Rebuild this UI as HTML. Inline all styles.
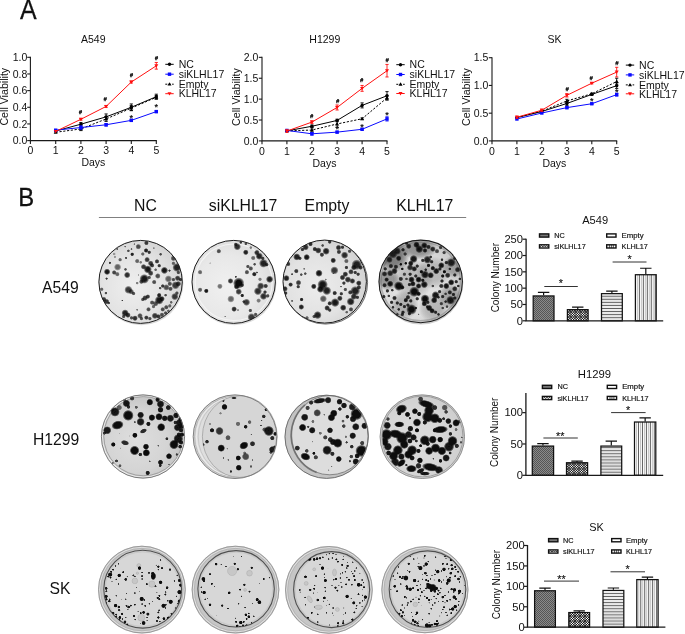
<!DOCTYPE html>
<html><head><meta charset="utf-8"><title>Figure</title>
<style>html,body{margin:0;padding:0;background:#fff;}body{width:685px;height:634px;overflow:hidden;}svg{display:block;will-change:transform;}text{font-family:"Liberation Sans", sans-serif;fill:#111;}</style>
</head><body>
<svg width="685" height="634" viewBox="0 0 685 634">
<defs>
<pattern id="pNC" width="2" height="2" patternUnits="userSpaceOnUse"><rect width="2" height="2" fill="#8a8a8a"/><rect width="1" height="1" fill="#555"/><rect x="1" y="1" width="1" height="1" fill="#555"/></pattern>
<pattern id="pSI" width="2.4" height="2.4" patternUnits="userSpaceOnUse"><rect width="2.4" height="2.4" fill="#111"/><path d="M1.2,0.05 L2.35,1.2 L1.2,2.35 L0.05,1.2 Z" fill="#fff"/></pattern>
<pattern id="pEM" width="4" height="3.05" patternUnits="userSpaceOnUse"><rect width="4" height="3.05" fill="#fff"/><rect y="1.0" width="4" height="0.85" fill="#3a3a3a"/><rect y="2.55" width="4" height="0.4" fill="#d0d0d0"/></pattern>
<pattern id="pKL" width="3.2" height="4" patternUnits="userSpaceOnUse"><rect width="3.2" height="4" fill="#fff"/><rect x="1.1" width="0.85" height="4" fill="#3a3a3a"/></pattern>
<filter id="bl" x="-5%" y="-5%" width="110%" height="110%"><feGaussianBlur stdDeviation="0.45"/></filter>
<filter id="bl2" x="-5%" y="-5%" width="110%" height="110%"><feGaussianBlur stdDeviation="0.7"/></filter>
<radialGradient id="sb"><stop offset="0" stop-color="#0a0a0a" stop-opacity="1"/><stop offset="0.5" stop-color="#0a0a0a" stop-opacity="0.97"/><stop offset="0.75" stop-color="#0a0a0a" stop-opacity="0.6"/><stop offset="1" stop-color="#0a0a0a" stop-opacity="0"/></radialGradient>
<radialGradient id="sb2"><stop offset="0" stop-color="#0a0a0a" stop-opacity="1"/><stop offset="0.65" stop-color="#0a0a0a" stop-opacity="0.97"/><stop offset="0.85" stop-color="#0a0a0a" stop-opacity="0.55"/><stop offset="1" stop-color="#0a0a0a" stop-opacity="0"/></radialGradient>
<filter id="bl3" x="-5%" y="-5%" width="110%" height="110%"><feGaussianBlur stdDeviation="0.68"/></filter>
</defs>
<rect width="685" height="634" fill="#fff"/>
<g opacity="0.999">
<text transform="translate(20.0,18.5) scale(0.89,1)" font-size="28" stroke="#111" stroke-width="0.3">A</text>
<text transform="translate(18.3,205.7) scale(0.92,1)" font-size="26" stroke="#111" stroke-width="0.3">B</text>
<path d="M30.4,56.8 V140.6 H156.8" fill="none" stroke="#1a1a1a" stroke-width="1.1"/>
<line x1="27.2" x2="30.4" y1="140.60" y2="140.60" stroke="#1a1a1a" stroke-width="1.1"/>
<text x="27.3" y="144.30" text-anchor="end" font-size="10.5">0.0</text>
<line x1="27.2" x2="30.4" y1="123.94" y2="123.94" stroke="#1a1a1a" stroke-width="1.1"/>
<text x="27.3" y="127.64" text-anchor="end" font-size="10.5">0.2</text>
<line x1="27.2" x2="30.4" y1="107.28" y2="107.28" stroke="#1a1a1a" stroke-width="1.1"/>
<text x="27.3" y="110.98" text-anchor="end" font-size="10.5">0.4</text>
<line x1="27.2" x2="30.4" y1="90.62" y2="90.62" stroke="#1a1a1a" stroke-width="1.1"/>
<text x="27.3" y="94.32" text-anchor="end" font-size="10.5">0.6</text>
<line x1="27.2" x2="30.4" y1="73.96" y2="73.96" stroke="#1a1a1a" stroke-width="1.1"/>
<text x="27.3" y="77.66" text-anchor="end" font-size="10.5">0.8</text>
<line x1="27.2" x2="30.4" y1="57.30" y2="57.30" stroke="#1a1a1a" stroke-width="1.1"/>
<text x="27.3" y="61.00" text-anchor="end" font-size="10.5">1.0</text>
<line x1="30.4" x2="30.4" y1="140.6" y2="144.0" stroke="#1a1a1a" stroke-width="1.1"/>
<text x="30.4" y="154.30" text-anchor="middle" font-size="10.5">0</text>
<line x1="55.7" x2="55.7" y1="140.6" y2="144.0" stroke="#1a1a1a" stroke-width="1.1"/>
<text x="55.7" y="154.30" text-anchor="middle" font-size="10.5">1</text>
<line x1="80.9" x2="80.9" y1="140.6" y2="144.0" stroke="#1a1a1a" stroke-width="1.1"/>
<text x="80.9" y="154.30" text-anchor="middle" font-size="10.5">2</text>
<line x1="106.1" x2="106.1" y1="140.6" y2="144.0" stroke="#1a1a1a" stroke-width="1.1"/>
<text x="106.1" y="154.30" text-anchor="middle" font-size="10.5">3</text>
<line x1="131.3" x2="131.3" y1="140.6" y2="144.0" stroke="#1a1a1a" stroke-width="1.1"/>
<text x="131.3" y="154.30" text-anchor="middle" font-size="10.5">4</text>
<line x1="156.3" x2="156.3" y1="140.6" y2="144.0" stroke="#1a1a1a" stroke-width="1.1"/>
<text x="156.3" y="154.30" text-anchor="middle" font-size="10.5">5</text>
<text x="93.35000000000001" y="166.40" text-anchor="middle" font-size="10.5">Days</text>
<text x="93.3" y="42.8" text-anchor="middle" font-size="10.5">A549</text>
<text transform="translate(7.8999999999999995,96.7) rotate(-90)" text-anchor="middle" font-size="10.65">Cell Viability</text>
<path d="M55.70,132.27 L80.90,128.94 L106.10,118.94 L131.30,108.11 L156.30,97.28" fill="none" stroke="#000" stroke-width="1" stroke-dasharray="2.2,1.6"/>
<path d="M55.70,130.27 l2,3.4 h-4 z" fill="#000"/>
<path d="M80.90,127.27 V130.60 M79.30,127.27 h3.2 M79.30,130.60 h3.2" stroke="#000" stroke-width="0.9" fill="none"/>
<path d="M80.90,126.94 l2,3.4 h-4 z" fill="#000"/>
<path d="M106.10,116.44 V121.44 M104.50,116.44 h3.2 M104.50,121.44 h3.2" stroke="#000" stroke-width="0.9" fill="none"/>
<path d="M106.10,116.94 l2,3.4 h-4 z" fill="#000"/>
<path d="M131.30,105.61 V110.61 M129.70,105.61 h3.2 M129.70,110.61 h3.2" stroke="#000" stroke-width="0.9" fill="none"/>
<path d="M131.30,106.11 l2,3.4 h-4 z" fill="#000"/>
<path d="M156.30,95.62 V98.95 M154.70,95.62 h3.2 M154.70,98.95 h3.2" stroke="#000" stroke-width="0.9" fill="none"/>
<path d="M156.30,95.28 l2,3.4 h-4 z" fill="#000"/>
<path d="M55.70,131.02 L80.90,124.19 L106.10,116.86 L131.30,107.28 L156.30,96.70" fill="none" stroke="#000" stroke-width="1"/>
<circle cx="55.70" cy="131.02" r="1.7" fill="#000"/>
<path d="M80.90,122.52 V125.86 M79.30,122.52 h3.2 M79.30,125.86 h3.2" stroke="#000" stroke-width="0.9" fill="none"/>
<circle cx="80.90" cy="124.19" r="1.7" fill="#000"/>
<path d="M106.10,113.94 V119.77 M104.50,113.94 h3.2 M104.50,119.77 h3.2" stroke="#000" stroke-width="0.9" fill="none"/>
<circle cx="106.10" cy="116.86" r="1.7" fill="#000"/>
<path d="M131.30,103.95 V110.61 M129.70,103.95 h3.2 M129.70,110.61 h3.2" stroke="#000" stroke-width="0.9" fill="none"/>
<circle cx="131.30" cy="107.28" r="1.7" fill="#000"/>
<path d="M156.30,94.20 V99.20 M154.70,94.20 h3.2 M154.70,99.20 h3.2" stroke="#000" stroke-width="0.9" fill="none"/>
<circle cx="156.30" cy="96.70" r="1.7" fill="#000"/>
<path d="M55.70,130.19 L80.90,127.52 L106.10,124.77 L131.30,120.36 L156.30,111.61" fill="none" stroke="#0a0aff" stroke-width="1"/>
<rect x="54.00" y="128.49" width="3.4" height="3.4" fill="#0a0aff"/>
<path d="M80.90,125.86 V129.19 M79.30,125.86 h3.2 M79.30,129.19 h3.2" stroke="#0a0aff" stroke-width="0.9" fill="none"/>
<rect x="79.20" y="125.82" width="3.4" height="3.4" fill="#0a0aff"/>
<path d="M106.10,123.52 V126.02 M104.50,123.52 h3.2 M104.50,126.02 h3.2" stroke="#0a0aff" stroke-width="0.9" fill="none"/>
<rect x="104.40" y="123.07" width="3.4" height="3.4" fill="#0a0aff"/>
<path d="M131.30,119.36 V121.36 M129.70,119.36 h3.2 M129.70,121.36 h3.2" stroke="#0a0aff" stroke-width="0.9" fill="none"/>
<rect x="129.60" y="118.66" width="3.4" height="3.4" fill="#0a0aff"/>
<path d="M156.30,110.61 V112.61 M154.70,110.61 h3.2 M154.70,112.61 h3.2" stroke="#0a0aff" stroke-width="0.9" fill="none"/>
<rect x="154.60" y="109.91" width="3.4" height="3.4" fill="#0a0aff"/>
<path d="M55.70,131.44 L80.90,119.28 L106.10,106.45 L131.30,82.04 L156.30,65.80" fill="none" stroke="#ff1010" stroke-width="1"/>
<path d="M55.70,133.34 l2,-3.4 h-4 z" fill="#ff1010"/>
<path d="M80.90,118.44 V120.11 M79.30,118.44 h3.2 M79.30,120.11 h3.2" stroke="#ff1010" stroke-width="0.9" fill="none"/>
<path d="M80.90,121.18 l2,-3.4 h-4 z" fill="#ff1010"/>
<path d="M106.10,105.45 V107.45 M104.50,105.45 h3.2 M104.50,107.45 h3.2" stroke="#ff1010" stroke-width="0.9" fill="none"/>
<path d="M106.10,108.35 l2,-3.4 h-4 z" fill="#ff1010"/>
<path d="M131.30,81.04 V83.04 M129.70,81.04 h3.2 M129.70,83.04 h3.2" stroke="#ff1010" stroke-width="0.9" fill="none"/>
<path d="M131.30,83.94 l2,-3.4 h-4 z" fill="#ff1010"/>
<path d="M156.30,62.46 V69.13 M154.70,62.46 h3.2 M154.70,69.13 h3.2" stroke="#ff1010" stroke-width="0.9" fill="none"/>
<path d="M156.30,67.70 l2,-3.4 h-4 z" fill="#ff1010"/>
<text x="80.4" y="114.0" text-anchor="middle" font-size="5.8" font-weight="bold" font-style="italic" fill="#000" stroke="#000" stroke-width="0.25">#</text>
<text x="105.2" y="101.3" text-anchor="middle" font-size="5.8" font-weight="bold" font-style="italic" fill="#000" stroke="#000" stroke-width="0.25">#</text>
<text x="131.3" y="77.0" text-anchor="middle" font-size="5.8" font-weight="bold" font-style="italic" fill="#000" stroke="#000" stroke-width="0.25">#</text>
<text x="156.3" y="60.0" text-anchor="middle" font-size="5.8" font-weight="bold" font-style="italic" fill="#000" stroke="#000" stroke-width="0.25">#</text>
<text x="131.3" y="120.9" text-anchor="middle" font-size="9" font-weight="bold" fill="#000">*</text>
<text x="156.3" y="110.4" text-anchor="middle" font-size="9" font-weight="bold" fill="#000">*</text>
<line x1="165.3" x2="173.70000000000002" y1="64.3" y2="64.3" stroke="#000" stroke-width="1"/>
<circle cx="169.50" cy="64.30" r="1.7" fill="#000"/>
<text x="178.70000000000002" y="68.0" font-size="10.5">NC</text>
<line x1="165.3" x2="173.70000000000002" y1="74.2" y2="74.2" stroke="#0a0aff" stroke-width="1"/>
<rect x="167.80" y="72.50" width="3.4" height="3.4" fill="#0a0aff"/>
<text x="178.70000000000002" y="77.9" font-size="10.5">siKLHL17</text>
<line x1="165.3" x2="173.70000000000002" y1="84.2" y2="84.2" stroke="#000" stroke-width="1" stroke-dasharray="2,1.4"/>
<path d="M169.50,82.20 l2,3.4 h-4 z" fill="#000"/>
<text x="178.70000000000002" y="87.9" font-size="10.5">Empty</text>
<line x1="165.3" x2="173.70000000000002" y1="93.7" y2="93.7" stroke="#ff1010" stroke-width="1"/>
<path d="M169.50,95.60 l2,-3.4 h-4 z" fill="#ff1010"/>
<text x="178.70000000000002" y="97.4" font-size="10.5">KLHL17</text>
<path d="M262,56.85 V140.9 H387.5" fill="none" stroke="#1a1a1a" stroke-width="1.1"/>
<line x1="258.8" x2="262" y1="140.90" y2="140.90" stroke="#1a1a1a" stroke-width="1.1"/>
<text x="258.4" y="144.60" text-anchor="end" font-size="10.5">0.0</text>
<line x1="258.8" x2="262" y1="120.01" y2="120.01" stroke="#1a1a1a" stroke-width="1.1"/>
<text x="258.4" y="123.71" text-anchor="end" font-size="10.5">0.5</text>
<line x1="258.8" x2="262" y1="99.12" y2="99.12" stroke="#1a1a1a" stroke-width="1.1"/>
<text x="258.4" y="102.83" text-anchor="end" font-size="10.5">1.0</text>
<line x1="258.8" x2="262" y1="78.24" y2="78.24" stroke="#1a1a1a" stroke-width="1.1"/>
<text x="258.4" y="81.94" text-anchor="end" font-size="10.5">1.5</text>
<line x1="258.8" x2="262" y1="57.35" y2="57.35" stroke="#1a1a1a" stroke-width="1.1"/>
<text x="258.4" y="61.05" text-anchor="end" font-size="10.5">2.0</text>
<line x1="262" x2="262" y1="140.9" y2="144.3" stroke="#1a1a1a" stroke-width="1.1"/>
<text x="262" y="154.60" text-anchor="middle" font-size="10.5">0</text>
<line x1="286.9" x2="286.9" y1="140.9" y2="144.3" stroke="#1a1a1a" stroke-width="1.1"/>
<text x="286.9" y="154.60" text-anchor="middle" font-size="10.5">1</text>
<line x1="311.9" x2="311.9" y1="140.9" y2="144.3" stroke="#1a1a1a" stroke-width="1.1"/>
<text x="311.9" y="154.60" text-anchor="middle" font-size="10.5">2</text>
<line x1="337.1" x2="337.1" y1="140.9" y2="144.3" stroke="#1a1a1a" stroke-width="1.1"/>
<text x="337.1" y="154.60" text-anchor="middle" font-size="10.5">3</text>
<line x1="362.1" x2="362.1" y1="140.9" y2="144.3" stroke="#1a1a1a" stroke-width="1.1"/>
<text x="362.1" y="154.60" text-anchor="middle" font-size="10.5">4</text>
<line x1="387" x2="387" y1="140.9" y2="144.3" stroke="#1a1a1a" stroke-width="1.1"/>
<text x="387" y="154.60" text-anchor="middle" font-size="10.5">5</text>
<text x="324.5" y="166.70" text-anchor="middle" font-size="10.5">Days</text>
<text x="324.8" y="42.8" text-anchor="middle" font-size="10.5">H1299</text>
<text transform="translate(240.1,97) rotate(-90)" text-anchor="middle" font-size="10.65">Cell Viability</text>
<path d="M286.90,130.87 L311.90,130.04 L337.10,123.98 L362.10,118.76 L387.00,97.87" fill="none" stroke="#000" stroke-width="1" stroke-dasharray="2.2,1.6"/>
<path d="M286.90,128.87 l2,3.4 h-4 z" fill="#000"/>
<path d="M311.90,127.95 V132.13 M310.30,127.95 h3.2 M310.30,132.13 h3.2" stroke="#000" stroke-width="0.9" fill="none"/>
<path d="M311.90,128.04 l2,3.4 h-4 z" fill="#000"/>
<path d="M337.10,120.64 V127.32 M335.50,120.64 h3.2 M335.50,127.32 h3.2" stroke="#000" stroke-width="0.9" fill="none"/>
<path d="M337.10,121.98 l2,3.4 h-4 z" fill="#000"/>
<path d="M362.10,117.92 V119.59 M360.50,117.92 h3.2 M360.50,119.59 h3.2" stroke="#000" stroke-width="0.9" fill="none"/>
<path d="M362.10,116.76 l2,3.4 h-4 z" fill="#000"/>
<path d="M387.00,95.78 V99.96 M385.40,95.78 h3.2 M385.40,99.96 h3.2" stroke="#000" stroke-width="0.9" fill="none"/>
<path d="M387.00,95.87 l2,3.4 h-4 z" fill="#000"/>
<path d="M286.90,130.87 L311.90,126.28 L337.10,120.43 L362.10,105.39 L387.00,95.78" fill="none" stroke="#000" stroke-width="1"/>
<circle cx="286.90" cy="130.87" r="1.7" fill="#000"/>
<path d="M311.90,125.03 V127.53 M310.30,125.03 h3.2 M310.30,127.53 h3.2" stroke="#000" stroke-width="0.9" fill="none"/>
<circle cx="311.90" cy="126.28" r="1.7" fill="#000"/>
<path d="M337.10,119.18 V121.68 M335.50,119.18 h3.2 M335.50,121.68 h3.2" stroke="#000" stroke-width="0.9" fill="none"/>
<circle cx="337.10" cy="120.43" r="1.7" fill="#000"/>
<path d="M362.10,102.88 V107.90 M360.50,102.88 h3.2 M360.50,107.90 h3.2" stroke="#000" stroke-width="0.9" fill="none"/>
<circle cx="362.10" cy="105.39" r="1.7" fill="#000"/>
<path d="M387.00,91.61 V99.96 M385.40,91.61 h3.2 M385.40,99.96 h3.2" stroke="#000" stroke-width="0.9" fill="none"/>
<circle cx="387.00" cy="95.78" r="1.7" fill="#000"/>
<path d="M286.90,130.46 L311.90,133.80 L337.10,132.13 L362.10,129.29 L387.00,118.88" fill="none" stroke="#0a0aff" stroke-width="1"/>
<rect x="285.20" y="128.76" width="3.4" height="3.4" fill="#0a0aff"/>
<path d="M311.90,132.54 V135.05 M310.30,132.54 h3.2 M310.30,135.05 h3.2" stroke="#0a0aff" stroke-width="0.9" fill="none"/>
<rect x="310.20" y="132.10" width="3.4" height="3.4" fill="#0a0aff"/>
<path d="M337.10,131.29 V132.96 M335.50,131.29 h3.2 M335.50,132.96 h3.2" stroke="#0a0aff" stroke-width="0.9" fill="none"/>
<rect x="335.40" y="130.43" width="3.4" height="3.4" fill="#0a0aff"/>
<path d="M362.10,128.45 V130.12 M360.50,128.45 h3.2 M360.50,130.12 h3.2" stroke="#0a0aff" stroke-width="0.9" fill="none"/>
<rect x="360.40" y="127.59" width="3.4" height="3.4" fill="#0a0aff"/>
<path d="M387.00,116.80 V120.97 M385.40,116.80 h3.2 M385.40,120.97 h3.2" stroke="#0a0aff" stroke-width="0.9" fill="none"/>
<rect x="385.30" y="117.18" width="3.4" height="3.4" fill="#0a0aff"/>
<path d="M286.90,131.08 L311.90,122.10 L337.10,107.48 L362.10,88.39 L387.00,70.72" fill="none" stroke="#ff1010" stroke-width="1"/>
<path d="M286.90,129.83 V132.34 M285.30,129.83 h3.2 M285.30,132.34 h3.2" stroke="#ff1010" stroke-width="0.9" fill="none"/>
<path d="M286.90,132.98 l2,-3.4 h-4 z" fill="#ff1010"/>
<path d="M311.90,120.85 V123.35 M310.30,120.85 h3.2 M310.30,123.35 h3.2" stroke="#ff1010" stroke-width="0.9" fill="none"/>
<path d="M311.90,124.00 l2,-3.4 h-4 z" fill="#ff1010"/>
<path d="M337.10,104.97 V109.99 M335.50,104.97 h3.2 M335.50,109.99 h3.2" stroke="#ff1010" stroke-width="0.9" fill="none"/>
<path d="M337.10,109.38 l2,-3.4 h-4 z" fill="#ff1010"/>
<path d="M362.10,85.46 V91.31 M360.50,85.46 h3.2 M360.50,91.31 h3.2" stroke="#ff1010" stroke-width="0.9" fill="none"/>
<path d="M362.10,90.29 l2,-3.4 h-4 z" fill="#ff1010"/>
<path d="M387.00,64.45 V76.98 M385.40,64.45 h3.2 M385.40,76.98 h3.2" stroke="#ff1010" stroke-width="0.9" fill="none"/>
<path d="M387.00,72.62 l2,-3.4 h-4 z" fill="#ff1010"/>
<text x="311.6" y="118.39999999999999" text-anchor="middle" font-size="5.8" font-weight="bold" font-style="italic" fill="#000" stroke="#000" stroke-width="0.25">#</text>
<text x="337.5" y="102.8" text-anchor="middle" font-size="5.8" font-weight="bold" font-style="italic" fill="#000" stroke="#000" stroke-width="0.25">#</text>
<text x="361.6" y="82.2" text-anchor="middle" font-size="5.8" font-weight="bold" font-style="italic" fill="#000" stroke="#000" stroke-width="0.25">#</text>
<text x="387" y="62.0" text-anchor="middle" font-size="5.8" font-weight="bold" font-style="italic" fill="#000" stroke="#000" stroke-width="0.25">#</text>
<text x="337.2" y="132.4" text-anchor="middle" font-size="9" font-weight="bold" fill="#000">*</text>
<text x="362" y="129.9" text-anchor="middle" font-size="9" font-weight="bold" fill="#000">*</text>
<text x="387" y="118.0" text-anchor="middle" font-size="9" font-weight="bold" fill="#000">*</text>
<line x1="396.3" x2="404.7" y1="64.7" y2="64.7" stroke="#000" stroke-width="1"/>
<circle cx="400.50" cy="64.70" r="1.7" fill="#000"/>
<text x="409.59999999999997" y="68.4" font-size="10.5">NC</text>
<line x1="396.3" x2="404.7" y1="74.5" y2="74.5" stroke="#0a0aff" stroke-width="1"/>
<rect x="398.80" y="72.80" width="3.4" height="3.4" fill="#0a0aff"/>
<text x="409.59999999999997" y="78.2" font-size="10.5">siKLHL17</text>
<line x1="396.3" x2="404.7" y1="84.3" y2="84.3" stroke="#000" stroke-width="1" stroke-dasharray="2,1.4"/>
<path d="M400.50,82.30 l2,3.4 h-4 z" fill="#000"/>
<text x="409.59999999999997" y="88.0" font-size="10.5">Empty</text>
<line x1="396.3" x2="404.7" y1="93.5" y2="93.5" stroke="#ff1010" stroke-width="1"/>
<path d="M400.50,95.40 l2,-3.4 h-4 z" fill="#ff1010"/>
<text x="409.59999999999997" y="97.2" font-size="10.5">KLHL17</text>
<path d="M492,57.2 V140.9 H617.2" fill="none" stroke="#1a1a1a" stroke-width="1.1"/>
<line x1="488.8" x2="492" y1="140.90" y2="140.90" stroke="#1a1a1a" stroke-width="1.1"/>
<text x="488.4" y="144.60" text-anchor="end" font-size="10.5">0.0</text>
<line x1="488.8" x2="492" y1="113.17" y2="113.17" stroke="#1a1a1a" stroke-width="1.1"/>
<text x="488.4" y="116.87" text-anchor="end" font-size="10.5">0.5</text>
<line x1="488.8" x2="492" y1="85.43" y2="85.43" stroke="#1a1a1a" stroke-width="1.1"/>
<text x="488.4" y="89.13" text-anchor="end" font-size="10.5">1.0</text>
<line x1="488.8" x2="492" y1="57.70" y2="57.70" stroke="#1a1a1a" stroke-width="1.1"/>
<text x="488.4" y="61.40" text-anchor="end" font-size="10.5">1.5</text>
<line x1="492" x2="492" y1="140.9" y2="144.3" stroke="#1a1a1a" stroke-width="1.1"/>
<text x="492" y="154.60" text-anchor="middle" font-size="10.5">0</text>
<line x1="516.9" x2="516.9" y1="140.9" y2="144.3" stroke="#1a1a1a" stroke-width="1.1"/>
<text x="516.9" y="154.60" text-anchor="middle" font-size="10.5">1</text>
<line x1="541.8" x2="541.8" y1="140.9" y2="144.3" stroke="#1a1a1a" stroke-width="1.1"/>
<text x="541.8" y="154.60" text-anchor="middle" font-size="10.5">2</text>
<line x1="566.9" x2="566.9" y1="140.9" y2="144.3" stroke="#1a1a1a" stroke-width="1.1"/>
<text x="566.9" y="154.60" text-anchor="middle" font-size="10.5">3</text>
<line x1="591.8" x2="591.8" y1="140.9" y2="144.3" stroke="#1a1a1a" stroke-width="1.1"/>
<text x="591.8" y="154.60" text-anchor="middle" font-size="10.5">4</text>
<line x1="616.7" x2="616.7" y1="140.9" y2="144.3" stroke="#1a1a1a" stroke-width="1.1"/>
<text x="616.7" y="154.60" text-anchor="middle" font-size="10.5">5</text>
<text x="554.35" y="166.70" text-anchor="middle" font-size="10.5">Days</text>
<text x="554.4" y="42.8" text-anchor="middle" font-size="10.5">SK</text>
<text transform="translate(470.09999999999997,97) rotate(-90)" text-anchor="middle" font-size="10.65">Cell Viability</text>
<path d="M516.90,117.60 L541.80,111.23 L566.90,100.96 L591.80,93.75 L616.70,81.55" fill="none" stroke="#000" stroke-width="1" stroke-dasharray="2.2,1.6"/>
<path d="M516.90,115.60 l2,3.4 h-4 z" fill="#000"/>
<path d="M541.80,109.23 l2,3.4 h-4 z" fill="#000"/>
<path d="M566.90,99.30 V102.63 M565.30,99.30 h3.2 M565.30,102.63 h3.2" stroke="#000" stroke-width="0.9" fill="none"/>
<path d="M566.90,98.96 l2,3.4 h-4 z" fill="#000"/>
<path d="M591.80,93.09 V94.42 M590.20,93.09 h3.2 M590.20,94.42 h3.2" stroke="#000" stroke-width="0.9" fill="none"/>
<path d="M591.80,91.75 l2,3.4 h-4 z" fill="#000"/>
<path d="M616.70,78.22 V84.88 M615.10,78.22 h3.2 M615.10,84.88 h3.2" stroke="#000" stroke-width="0.9" fill="none"/>
<path d="M616.70,79.55 l2,3.4 h-4 z" fill="#000"/>
<path d="M516.90,117.60 L541.80,111.50 L566.90,103.46 L591.80,94.42 L616.70,85.66" fill="none" stroke="#000" stroke-width="1"/>
<circle cx="516.90" cy="117.60" r="1.7" fill="#000"/>
<circle cx="541.80" cy="111.50" r="1.7" fill="#000"/>
<path d="M566.90,101.52 V105.40 M565.30,101.52 h3.2 M565.30,105.40 h3.2" stroke="#000" stroke-width="0.9" fill="none"/>
<circle cx="566.90" cy="103.46" r="1.7" fill="#000"/>
<path d="M591.80,93.75 V95.08 M590.20,93.75 h3.2 M590.20,95.08 h3.2" stroke="#000" stroke-width="0.9" fill="none"/>
<circle cx="591.80" cy="94.42" r="1.7" fill="#000"/>
<path d="M616.70,82.88 V88.43 M615.10,82.88 h3.2 M615.10,88.43 h3.2" stroke="#000" stroke-width="0.9" fill="none"/>
<circle cx="616.70" cy="85.66" r="1.7" fill="#000"/>
<path d="M516.90,118.99 L541.80,113.00 L566.90,107.62 L591.80,103.74 L616.70,94.64" fill="none" stroke="#0a0aff" stroke-width="1"/>
<rect x="515.20" y="117.29" width="3.4" height="3.4" fill="#0a0aff"/>
<rect x="540.10" y="111.30" width="3.4" height="3.4" fill="#0a0aff"/>
<path d="M566.90,106.51 V108.73 M565.30,106.51 h3.2 M565.30,108.73 h3.2" stroke="#0a0aff" stroke-width="0.9" fill="none"/>
<rect x="565.20" y="105.92" width="3.4" height="3.4" fill="#0a0aff"/>
<path d="M591.80,103.07 V104.40 M590.20,103.07 h3.2 M590.20,104.40 h3.2" stroke="#0a0aff" stroke-width="0.9" fill="none"/>
<rect x="590.10" y="102.04" width="3.4" height="3.4" fill="#0a0aff"/>
<path d="M616.70,93.25 V96.03 M615.10,93.25 h3.2 M615.10,96.03 h3.2" stroke="#0a0aff" stroke-width="0.9" fill="none"/>
<rect x="615.00" y="92.94" width="3.4" height="3.4" fill="#0a0aff"/>
<path d="M516.90,117.22 L541.80,110.23 L566.90,95.31 L591.80,83.21 L616.70,72.12" fill="none" stroke="#ff1010" stroke-width="1"/>
<path d="M516.90,116.11 V118.33 M515.30,116.11 h3.2 M515.30,118.33 h3.2" stroke="#ff1010" stroke-width="0.9" fill="none"/>
<path d="M516.90,119.12 l2,-3.4 h-4 z" fill="#ff1010"/>
<path d="M541.80,109.12 V111.34 M540.20,109.12 h3.2 M540.20,111.34 h3.2" stroke="#ff1010" stroke-width="0.9" fill="none"/>
<path d="M541.80,112.13 l2,-3.4 h-4 z" fill="#ff1010"/>
<path d="M566.90,93.64 V96.97 M565.30,93.64 h3.2 M565.30,96.97 h3.2" stroke="#ff1010" stroke-width="0.9" fill="none"/>
<path d="M566.90,97.21 l2,-3.4 h-4 z" fill="#ff1010"/>
<path d="M591.80,82.55 V83.88 M590.20,82.55 h3.2 M590.20,83.88 h3.2" stroke="#ff1010" stroke-width="0.9" fill="none"/>
<path d="M591.80,85.11 l2,-3.4 h-4 z" fill="#ff1010"/>
<path d="M616.70,67.30 V76.95 M615.10,67.30 h3.2 M615.10,76.95 h3.2" stroke="#ff1010" stroke-width="0.9" fill="none"/>
<path d="M616.70,74.02 l2,-3.4 h-4 z" fill="#ff1010"/>
<text x="567" y="90.89999999999999" text-anchor="middle" font-size="5.8" font-weight="bold" font-style="italic" fill="#000" stroke="#000" stroke-width="0.25">#</text>
<text x="591.2" y="80.3" text-anchor="middle" font-size="5.8" font-weight="bold" font-style="italic" fill="#000" stroke="#000" stroke-width="0.25">#</text>
<text x="616.9" y="64.8" text-anchor="middle" font-size="5.8" font-weight="bold" font-style="italic" fill="#000" stroke="#000" stroke-width="0.25">#</text>
<text x="591.8" y="104.3" text-anchor="middle" font-size="9" font-weight="bold" fill="#000">*</text>
<text x="616.7" y="95.2" text-anchor="middle" font-size="9" font-weight="bold" fill="#000">*</text>
<line x1="625.8" x2="634.1999999999999" y1="65.1" y2="65.1" stroke="#000" stroke-width="1"/>
<circle cx="630.00" cy="65.10" r="1.7" fill="#000"/>
<text x="639.1" y="68.8" font-size="10.5">NC</text>
<line x1="625.8" x2="634.1999999999999" y1="74.9" y2="74.9" stroke="#0a0aff" stroke-width="1"/>
<rect x="628.30" y="73.20" width="3.4" height="3.4" fill="#0a0aff"/>
<text x="639.1" y="78.60000000000001" font-size="10.5">siKLHL17</text>
<line x1="625.8" x2="634.1999999999999" y1="84.9" y2="84.9" stroke="#000" stroke-width="1" stroke-dasharray="2,1.4"/>
<path d="M630.00,82.90 l2,3.4 h-4 z" fill="#000"/>
<text x="639.1" y="88.60000000000001" font-size="10.5">Empty</text>
<line x1="625.8" x2="634.1999999999999" y1="93.8" y2="93.8" stroke="#ff1010" stroke-width="1"/>
<path d="M630.00,95.70 l2,-3.4 h-4 z" fill="#ff1010"/>
<text x="639.1" y="97.5" font-size="10.5">KLHL17</text>
<line x1="98.9" x2="466.2" y1="217.5" y2="217.5" stroke="#808080" stroke-width="1"/>
<text x="145.5" y="210.5" text-anchor="middle" font-size="15.8">NC</text>
<text x="243" y="210.5" text-anchor="middle" font-size="15.8">siKLHL17</text>
<text x="327" y="210.5" text-anchor="middle" font-size="15.8">Empty</text>
<text x="424.7" y="210.5" text-anchor="middle" font-size="15.8">KLHL17</text>
<text x="60.4" y="292.9" text-anchor="middle" font-size="15.7">A549</text>
<text x="56.0" y="444.6" text-anchor="middle" font-size="15.7">H1299</text>
<text x="59.9" y="593.9" text-anchor="middle" font-size="15.7">SK</text>
<defs><clipPath id="clipa1"><ellipse cx="140.6" cy="281.9" rx="42.0" ry="41.8"/></clipPath>
<radialGradient id="grada1" cx="0.42" cy="0.55" r="0.62"><stop offset="0" stop-color="#efefef"/><stop offset="0.6" stop-color="#e3e3e3"/><stop offset="1" stop-color="#d2d2d2"/></radialGradient></defs>
<g filter="url(#bl)">
<ellipse cx="141.2" cy="283.2" rx="42.2" ry="42" fill="#d9d9d9"/>
<ellipse cx="140.6" cy="281.9" rx="42.0" ry="41.8" fill="url(#grada1)"/>
<g clip-path="url(#clipa1)"><g>
<circle cx="138.3" cy="246.7" r="2.88" fill="url(#sb)" fill-opacity="0.70"/>
<circle cx="146.4" cy="243.0" r="2.47" fill="url(#sb)" fill-opacity="0.80"/>
<circle cx="146.1" cy="250.5" r="2.47" fill="url(#sb)" fill-opacity="0.90"/>
<circle cx="149.2" cy="252.3" r="2.06" fill="url(#sb)" fill-opacity="0.80"/>
<circle cx="132.2" cy="254.3" r="2.06" fill="url(#sb)" fill-opacity="0.90"/>
<circle cx="128.4" cy="250.8" r="1.65" fill="url(#sb)" fill-opacity="0.70"/>
<circle cx="131.5" cy="249.1" r="1.24" fill="url(#sb)" fill-opacity="0.60"/>
<circle cx="142.8" cy="254.0" r="2.06" fill="url(#sb)" fill-opacity="0.60"/>
<circle cx="114.2" cy="254.0" r="1.65" fill="url(#sb)" fill-opacity="0.35"/>
<circle cx="114.9" cy="256.9" r="1.44" fill="url(#sb)" fill-opacity="0.35"/>
<circle cx="160.6" cy="254.3" r="1.65" fill="url(#sb)" fill-opacity="0.70"/>
<circle cx="120.1" cy="259.7" r="2.06" fill="url(#sb)" fill-opacity="0.60"/>
<circle cx="126.1" cy="257.9" r="1.44" fill="url(#sb)" fill-opacity="0.70"/>
<circle cx="137.2" cy="261.1" r="2.47" fill="url(#sb)" fill-opacity="0.60"/>
<circle cx="140.7" cy="262.3" r="1.65" fill="url(#sb)" fill-opacity="0.50"/>
<circle cx="109.9" cy="262.8" r="1.44" fill="url(#sb)" fill-opacity="0.80"/>
<circle cx="117.6" cy="267.1" r="3.71" fill="url(#sb)" fill-opacity="0.60"/>
<circle cx="114.2" cy="272.5" r="2.47" fill="url(#sb)" fill-opacity="0.75"/>
<circle cx="117.3" cy="274.2" r="2.47" fill="url(#sb)" fill-opacity="0.60"/>
<circle cx="107.1" cy="271.8" r="3.29" fill="url(#sb)" fill-opacity="0.95"/>
<circle cx="125.5" cy="269.4" r="1.65" fill="url(#sb)" fill-opacity="0.70"/>
<circle cx="127.2" cy="275.0" r="3.29" fill="url(#sb)" fill-opacity="0.85"/>
<circle cx="106.6" cy="278.6" r="1.44" fill="url(#sb)" fill-opacity="0.80"/>
<circle cx="147.1" cy="259.7" r="2.88" fill="url(#sb)" fill-opacity="0.80"/>
<circle cx="150.7" cy="263.3" r="2.88" fill="url(#sb)" fill-opacity="0.80"/>
<circle cx="143.6" cy="266.8" r="2.88" fill="url(#sb)" fill-opacity="0.80"/>
<circle cx="147.8" cy="269.4" r="4.12" fill="url(#sb)" fill-opacity="0.95"/>
<circle cx="152.1" cy="265.4" r="2.47" fill="url(#sb)" fill-opacity="0.80"/>
<circle cx="157.0" cy="261.4" r="2.47" fill="url(#sb)" fill-opacity="0.80"/>
<circle cx="159.2" cy="265.7" r="2.06" fill="url(#sb)" fill-opacity="0.80"/>
<circle cx="155.6" cy="269.7" r="1.65" fill="url(#sb)" fill-opacity="0.60"/>
<circle cx="150.7" cy="273.2" r="2.88" fill="url(#sb)" fill-opacity="0.80"/>
<circle cx="144.3" cy="278.9" r="4.94" fill="url(#sb)" fill-opacity="0.95"/>
<circle cx="141.4" cy="281.7" r="2.47" fill="url(#sb)" fill-opacity="0.70"/>
<circle cx="137.2" cy="283.1" r="1.65" fill="url(#sb)" fill-opacity="0.50"/>
<circle cx="149.2" cy="277.5" r="2.06" fill="url(#sb)" fill-opacity="0.70"/>
<circle cx="154.2" cy="282.1" r="2.47" fill="url(#sb)" fill-opacity="0.70"/>
<circle cx="157.8" cy="276.0" r="2.88" fill="url(#sb)" fill-opacity="0.70"/>
<circle cx="164.4" cy="270.4" r="3.71" fill="url(#sb)" fill-opacity="0.95"/>
<circle cx="169.5" cy="270.6" r="1.44" fill="url(#sb)" fill-opacity="0.80"/>
<circle cx="176.9" cy="267.5" r="4.53" fill="url(#sb)" fill-opacity="0.90"/>
<circle cx="173.4" cy="258.3" r="2.88" fill="url(#sb)" fill-opacity="0.70"/>
<circle cx="168.4" cy="278.9" r="3.71" fill="url(#sb)" fill-opacity="0.60"/>
<circle cx="173.4" cy="279.6" r="2.06" fill="url(#sb)" fill-opacity="0.70"/>
<circle cx="177.6" cy="278.2" r="2.88" fill="url(#sb)" fill-opacity="0.80"/>
<circle cx="180.5" cy="279.6" r="2.06" fill="url(#sb)" fill-opacity="0.80"/>
<circle cx="175.5" cy="285.3" r="4.12" fill="url(#sb)" fill-opacity="0.80"/>
<circle cx="178.3" cy="283.8" r="2.88" fill="url(#sb)" fill-opacity="0.80"/>
<circle cx="169.8" cy="283.8" r="2.47" fill="url(#sb)" fill-opacity="0.70"/>
<circle cx="166.3" cy="287.4" r="3.29" fill="url(#sb)" fill-opacity="0.70"/>
<circle cx="162.7" cy="286.0" r="2.06" fill="url(#sb)" fill-opacity="0.80"/>
<circle cx="160.2" cy="288.1" r="1.65" fill="url(#sb)" fill-opacity="0.70"/>
<circle cx="170.5" cy="288.8" r="2.47" fill="url(#sb)" fill-opacity="0.70"/>
<circle cx="174.8" cy="296.6" r="3.71" fill="url(#sb)" fill-opacity="0.80"/>
<circle cx="176.9" cy="293.1" r="2.06" fill="url(#sb)" fill-opacity="0.70"/>
<circle cx="128.4" cy="289.8" r="4.12" fill="url(#sb)" fill-opacity="0.80"/>
<circle cx="131.2" cy="291.7" r="2.88" fill="url(#sb)" fill-opacity="0.70"/>
<circle cx="133.6" cy="293.5" r="2.06" fill="url(#sb)" fill-opacity="0.70"/>
<circle cx="101.7" cy="289.2" r="2.06" fill="url(#sb)" fill-opacity="0.60"/>
<circle cx="105.9" cy="293.1" r="1.65" fill="url(#sb)" fill-opacity="0.70"/>
<circle cx="145.0" cy="298.0" r="2.88" fill="url(#sb)" fill-opacity="0.80"/>
<circle cx="147.8" cy="296.6" r="2.47" fill="url(#sb)" fill-opacity="0.80"/>
<circle cx="142.8" cy="299.5" r="2.06" fill="url(#sb)" fill-opacity="0.70"/>
<circle cx="159.2" cy="295.2" r="2.47" fill="url(#sb)" fill-opacity="0.90"/>
<circle cx="165.6" cy="295.2" r="1.65" fill="url(#sb)" fill-opacity="0.70"/>
<circle cx="159.2" cy="300.2" r="4.53" fill="url(#sb)" fill-opacity="0.95"/>
<circle cx="162.0" cy="298.8" r="2.88" fill="url(#sb)" fill-opacity="0.85"/>
<circle cx="155.6" cy="303.7" r="2.88" fill="url(#sb)" fill-opacity="0.70"/>
<circle cx="152.1" cy="302.6" r="2.47" fill="url(#sb)" fill-opacity="0.70"/>
<circle cx="153.5" cy="306.6" r="2.06" fill="url(#sb)" fill-opacity="0.60"/>
<circle cx="148.5" cy="309.4" r="2.47" fill="url(#sb)" fill-opacity="0.70"/>
<circle cx="122.3" cy="300.5" r="1.03" fill="url(#sb)" fill-opacity="0.80"/>
<circle cx="103.8" cy="299.5" r="2.88" fill="url(#sb)" fill-opacity="0.80"/>
<circle cx="106.6" cy="301.6" r="2.88" fill="url(#sb)" fill-opacity="0.80"/>
<circle cx="108.8" cy="303.0" r="1.65" fill="url(#sb)" fill-opacity="0.70"/>
<circle cx="137.2" cy="309.7" r="1.24" fill="url(#sb)" fill-opacity="0.50"/>
<circle cx="162.7" cy="309.4" r="2.47" fill="url(#sb)" fill-opacity="0.70"/>
<circle cx="166.3" cy="307.3" r="2.47" fill="url(#sb)" fill-opacity="0.70"/>
<circle cx="169.8" cy="305.9" r="2.06" fill="url(#sb)" fill-opacity="0.60"/>
<circle cx="125.1" cy="313.0" r="3.71" fill="url(#sb)" fill-opacity="0.90"/>
<circle cx="127.9" cy="315.1" r="2.88" fill="url(#sb)" fill-opacity="0.85"/>
<circle cx="123.7" cy="316.5" r="2.06" fill="url(#sb)" fill-opacity="0.70"/>
<circle cx="131.5" cy="317.9" r="2.06" fill="url(#sb)" fill-opacity="0.70"/>
<circle cx="135.0" cy="318.2" r="2.88" fill="url(#sb)" fill-opacity="0.85"/>
<circle cx="140.0" cy="315.8" r="2.88" fill="url(#sb)" fill-opacity="0.70"/>
<circle cx="141.4" cy="318.6" r="2.06" fill="url(#sb)" fill-opacity="0.70"/>
<circle cx="146.4" cy="317.6" r="2.47" fill="url(#sb)" fill-opacity="0.80"/>
<circle cx="149.9" cy="318.6" r="2.06" fill="url(#sb)" fill-opacity="0.70"/>
<circle cx="154.9" cy="315.8" r="3.29" fill="url(#sb)" fill-opacity="0.80"/>
<circle cx="158.5" cy="316.5" r="2.47" fill="url(#sb)" fill-opacity="0.80"/>
<circle cx="162.0" cy="314.8" r="2.47" fill="url(#sb)" fill-opacity="0.70"/>
<circle cx="165.6" cy="313.0" r="2.06" fill="url(#sb)" fill-opacity="0.70"/>
<circle cx="168.4" cy="310.8" r="1.65" fill="url(#sb)" fill-opacity="0.60"/>
<circle cx="171.2" cy="302.3" r="1.65" fill="url(#sb)" fill-opacity="0.60"/>
<circle cx="117.3" cy="249.1" r="1.24" fill="url(#sb)" fill-opacity="0.60"/>
<circle cx="125.1" cy="246.7" r="1.03" fill="url(#sb)" fill-opacity="0.60"/>
<circle cx="134.3" cy="244.1" r="1.03" fill="url(#sb)" fill-opacity="0.50"/>
<circle cx="153.9" cy="248.1" r="1.03" fill="url(#sb)" fill-opacity="0.50"/>
<circle cx="138.6" cy="275.0" r="0.82" fill="url(#sb)" fill-opacity="0.60"/>
<circle cx="173.4" cy="263.3" r="2.06" fill="url(#sb)" fill-opacity="0.60"/>
<circle cx="178.3" cy="272.5" r="2.06" fill="url(#sb)" fill-opacity="0.70"/>
</g></g>
<ellipse cx="140.6" cy="281.9" rx="41.7" ry="41.5" fill="none" stroke="#1c1c1c" stroke-width="1.0" stroke-opacity="1"/>
</g>
<defs><clipPath id="clipa2"><ellipse cx="233.7" cy="281.9" rx="42.0" ry="41.8"/></clipPath>
<radialGradient id="grada2" cx="0.42" cy="0.55" r="0.62"><stop offset="0" stop-color="#f0f0f0"/><stop offset="0.6" stop-color="#e8e8e8"/><stop offset="1" stop-color="#dadada"/></radialGradient></defs>
<g filter="url(#bl)">
<ellipse cx="234.2" cy="283.2" rx="42.2" ry="42" fill="#dcdcdc"/>
<ellipse cx="233.7" cy="281.9" rx="42.0" ry="41.8" fill="url(#grada2)"/>
<ellipse cx="233.7" cy="282.3" rx="38.5" ry="38.3" fill="none" stroke="#f6f6f6" stroke-width="1.2" stroke-opacity="0.8"/>
<g clip-path="url(#clipa2)"><g>
<circle cx="237.3" cy="246.7" r="3.71" fill="url(#sb)" fill-opacity="0.85"/>
<circle cx="235.8" cy="244.4" r="2.06" fill="url(#sb)" fill-opacity="0.80"/>
<circle cx="240.8" cy="242.4" r="1.65" fill="url(#sb)" fill-opacity="0.80"/>
<circle cx="245.8" cy="243.8" r="1.65" fill="url(#sb)" fill-opacity="0.70"/>
<circle cx="218.8" cy="251.2" r="2.47" fill="url(#sb)" fill-opacity="0.70"/>
<circle cx="245.8" cy="252.3" r="2.88" fill="url(#sb)" fill-opacity="0.90"/>
<circle cx="250.8" cy="247.6" r="1.65" fill="url(#sb)" fill-opacity="0.50"/>
<circle cx="256.9" cy="252.6" r="2.88" fill="url(#sb)" fill-opacity="0.85"/>
<circle cx="259.3" cy="256.2" r="3.71" fill="url(#sb)" fill-opacity="0.90"/>
<circle cx="253.2" cy="258.0" r="2.47" fill="url(#sb)" fill-opacity="0.60"/>
<circle cx="262.8" cy="258.3" r="2.06" fill="url(#sb)" fill-opacity="0.80"/>
<circle cx="263.5" cy="263.3" r="4.53" fill="url(#sb)" fill-opacity="0.90"/>
<circle cx="266.8" cy="264.7" r="2.06" fill="url(#sb)" fill-opacity="0.80"/>
<circle cx="254.6" cy="264.3" r="1.65" fill="url(#sb)" fill-opacity="0.70"/>
<circle cx="247.9" cy="266.5" r="2.06" fill="url(#sb)" fill-opacity="0.70"/>
<circle cx="250.8" cy="268.5" r="2.47" fill="url(#sb)" fill-opacity="0.70"/>
<circle cx="246.9" cy="272.2" r="2.47" fill="url(#sb)" fill-opacity="0.70"/>
<circle cx="254.3" cy="274.2" r="2.47" fill="url(#sb)" fill-opacity="0.90"/>
<circle cx="256.9" cy="272.5" r="1.24" fill="url(#sb)" fill-opacity="0.70"/>
<circle cx="200.1" cy="272.2" r="2.47" fill="url(#sb)" fill-opacity="0.60"/>
<circle cx="235.8" cy="276.8" r="1.24" fill="url(#sb)" fill-opacity="0.80"/>
<circle cx="230.5" cy="281.0" r="2.88" fill="url(#sb)" fill-opacity="0.85"/>
<circle cx="238.7" cy="283.1" r="5.76" fill="url(#sb)" fill-opacity="1.00"/>
<circle cx="236.6" cy="286.7" r="2.88" fill="url(#sb)" fill-opacity="0.90"/>
<circle cx="242.2" cy="285.3" r="2.06" fill="url(#sb)" fill-opacity="0.70"/>
<circle cx="219.9" cy="286.3" r="2.88" fill="url(#sb)" fill-opacity="0.55"/>
<circle cx="260.0" cy="279.3" r="2.06" fill="url(#sb)" fill-opacity="0.50"/>
<circle cx="269.6" cy="279.3" r="3.71" fill="url(#sb)" fill-opacity="0.90"/>
<circle cx="260.7" cy="286.0" r="3.71" fill="url(#sb)" fill-opacity="0.80"/>
<circle cx="265.7" cy="286.0" r="2.47" fill="url(#sb)" fill-opacity="0.80"/>
<circle cx="257.9" cy="291.2" r="4.12" fill="url(#sb)" fill-opacity="0.85"/>
<circle cx="265.0" cy="292.1" r="2.06" fill="url(#sb)" fill-opacity="0.80"/>
<circle cx="238.7" cy="291.7" r="3.29" fill="url(#sb)" fill-opacity="0.80"/>
<circle cx="242.2" cy="295.5" r="2.06" fill="url(#sb)" fill-opacity="0.90"/>
<circle cx="200.1" cy="289.8" r="2.47" fill="url(#sb)" fill-opacity="0.65"/>
<circle cx="206.3" cy="290.9" r="2.47" fill="url(#sb)" fill-opacity="0.95"/>
<circle cx="263.5" cy="296.3" r="3.71" fill="url(#sb)" fill-opacity="0.85"/>
<circle cx="267.8" cy="295.9" r="2.06" fill="url(#sb)" fill-opacity="0.70"/>
<circle cx="230.9" cy="299.0" r="3.71" fill="url(#sb)" fill-opacity="0.60"/>
<circle cx="246.5" cy="302.3" r="3.71" fill="url(#sb)" fill-opacity="0.80"/>
<circle cx="243.7" cy="301.6" r="1.65" fill="url(#sb)" fill-opacity="0.70"/>
<circle cx="258.6" cy="300.6" r="2.47" fill="url(#sb)" fill-opacity="0.50"/>
<circle cx="234.1" cy="309.1" r="2.88" fill="url(#sb)" fill-opacity="0.85"/>
<circle cx="238.0" cy="310.1" r="1.24" fill="url(#sb)" fill-opacity="0.40"/>
<circle cx="250.3" cy="310.5" r="2.06" fill="url(#sb)" fill-opacity="0.70"/>
<circle cx="251.5" cy="317.2" r="4.12" fill="url(#sb)" fill-opacity="0.80"/>
<circle cx="255.7" cy="314.4" r="2.06" fill="url(#sb)" fill-opacity="0.70"/>
<circle cx="225.2" cy="316.5" r="1.03" fill="url(#sb)" fill-opacity="0.50"/>
<circle cx="210.3" cy="263.3" r="1.24" fill="url(#sb)" fill-opacity="0.20"/>
</g></g>
<ellipse cx="233.7" cy="281.9" rx="41.7" ry="41.5" fill="none" stroke="#1c1c1c" stroke-width="1.0" stroke-opacity="1"/>
</g>
<defs><clipPath id="clipa3"><ellipse cx="324.7" cy="281.6" rx="42.0" ry="41.8"/></clipPath>
<radialGradient id="grada3" cx="0.42" cy="0.55" r="0.62"><stop offset="0" stop-color="#ececec"/><stop offset="0.6" stop-color="#e2e2e2"/><stop offset="1" stop-color="#d0d0d0"/></radialGradient></defs>
<g filter="url(#bl)">
<ellipse cx="325.6" cy="282.6" rx="42.4" ry="42" fill="#d6d6d6"/>
<ellipse cx="325.6" cy="282.4" rx="42.0" ry="41.6" fill="none" stroke="#555" stroke-width="0.8" stroke-opacity="1"/>
<ellipse cx="324.7" cy="281.6" rx="42.0" ry="41.8" fill="url(#grada3)"/>
<g clip-path="url(#clipa3)"><g>
<circle cx="329.7" cy="242.0" r="2.06" fill="url(#sb)" fill-opacity="0.80"/>
<circle cx="310.5" cy="244.1" r="2.47" fill="url(#sb)" fill-opacity="0.85"/>
<circle cx="305.6" cy="247.2" r="3.29" fill="url(#sb)" fill-opacity="0.85"/>
<circle cx="302.4" cy="249.5" r="2.06" fill="url(#sb)" fill-opacity="0.80"/>
<circle cx="314.8" cy="249.1" r="2.47" fill="url(#sb)" fill-opacity="0.85"/>
<circle cx="318.3" cy="250.5" r="3.29" fill="url(#sb)" fill-opacity="0.85"/>
<circle cx="322.6" cy="245.5" r="1.65" fill="url(#sb)" fill-opacity="0.70"/>
<circle cx="326.1" cy="251.2" r="3.71" fill="url(#sb)" fill-opacity="0.90"/>
<circle cx="321.9" cy="254.7" r="2.47" fill="url(#sb)" fill-opacity="0.80"/>
<circle cx="338.5" cy="247.6" r="2.88" fill="url(#sb)" fill-opacity="0.85"/>
<circle cx="342.5" cy="247.2" r="2.06" fill="url(#sb)" fill-opacity="0.80"/>
<circle cx="338.9" cy="251.9" r="2.47" fill="url(#sb)" fill-opacity="0.80"/>
<circle cx="344.6" cy="255.2" r="3.71" fill="url(#sb)" fill-opacity="0.85"/>
<circle cx="349.6" cy="251.2" r="2.06" fill="url(#sb)" fill-opacity="0.70"/>
<circle cx="296.8" cy="256.9" r="3.71" fill="url(#sb)" fill-opacity="0.90"/>
<circle cx="299.9" cy="258.3" r="2.06" fill="url(#sb)" fill-opacity="0.80"/>
<circle cx="306.7" cy="257.2" r="3.29" fill="url(#sb)" fill-opacity="0.95"/>
<circle cx="333.2" cy="260.4" r="2.88" fill="url(#sb)" fill-opacity="0.90"/>
<circle cx="346.4" cy="261.1" r="2.47" fill="url(#sb)" fill-opacity="0.60"/>
<circle cx="356.7" cy="264.7" r="5.35" fill="url(#sb)" fill-opacity="0.90"/>
<circle cx="353.8" cy="267.5" r="2.88" fill="url(#sb)" fill-opacity="0.85"/>
<circle cx="360.6" cy="267.5" r="2.47" fill="url(#sb)" fill-opacity="0.80"/>
<circle cx="288.2" cy="264.0" r="2.47" fill="url(#sb)" fill-opacity="0.80"/>
<circle cx="346.4" cy="267.5" r="2.06" fill="url(#sb)" fill-opacity="0.80"/>
<circle cx="334.4" cy="270.4" r="4.12" fill="url(#sb)" fill-opacity="0.80"/>
<circle cx="319.0" cy="273.2" r="3.71" fill="url(#sb)" fill-opacity="0.95"/>
<circle cx="296.3" cy="271.1" r="2.47" fill="url(#sb)" fill-opacity="0.80"/>
<circle cx="301.3" cy="274.6" r="1.65" fill="url(#sb)" fill-opacity="0.70"/>
<circle cx="305.3" cy="273.6" r="1.65" fill="url(#sb)" fill-opacity="0.70"/>
<circle cx="292.1" cy="274.2" r="1.24" fill="url(#sb)" fill-opacity="0.70"/>
<circle cx="304.1" cy="268.9" r="1.03" fill="url(#sb)" fill-opacity="0.60"/>
<circle cx="286.4" cy="278.2" r="3.29" fill="url(#sb)" fill-opacity="0.90"/>
<circle cx="351.0" cy="271.8" r="2.88" fill="url(#sb)" fill-opacity="0.80"/>
<circle cx="355.2" cy="272.5" r="2.06" fill="url(#sb)" fill-opacity="0.80"/>
<circle cx="358.1" cy="274.2" r="2.06" fill="url(#sb)" fill-opacity="0.80"/>
<circle cx="345.3" cy="274.2" r="2.88" fill="url(#sb)" fill-opacity="0.85"/>
<circle cx="342.5" cy="277.5" r="2.88" fill="url(#sb)" fill-opacity="0.85"/>
<circle cx="347.9" cy="279.6" r="3.29" fill="url(#sb)" fill-opacity="0.85"/>
<circle cx="352.4" cy="281.0" r="2.88" fill="url(#sb)" fill-opacity="0.85"/>
<circle cx="358.8" cy="283.1" r="2.88" fill="url(#sb)" fill-opacity="0.85"/>
<circle cx="343.9" cy="283.1" r="2.06" fill="url(#sb)" fill-opacity="0.80"/>
<circle cx="298.5" cy="282.7" r="2.88" fill="url(#sb)" fill-opacity="0.80"/>
<circle cx="290.6" cy="284.6" r="2.47" fill="url(#sb)" fill-opacity="0.85"/>
<circle cx="298.2" cy="286.7" r="2.06" fill="url(#sb)" fill-opacity="0.80"/>
<circle cx="313.8" cy="286.4" r="2.88" fill="url(#sb)" fill-opacity="0.90"/>
<circle cx="322.6" cy="284.6" r="5.35" fill="url(#sb)" fill-opacity="0.95"/>
<circle cx="320.5" cy="289.2" r="3.71" fill="url(#sb)" fill-opacity="0.95"/>
<circle cx="326.8" cy="290.7" r="4.53" fill="url(#sb)" fill-opacity="0.90"/>
<circle cx="325.7" cy="279.6" r="1.24" fill="url(#sb)" fill-opacity="0.50"/>
<circle cx="285.0" cy="288.8" r="2.88" fill="url(#sb)" fill-opacity="0.85"/>
<circle cx="285.7" cy="293.1" r="2.06" fill="url(#sb)" fill-opacity="0.80"/>
<circle cx="355.2" cy="290.9" r="4.94" fill="url(#sb)" fill-opacity="0.90"/>
<circle cx="358.8" cy="287.4" r="2.47" fill="url(#sb)" fill-opacity="0.80"/>
<circle cx="350.3" cy="292.4" r="2.47" fill="url(#sb)" fill-opacity="0.80"/>
<circle cx="345.3" cy="289.5" r="2.06" fill="url(#sb)" fill-opacity="0.70"/>
<circle cx="334.7" cy="293.1" r="2.47" fill="url(#sb)" fill-opacity="0.85"/>
<circle cx="341.3" cy="293.8" r="2.06" fill="url(#sb)" fill-opacity="0.80"/>
<circle cx="339.9" cy="298.3" r="2.88" fill="url(#sb)" fill-opacity="0.85"/>
<circle cx="323.3" cy="298.8" r="3.71" fill="url(#sb)" fill-opacity="0.65"/>
<circle cx="353.8" cy="296.6" r="3.29" fill="url(#sb)" fill-opacity="0.85"/>
<circle cx="350.7" cy="301.6" r="4.12" fill="url(#sb)" fill-opacity="0.90"/>
<circle cx="357.4" cy="297.3" r="2.06" fill="url(#sb)" fill-opacity="0.80"/>
<circle cx="301.6" cy="299.5" r="2.06" fill="url(#sb)" fill-opacity="0.90"/>
<circle cx="335.1" cy="302.6" r="4.53" fill="url(#sb)" fill-opacity="0.95"/>
<circle cx="329.7" cy="303.4" r="2.47" fill="url(#sb)" fill-opacity="0.85"/>
<circle cx="343.2" cy="307.7" r="3.29" fill="url(#sb)" fill-opacity="0.90"/>
<circle cx="327.1" cy="308.0" r="2.88" fill="url(#sb)" fill-opacity="0.85"/>
<circle cx="329.7" cy="310.1" r="2.06" fill="url(#sb)" fill-opacity="0.80"/>
<circle cx="301.3" cy="307.0" r="2.88" fill="url(#sb)" fill-opacity="0.90"/>
<circle cx="351.0" cy="309.4" r="2.47" fill="url(#sb)" fill-opacity="0.70"/>
<circle cx="346.7" cy="312.2" r="1.65" fill="url(#sb)" fill-opacity="0.60"/>
<circle cx="317.6" cy="315.1" r="4.12" fill="url(#sb)" fill-opacity="0.90"/>
<circle cx="314.1" cy="316.5" r="2.06" fill="url(#sb)" fill-opacity="0.70"/>
<circle cx="307.0" cy="317.9" r="2.06" fill="url(#sb)" fill-opacity="0.60"/>
<circle cx="292.1" cy="300.9" r="1.24" fill="url(#sb)" fill-opacity="0.60"/>
<circle cx="341.0" cy="286.7" r="1.03" fill="url(#sb)" fill-opacity="0.70"/>
<circle cx="333.2" cy="273.6" r="0.82" fill="url(#sb)" fill-opacity="0.60"/>
</g></g>
<ellipse cx="324.7" cy="281.6" rx="41.7" ry="41.5" fill="none" stroke="#1c1c1c" stroke-width="1.0" stroke-opacity="1"/>
</g>
<defs><clipPath id="clipa4"><ellipse cx="420.7" cy="281.4" rx="42.0" ry="41.6"/></clipPath>
<radialGradient id="grada4" cx="0.42" cy="0.55" r="0.62"><stop offset="0" stop-color="#e6e6e6"/><stop offset="0.6" stop-color="#dcdcdc"/><stop offset="1" stop-color="#c4c4c4"/></radialGradient></defs>
<g filter="url(#bl)">
<ellipse cx="421.0" cy="282.6" rx="42.3" ry="42" fill="#cfcfcf"/>
<ellipse cx="420.7" cy="281.4" rx="42.0" ry="41.6" fill="url(#grada4)"/>
<ellipse cx="420.7" cy="281.4" rx="39.8" ry="39.4" fill="none" stroke="#8a8a8a" stroke-width="1.6" stroke-opacity="0.55"/>
<g clip-path="url(#clipa4)"><g>
<circle cx="393.0" cy="256.2" r="16.47" fill="url(#sb)" fill-opacity="0.46"/>
<circle cx="388.1" cy="279.6" r="11.32" fill="url(#sb)" fill-opacity="0.34"/>
<ellipse cx="418.6" cy="249.1" rx="18.5" ry="10.3" transform="rotate(0 418.6 249.1)" fill="url(#sb)" fill-opacity="0.34"/>
<circle cx="453.4" cy="266.8" r="11.32" fill="url(#sb)" fill-opacity="0.26"/>
<circle cx="449.8" cy="296.6" r="12.35" fill="url(#sb)" fill-opacity="0.26"/>
<circle cx="412.9" cy="279.6" r="20.58" fill="url(#sb)" fill-opacity="0.18"/>
<circle cx="404.4" cy="305.1" r="14.41" fill="url(#sb)" fill-opacity="0.22"/>
<circle cx="432.8" cy="308.0" r="14.41" fill="url(#sb)" fill-opacity="0.18"/>
<circle cx="432.8" cy="272.5" r="16.47" fill="url(#sb)" fill-opacity="0.18"/>
<circle cx="393.0" cy="254.0" r="4.53" fill="url(#sb)" fill-opacity="0.84"/>
<circle cx="397.3" cy="251.2" r="3.71" fill="url(#sb)" fill-opacity="0.84"/>
<circle cx="389.5" cy="259.7" r="3.29" fill="url(#sb)" fill-opacity="0.84"/>
<circle cx="398.7" cy="258.3" r="2.88" fill="url(#sb)" fill-opacity="0.90"/>
<circle cx="405.1" cy="254.0" r="2.06" fill="url(#sb)" fill-opacity="0.72"/>
<circle cx="403.0" cy="249.8" r="2.06" fill="url(#sb)" fill-opacity="0.84"/>
<circle cx="408.7" cy="246.2" r="2.88" fill="url(#sb)" fill-opacity="0.84"/>
<circle cx="406.5" cy="243.0" r="2.06" fill="url(#sb)" fill-opacity="0.84"/>
<circle cx="416.5" cy="244.8" r="3.29" fill="url(#sb)" fill-opacity="0.96"/>
<circle cx="419.3" cy="249.1" r="4.12" fill="url(#sb)" fill-opacity="0.96"/>
<circle cx="424.3" cy="245.5" r="3.29" fill="url(#sb)" fill-opacity="0.96"/>
<circle cx="428.5" cy="246.9" r="2.47" fill="url(#sb)" fill-opacity="0.84"/>
<circle cx="425.0" cy="250.5" r="2.47" fill="url(#sb)" fill-opacity="0.90"/>
<circle cx="432.8" cy="249.1" r="2.88" fill="url(#sb)" fill-opacity="0.84"/>
<circle cx="437.0" cy="251.2" r="2.47" fill="url(#sb)" fill-opacity="0.72"/>
<circle cx="440.6" cy="247.6" r="2.06" fill="url(#sb)" fill-opacity="0.72"/>
<circle cx="444.1" cy="252.6" r="2.06" fill="url(#sb)" fill-opacity="0.72"/>
<circle cx="413.6" cy="259.0" r="4.12" fill="url(#sb)" fill-opacity="0.96"/>
<circle cx="410.8" cy="263.3" r="2.88" fill="url(#sb)" fill-opacity="0.96"/>
<circle cx="422.8" cy="260.4" r="2.06" fill="url(#sb)" fill-opacity="0.84"/>
<circle cx="427.4" cy="259.7" r="4.12" fill="url(#sb)" fill-opacity="0.90"/>
<circle cx="430.7" cy="256.9" r="1.65" fill="url(#sb)" fill-opacity="0.84"/>
<circle cx="431.7" cy="261.8" r="2.06" fill="url(#sb)" fill-opacity="0.84"/>
<circle cx="428.5" cy="265.4" r="2.06" fill="url(#sb)" fill-opacity="0.96"/>
<circle cx="442.0" cy="259.7" r="1.65" fill="url(#sb)" fill-opacity="0.84"/>
<circle cx="451.2" cy="262.6" r="4.53" fill="url(#sb)" fill-opacity="0.90"/>
<circle cx="454.8" cy="258.3" r="2.06" fill="url(#sb)" fill-opacity="0.84"/>
<circle cx="446.3" cy="262.6" r="2.06" fill="url(#sb)" fill-opacity="0.84"/>
<circle cx="441.3" cy="265.4" r="3.29" fill="url(#sb)" fill-opacity="0.96"/>
<circle cx="439.9" cy="268.9" r="2.06" fill="url(#sb)" fill-opacity="0.84"/>
<circle cx="457.6" cy="269.7" r="2.88" fill="url(#sb)" fill-opacity="0.84"/>
<circle cx="449.8" cy="268.9" r="1.65" fill="url(#sb)" fill-opacity="0.84"/>
<circle cx="400.8" cy="264.3" r="1.65" fill="url(#sb)" fill-opacity="1.00"/>
<circle cx="405.8" cy="263.3" r="1.65" fill="url(#sb)" fill-opacity="1.00"/>
<circle cx="395.9" cy="266.8" r="2.47" fill="url(#sb)" fill-opacity="0.84"/>
<circle cx="390.9" cy="266.1" r="2.47" fill="url(#sb)" fill-opacity="0.84"/>
<circle cx="385.2" cy="268.9" r="2.06" fill="url(#sb)" fill-opacity="0.84"/>
<circle cx="384.5" cy="273.9" r="2.88" fill="url(#sb)" fill-opacity="0.84"/>
<circle cx="390.2" cy="273.2" r="3.29" fill="url(#sb)" fill-opacity="0.84"/>
<circle cx="394.5" cy="271.1" r="3.29" fill="url(#sb)" fill-opacity="0.90"/>
<circle cx="402.3" cy="268.9" r="1.65" fill="url(#sb)" fill-opacity="0.96"/>
<circle cx="410.1" cy="267.5" r="3.29" fill="url(#sb)" fill-opacity="0.84"/>
<circle cx="414.3" cy="268.9" r="2.88" fill="url(#sb)" fill-opacity="0.90"/>
<circle cx="417.2" cy="266.1" r="2.06" fill="url(#sb)" fill-opacity="0.84"/>
<circle cx="421.4" cy="271.8" r="2.06" fill="url(#sb)" fill-opacity="1.00"/>
<circle cx="425.7" cy="269.7" r="1.65" fill="url(#sb)" fill-opacity="0.84"/>
<circle cx="425.0" cy="274.6" r="4.12" fill="url(#sb)" fill-opacity="0.96"/>
<circle cx="430.7" cy="275.3" r="3.29" fill="url(#sb)" fill-opacity="0.96"/>
<circle cx="432.8" cy="268.2" r="2.47" fill="url(#sb)" fill-opacity="0.96"/>
<circle cx="436.3" cy="271.1" r="3.29" fill="url(#sb)" fill-opacity="0.96"/>
<circle cx="444.4" cy="271.8" r="2.06" fill="url(#sb)" fill-opacity="1.00"/>
<circle cx="442.7" cy="276.0" r="2.06" fill="url(#sb)" fill-opacity="0.96"/>
<circle cx="447.7" cy="275.3" r="2.88" fill="url(#sb)" fill-opacity="0.84"/>
<circle cx="454.8" cy="275.0" r="2.06" fill="url(#sb)" fill-opacity="0.84"/>
<circle cx="459.8" cy="278.9" r="1.65" fill="url(#sb)" fill-opacity="0.84"/>
<circle cx="404.4" cy="274.2" r="2.06" fill="url(#sb)" fill-opacity="0.72"/>
<circle cx="410.1" cy="274.2" r="2.06" fill="url(#sb)" fill-opacity="0.84"/>
<circle cx="400.8" cy="278.9" r="2.47" fill="url(#sb)" fill-opacity="0.84"/>
<circle cx="406.5" cy="278.9" r="1.65" fill="url(#sb)" fill-opacity="0.72"/>
<circle cx="411.5" cy="279.6" r="3.29" fill="url(#sb)" fill-opacity="0.96"/>
<circle cx="415.8" cy="276.0" r="2.06" fill="url(#sb)" fill-opacity="0.84"/>
<circle cx="418.6" cy="279.6" r="3.29" fill="url(#sb)" fill-opacity="1.00"/>
<circle cx="422.8" cy="280.3" r="2.06" fill="url(#sb)" fill-opacity="0.96"/>
<circle cx="424.3" cy="284.6" r="3.71" fill="url(#sb)" fill-opacity="0.96"/>
<circle cx="418.6" cy="286.0" r="2.88" fill="url(#sb)" fill-opacity="0.96"/>
<circle cx="412.9" cy="283.8" r="2.88" fill="url(#sb)" fill-opacity="0.96"/>
<circle cx="409.4" cy="284.6" r="2.06" fill="url(#sb)" fill-opacity="0.84"/>
<circle cx="398.7" cy="286.0" r="4.94" fill="url(#sb)" fill-opacity="1.00"/>
<circle cx="402.3" cy="287.4" r="2.47" fill="url(#sb)" fill-opacity="0.96"/>
<circle cx="390.2" cy="283.8" r="3.29" fill="url(#sb)" fill-opacity="0.96"/>
<circle cx="386.6" cy="279.6" r="2.47" fill="url(#sb)" fill-opacity="0.90"/>
<circle cx="384.5" cy="285.3" r="2.47" fill="url(#sb)" fill-opacity="0.84"/>
<circle cx="387.4" cy="290.9" r="2.06" fill="url(#sb)" fill-opacity="0.84"/>
<circle cx="392.3" cy="290.2" r="1.65" fill="url(#sb)" fill-opacity="0.84"/>
<circle cx="383.8" cy="296.6" r="2.06" fill="url(#sb)" fill-opacity="0.84"/>
<circle cx="388.8" cy="295.9" r="1.65" fill="url(#sb)" fill-opacity="0.78"/>
<circle cx="432.8" cy="286.0" r="1.65" fill="url(#sb)" fill-opacity="0.72"/>
<circle cx="442.0" cy="281.0" r="2.06" fill="url(#sb)" fill-opacity="0.84"/>
<circle cx="441.3" cy="286.0" r="2.47" fill="url(#sb)" fill-opacity="0.84"/>
<circle cx="446.3" cy="286.0" r="3.29" fill="url(#sb)" fill-opacity="0.96"/>
<circle cx="451.2" cy="282.4" r="3.29" fill="url(#sb)" fill-opacity="0.96"/>
<circle cx="456.2" cy="281.7" r="2.06" fill="url(#sb)" fill-opacity="0.84"/>
<circle cx="454.8" cy="288.8" r="2.88" fill="url(#sb)" fill-opacity="0.84"/>
<circle cx="458.3" cy="286.0" r="1.65" fill="url(#sb)" fill-opacity="0.84"/>
<circle cx="449.8" cy="292.4" r="2.47" fill="url(#sb)" fill-opacity="0.84"/>
<circle cx="453.4" cy="294.5" r="2.06" fill="url(#sb)" fill-opacity="0.84"/>
<circle cx="414.3" cy="291.7" r="5.35" fill="url(#sb)" fill-opacity="1.00"/>
<circle cx="418.6" cy="293.8" r="2.47" fill="url(#sb)" fill-opacity="0.96"/>
<circle cx="408.7" cy="293.1" r="1.65" fill="url(#sb)" fill-opacity="0.72"/>
<circle cx="407.9" cy="297.3" r="2.47" fill="url(#sb)" fill-opacity="0.84"/>
<circle cx="405.8" cy="300.2" r="2.47" fill="url(#sb)" fill-opacity="0.96"/>
<circle cx="410.8" cy="300.9" r="2.06" fill="url(#sb)" fill-opacity="0.84"/>
<circle cx="417.2" cy="298.8" r="2.06" fill="url(#sb)" fill-opacity="0.84"/>
<circle cx="425.0" cy="298.8" r="4.53" fill="url(#sb)" fill-opacity="1.00"/>
<circle cx="424.3" cy="303.7" r="2.88" fill="url(#sb)" fill-opacity="0.96"/>
<circle cx="427.8" cy="302.3" r="2.06" fill="url(#sb)" fill-opacity="0.84"/>
<circle cx="435.6" cy="295.2" r="4.12" fill="url(#sb)" fill-opacity="0.96"/>
<circle cx="434.2" cy="300.2" r="3.29" fill="url(#sb)" fill-opacity="0.96"/>
<circle cx="439.6" cy="291.7" r="2.06" fill="url(#sb)" fill-opacity="0.84"/>
<circle cx="438.5" cy="297.3" r="1.65" fill="url(#sb)" fill-opacity="0.84"/>
<circle cx="442.7" cy="296.6" r="2.06" fill="url(#sb)" fill-opacity="0.84"/>
<circle cx="445.6" cy="293.8" r="1.65" fill="url(#sb)" fill-opacity="0.72"/>
<circle cx="450.5" cy="300.2" r="4.53" fill="url(#sb)" fill-opacity="0.96"/>
<circle cx="454.8" cy="298.0" r="2.06" fill="url(#sb)" fill-opacity="0.84"/>
<circle cx="445.6" cy="301.6" r="1.65" fill="url(#sb)" fill-opacity="0.84"/>
<circle cx="441.3" cy="303.7" r="2.06" fill="url(#sb)" fill-opacity="0.72"/>
<circle cx="394.5" cy="298.0" r="2.47" fill="url(#sb)" fill-opacity="0.84"/>
<circle cx="391.6" cy="302.3" r="2.06" fill="url(#sb)" fill-opacity="0.84"/>
<circle cx="397.3" cy="303.0" r="2.06" fill="url(#sb)" fill-opacity="0.84"/>
<circle cx="400.8" cy="304.4" r="2.06" fill="url(#sb)" fill-opacity="0.84"/>
<circle cx="404.4" cy="306.6" r="2.06" fill="url(#sb)" fill-opacity="0.84"/>
<circle cx="407.9" cy="305.1" r="2.06" fill="url(#sb)" fill-opacity="0.84"/>
<circle cx="393.0" cy="307.3" r="1.65" fill="url(#sb)" fill-opacity="0.84"/>
<circle cx="398.7" cy="309.4" r="1.65" fill="url(#sb)" fill-opacity="0.84"/>
<circle cx="403.0" cy="312.2" r="2.06" fill="url(#sb)" fill-opacity="0.84"/>
<circle cx="411.5" cy="309.4" r="5.35" fill="url(#sb)" fill-opacity="1.00"/>
<circle cx="409.4" cy="313.7" r="2.06" fill="url(#sb)" fill-opacity="0.84"/>
<circle cx="415.8" cy="308.0" r="1.65" fill="url(#sb)" fill-opacity="0.84"/>
<circle cx="429.2" cy="308.0" r="3.29" fill="url(#sb)" fill-opacity="0.96"/>
<circle cx="432.1" cy="310.8" r="2.88" fill="url(#sb)" fill-opacity="0.96"/>
<circle cx="435.6" cy="312.2" r="2.06" fill="url(#sb)" fill-opacity="0.84"/>
<circle cx="438.5" cy="314.4" r="1.65" fill="url(#sb)" fill-opacity="0.84"/>
<circle cx="427.1" cy="306.6" r="1.65" fill="url(#sb)" fill-opacity="0.84"/>
<circle cx="442.7" cy="308.0" r="1.65" fill="url(#sb)" fill-opacity="0.72"/>
<circle cx="447.0" cy="306.6" r="1.65" fill="url(#sb)" fill-opacity="0.72"/>
<circle cx="402.3" cy="314.4" r="2.06" fill="url(#sb)" fill-opacity="0.84"/>
<circle cx="397.3" cy="314.4" r="1.65" fill="url(#sb)" fill-opacity="0.72"/>
<circle cx="418.6" cy="314.4" r="1.03" fill="url(#sb)" fill-opacity="0.60"/>
</g></g>
<ellipse cx="420.7" cy="281.4" rx="41.7" ry="41.3" fill="none" stroke="#1c1c1c" stroke-width="1.1" stroke-opacity="1"/>
</g>
<defs><clipPath id="cliph1"><ellipse cx="143.0" cy="436.5" rx="42.0" ry="42.0"/></clipPath>
<radialGradient id="gradh1" cx="0.42" cy="0.55" r="0.62"><stop offset="0" stop-color="#dedede"/><stop offset="0.6" stop-color="#d4d4d4"/><stop offset="1" stop-color="#bebebe"/></radialGradient></defs>
<g filter="url(#bl)">
<ellipse cx="143.0" cy="436.5" rx="42.0" ry="42.0" fill="url(#gradh1)"/>
<ellipse cx="143.0" cy="436.5" rx="40.7" ry="40.7" fill="none" stroke="#eeeeee" stroke-width="1.3" stroke-opacity="0.85"/>
<ellipse cx="143.4" cy="436.2" rx="39.6" ry="39.6" fill="none" stroke="#8a8a8a" stroke-width="1.0" stroke-opacity="0.7"/>
<g clip-path="url(#cliph1)"><g>
<circle cx="149.8" cy="402.2" r="3.46" fill="url(#sb2)" fill-opacity="1.00"/>
<circle cx="132.1" cy="398.4" r="2.42" fill="url(#sb2)" fill-opacity="0.76"/>
<circle cx="126.4" cy="403.4" r="3.81" fill="url(#sb2)" fill-opacity="0.97"/>
<circle cx="128.5" cy="406.9" r="2.08" fill="url(#sb2)" fill-opacity="0.86"/>
<circle cx="136.3" cy="407.3" r="1.73" fill="url(#sb2)" fill-opacity="0.65"/>
<circle cx="157.6" cy="399.8" r="2.42" fill="url(#sb2)" fill-opacity="0.97"/>
<circle cx="160.5" cy="404.1" r="3.81" fill="url(#sb2)" fill-opacity="0.97"/>
<circle cx="160.5" cy="409.7" r="3.12" fill="url(#sb2)" fill-opacity="0.97"/>
<circle cx="168.3" cy="407.6" r="2.77" fill="url(#sb2)" fill-opacity="0.92"/>
<circle cx="115.0" cy="411.9" r="4.85" fill="url(#sb2)" fill-opacity="0.97"/>
<circle cx="112.2" cy="409.7" r="2.08" fill="url(#sb2)" fill-opacity="0.86"/>
<circle cx="128.2" cy="415.4" r="5.54" fill="url(#sb2)" fill-opacity="1.00"/>
<circle cx="140.6" cy="415.0" r="3.46" fill="url(#sb2)" fill-opacity="0.97"/>
<circle cx="151.9" cy="417.6" r="3.46" fill="url(#sb2)" fill-opacity="1.00"/>
<circle cx="159.0" cy="416.8" r="3.81" fill="url(#sb2)" fill-opacity="1.00"/>
<circle cx="164.7" cy="418.3" r="3.12" fill="url(#sb2)" fill-opacity="0.97"/>
<circle cx="170.4" cy="418.3" r="3.81" fill="url(#sb2)" fill-opacity="0.97"/>
<circle cx="176.1" cy="415.4" r="3.12" fill="url(#sb2)" fill-opacity="0.97"/>
<circle cx="179.6" cy="422.5" r="3.81" fill="url(#sb2)" fill-opacity="0.97"/>
<circle cx="177.5" cy="427.5" r="3.81" fill="url(#sb2)" fill-opacity="0.97"/>
<circle cx="181.0" cy="430.3" r="2.42" fill="url(#sb2)" fill-opacity="0.92"/>
<circle cx="140.6" cy="421.8" r="4.16" fill="url(#sb2)" fill-opacity="0.92"/>
<circle cx="148.4" cy="423.9" r="2.42" fill="url(#sb2)" fill-opacity="0.97"/>
<circle cx="134.9" cy="422.1" r="1.04" fill="url(#sb2)" fill-opacity="0.76"/>
<ellipse cx="117.6" cy="425.1" rx="6.2" ry="4.5" transform="rotate(-15 117.6 425.1)" fill="url(#sb2)" fill-opacity="1.00"/>
<circle cx="161.2" cy="427.2" r="4.16" fill="url(#sb2)" fill-opacity="1.00"/>
<circle cx="107.2" cy="430.3" r="4.16" fill="url(#sb2)" fill-opacity="0.92"/>
<circle cx="104.4" cy="433.2" r="1.73" fill="url(#sb2)" fill-opacity="0.76"/>
<ellipse cx="143.4" cy="431.0" rx="3.8" ry="2.3" transform="rotate(-25 143.4 431.0)" fill="url(#sb2)" fill-opacity="0.86"/>
<circle cx="134.9" cy="435.3" r="2.77" fill="url(#sb2)" fill-opacity="1.00"/>
<circle cx="166.9" cy="438.8" r="1.73" fill="url(#sb2)" fill-opacity="0.86"/>
<circle cx="178.2" cy="438.8" r="4.85" fill="url(#sb2)" fill-opacity="0.97"/>
<circle cx="174.0" cy="444.5" r="4.85" fill="url(#sb2)" fill-opacity="1.00"/>
<circle cx="181.0" cy="442.4" r="2.42" fill="url(#sb2)" fill-opacity="0.92"/>
<ellipse cx="125.0" cy="442.8" rx="4.2" ry="2.6" transform="rotate(15 125.0 442.8)" fill="url(#sb2)" fill-opacity="0.86"/>
<circle cx="113.3" cy="444.5" r="2.42" fill="url(#sb2)" fill-opacity="1.00"/>
<circle cx="146.0" cy="446.7" r="3.12" fill="url(#sb2)" fill-opacity="1.00"/>
<circle cx="158.3" cy="445.7" r="1.04" fill="url(#sb2)" fill-opacity="0.65"/>
<circle cx="134.6" cy="450.5" r="4.85" fill="url(#sb2)" fill-opacity="1.00"/>
<circle cx="146.3" cy="452.8" r="3.81" fill="url(#sb2)" fill-opacity="1.00"/>
<circle cx="140.3" cy="454.5" r="2.08" fill="url(#sb2)" fill-opacity="0.86"/>
<circle cx="169.0" cy="456.2" r="3.12" fill="url(#sb2)" fill-opacity="1.00"/>
<circle cx="176.8" cy="454.5" r="1.39" fill="url(#sb2)" fill-opacity="0.76"/>
<circle cx="160.5" cy="462.3" r="2.77" fill="url(#sb2)" fill-opacity="0.97"/>
<circle cx="160.2" cy="465.5" r="1.73" fill="url(#sb2)" fill-opacity="0.86"/>
<circle cx="149.8" cy="461.3" r="1.04" fill="url(#sb2)" fill-opacity="0.65"/>
<circle cx="116.5" cy="460.9" r="1.73" fill="url(#sb2)" fill-opacity="0.76"/>
<circle cx="120.0" cy="465.8" r="1.73" fill="url(#sb2)" fill-opacity="0.65"/>
<circle cx="147.7" cy="472.9" r="2.42" fill="url(#sb2)" fill-opacity="0.92"/>
<circle cx="112.9" cy="463.0" r="1.04" fill="url(#sb2)" fill-opacity="0.65"/>
<circle cx="169.0" cy="464.4" r="1.04" fill="url(#sb2)" fill-opacity="0.54"/>
<circle cx="120.7" cy="448.1" r="0.69" fill="url(#sb2)" fill-opacity="0.54"/>
<circle cx="129.2" cy="436.0" r="0.69" fill="url(#sb2)" fill-opacity="0.43"/>
<circle cx="119.3" cy="433.2" r="0.52" fill="url(#sb2)" fill-opacity="0.43"/>
<circle cx="178.9" cy="434.6" r="2.42" fill="url(#sb2)" fill-opacity="0.92"/>
<circle cx="175.4" cy="422.5" r="2.08" fill="url(#sb2)" fill-opacity="0.86"/>
<circle cx="181.8" cy="426.1" r="3.12" fill="url(#sb2)" fill-opacity="0.97"/>
<circle cx="180.6" cy="419.0" r="2.42" fill="url(#sb2)" fill-opacity="0.97"/>
<circle cx="182.0" cy="434.6" r="2.42" fill="url(#sb2)" fill-opacity="0.97"/>
<circle cx="180.1" cy="446.7" r="2.08" fill="url(#sb2)" fill-opacity="0.92"/>
<circle cx="119.3" cy="407.6" r="2.77" fill="url(#sb2)" fill-opacity="0.59"/>
<circle cx="124.3" cy="399.8" r="2.08" fill="url(#sb2)" fill-opacity="0.59"/>
</g></g>
<ellipse cx="143.0" cy="436.5" rx="41.6" ry="41.6" fill="none" stroke="#707070" stroke-width="0.9" stroke-opacity="1"/>
</g>
<defs><clipPath id="cliph2"><ellipse cx="239.8" cy="436.6" rx="37.4" ry="40.8"/></clipPath>
<radialGradient id="gradh2" cx="0.42" cy="0.55" r="0.62"><stop offset="0" stop-color="#e4e4e4"/><stop offset="0.6" stop-color="#dedede"/><stop offset="1" stop-color="#d0d0d0"/></radialGradient></defs>
<g filter="url(#bl)">
<ellipse cx="235.0" cy="436.7" rx="42.2" ry="42.2" fill="url(#gradh2)"/>
<ellipse cx="235.0" cy="436.7" rx="40.4" ry="40.4" fill="none" stroke="#a8a8a8" stroke-width="0.8" stroke-opacity="0.9"/>
<ellipse cx="235.6" cy="436.7" rx="39.2" ry="39.6" fill="none" stroke="#f0f0f0" stroke-width="0.9" stroke-opacity="0.9"/>
<ellipse cx="236.4" cy="436.7" rx="38.2" ry="39.2" fill="none" stroke="#b8b8b8" stroke-width="0.7" stroke-opacity="0.8"/>
<ellipse cx="239.8" cy="436.6" rx="37.4" ry="40.8" fill="#d6d6d6"/>
<ellipse cx="239.8" cy="436.6" rx="37.4" ry="40.8" fill="none" stroke="#9a9a9a" stroke-width="0.9" stroke-opacity="0.8"/>
<g clip-path="url(#cliph2)"><g>
<circle cx="224.5" cy="406.9" r="3.12" fill="url(#sb2)" fill-opacity="1.00"/>
<circle cx="223.4" cy="400.8" r="1.39" fill="url(#sb2)" fill-opacity="0.86"/>
<ellipse cx="234.0" cy="398.0" rx="3.1" ry="1.0" transform="rotate(0 234.0 398.0)" fill="url(#sb2)" fill-opacity="0.92"/>
<circle cx="266.0" cy="409.7" r="1.73" fill="url(#sb2)" fill-opacity="0.92"/>
<circle cx="263.8" cy="416.4" r="2.08" fill="url(#sb2)" fill-opacity="0.86"/>
<circle cx="220.5" cy="413.3" r="1.39" fill="url(#sb2)" fill-opacity="0.43"/>
<circle cx="249.6" cy="422.1" r="2.08" fill="url(#sb2)" fill-opacity="0.59"/>
<circle cx="238.0" cy="423.9" r="2.42" fill="url(#sb2)" fill-opacity="0.54"/>
<circle cx="245.7" cy="426.8" r="2.08" fill="url(#sb2)" fill-opacity="0.97"/>
<circle cx="212.0" cy="430.3" r="2.42" fill="url(#sb2)" fill-opacity="0.97"/>
<circle cx="219.5" cy="431.0" r="4.16" fill="url(#sb2)" fill-opacity="0.81"/>
<circle cx="261.0" cy="425.4" r="1.04" fill="url(#sb2)" fill-opacity="0.76"/>
<circle cx="268.8" cy="431.0" r="5.20" fill="url(#sb2)" fill-opacity="0.97"/>
<circle cx="275.2" cy="433.9" r="2.08" fill="url(#sb2)" fill-opacity="0.97"/>
<circle cx="272.3" cy="438.1" r="2.42" fill="url(#sb2)" fill-opacity="0.86"/>
<circle cx="264.5" cy="429.6" r="2.42" fill="url(#sb2)" fill-opacity="0.65"/>
<circle cx="228.0" cy="437.7" r="2.77" fill="url(#sb2)" fill-opacity="0.65"/>
<circle cx="251.3" cy="434.6" r="0.87" fill="url(#sb2)" fill-opacity="0.65"/>
<circle cx="207.0" cy="441.7" r="2.08" fill="url(#sb2)" fill-opacity="0.86"/>
<circle cx="203.1" cy="444.8" r="1.73" fill="url(#sb2)" fill-opacity="0.86"/>
<ellipse cx="243.9" cy="445.5" rx="4.8" ry="3.8" transform="rotate(-30 243.9 445.5)" fill="url(#sb2)" fill-opacity="1.00"/>
<circle cx="252.5" cy="443.8" r="2.77" fill="url(#sb2)" fill-opacity="0.86"/>
<circle cx="221.2" cy="448.1" r="3.81" fill="url(#sb2)" fill-opacity="1.00"/>
<circle cx="227.2" cy="448.8" r="0.87" fill="url(#sb2)" fill-opacity="0.54"/>
<circle cx="272.3" cy="449.5" r="3.46" fill="url(#sb2)" fill-opacity="0.92"/>
<circle cx="274.5" cy="446.7" r="1.39" fill="url(#sb2)" fill-opacity="0.86"/>
<circle cx="270.9" cy="452.3" r="1.73" fill="url(#sb2)" fill-opacity="0.76"/>
<circle cx="238.3" cy="458.0" r="2.77" fill="url(#sb2)" fill-opacity="1.00"/>
<circle cx="245.7" cy="456.6" r="3.81" fill="url(#sb2)" fill-opacity="0.70"/>
<circle cx="244.7" cy="453.0" r="1.73" fill="url(#sb2)" fill-opacity="0.54"/>
<circle cx="223.4" cy="458.0" r="1.04" fill="url(#sb2)" fill-opacity="0.65"/>
<circle cx="228.3" cy="459.9" r="1.04" fill="url(#sb2)" fill-opacity="0.54"/>
<circle cx="238.7" cy="467.7" r="3.12" fill="url(#sb2)" fill-opacity="1.00"/>
<circle cx="251.0" cy="466.5" r="1.39" fill="url(#sb2)" fill-opacity="0.65"/>
<circle cx="252.5" cy="460.1" r="1.04" fill="url(#sb2)" fill-opacity="0.54"/>
<circle cx="230.9" cy="471.5" r="1.39" fill="url(#sb2)" fill-opacity="0.86"/>
<circle cx="228.3" cy="477.2" r="0.87" fill="url(#sb2)" fill-opacity="0.54"/>
<circle cx="209.9" cy="423.9" r="1.39" fill="url(#sb2)" fill-opacity="0.38"/>
<circle cx="261.7" cy="420.4" r="0.87" fill="url(#sb2)" fill-opacity="0.76"/>
</g></g>
<ellipse cx="235.0" cy="436.7" rx="41.8" ry="41.8" fill="none" stroke="#777" stroke-width="0.9" stroke-opacity="1"/>
</g>
<defs><clipPath id="cliph3"><ellipse cx="329.8" cy="435.2" rx="38.6" ry="39.6"/></clipPath>
<radialGradient id="gradh3" cx="0.42" cy="0.55" r="0.62"><stop offset="0" stop-color="#cfcfcf"/><stop offset="0.6" stop-color="#c6c6c6"/><stop offset="1" stop-color="#bcbcbc"/></radialGradient></defs>
<g filter="url(#bl)">
<ellipse cx="326.6" cy="436.8" rx="42.0" ry="42.0" fill="url(#gradh3)"/>
<ellipse cx="329.8" cy="435.2" rx="38.6" ry="39.6" fill="#dddddd"/>
<ellipse cx="329.8" cy="435.2" rx="38.6" ry="39.6" fill="none" stroke="#6a6a6a" stroke-width="0.9" stroke-opacity="0.8"/>
<path d="M305,404.9 A38.6,39.6 0 0 0 316.6,472.4" fill="none" stroke="#666" stroke-width="1.8" stroke-opacity="0.75"/>
<g clip-path="url(#cliph3)"><g>
<ellipse cx="319.6" cy="400.8" rx="6.9" ry="2.8" transform="rotate(-10 319.6 400.8)" fill="url(#sb2)" fill-opacity="0.97"/>
<circle cx="328.1" cy="400.2" r="3.46" fill="url(#sb2)" fill-opacity="0.92"/>
<circle cx="311.1" cy="402.6" r="2.42" fill="url(#sb2)" fill-opacity="0.86"/>
<circle cx="339.5" cy="401.7" r="3.12" fill="url(#sb2)" fill-opacity="0.97"/>
<circle cx="344.0" cy="405.5" r="3.12" fill="url(#sb2)" fill-opacity="0.97"/>
<circle cx="339.9" cy="409.0" r="2.08" fill="url(#sb2)" fill-opacity="0.92"/>
<circle cx="307.6" cy="407.9" r="2.42" fill="url(#sb2)" fill-opacity="0.76"/>
<circle cx="317.2" cy="412.9" r="3.81" fill="url(#sb2)" fill-opacity="0.76"/>
<circle cx="333.8" cy="413.3" r="3.81" fill="url(#sb2)" fill-opacity="1.00"/>
<circle cx="331.4" cy="417.6" r="3.81" fill="url(#sb2)" fill-opacity="1.00"/>
<circle cx="352.3" cy="406.9" r="3.81" fill="url(#sb2)" fill-opacity="0.92"/>
<circle cx="356.5" cy="414.0" r="6.24" fill="url(#sb2)" fill-opacity="1.00"/>
<circle cx="353.0" cy="419.0" r="3.46" fill="url(#sb2)" fill-opacity="0.97"/>
<circle cx="347.3" cy="416.8" r="2.08" fill="url(#sb2)" fill-opacity="0.92"/>
<circle cx="343.0" cy="421.1" r="1.73" fill="url(#sb2)" fill-opacity="0.65"/>
<circle cx="304.7" cy="417.3" r="3.81" fill="url(#sb2)" fill-opacity="0.97"/>
<circle cx="312.9" cy="421.5" r="1.73" fill="url(#sb2)" fill-opacity="0.54"/>
<circle cx="324.3" cy="414.7" r="1.04" fill="url(#sb2)" fill-opacity="0.54"/>
<circle cx="364.6" cy="425.8" r="3.46" fill="url(#sb2)" fill-opacity="0.97"/>
<circle cx="355.8" cy="426.8" r="3.81" fill="url(#sb2)" fill-opacity="0.97"/>
<circle cx="343.8" cy="426.1" r="2.08" fill="url(#sb2)" fill-opacity="0.76"/>
<circle cx="302.6" cy="427.5" r="3.81" fill="url(#sb2)" fill-opacity="1.00"/>
<circle cx="308.3" cy="426.8" r="1.39" fill="url(#sb2)" fill-opacity="0.76"/>
<circle cx="312.2" cy="430.3" r="3.46" fill="url(#sb2)" fill-opacity="0.97"/>
<circle cx="330.0" cy="430.3" r="3.12" fill="url(#sb2)" fill-opacity="0.97"/>
<circle cx="352.7" cy="435.7" r="3.46" fill="url(#sb2)" fill-opacity="0.97"/>
<circle cx="345.9" cy="436.7" r="1.39" fill="url(#sb2)" fill-opacity="0.54"/>
<circle cx="320.3" cy="433.2" r="1.73" fill="url(#sb2)" fill-opacity="0.54"/>
<circle cx="325.3" cy="437.4" r="2.42" fill="url(#sb2)" fill-opacity="0.76"/>
<circle cx="330.3" cy="439.6" r="2.77" fill="url(#sb2)" fill-opacity="0.86"/>
<circle cx="333.1" cy="442.0" r="3.46" fill="url(#sb2)" fill-opacity="0.97"/>
<circle cx="337.7" cy="443.1" r="4.85" fill="url(#sb2)" fill-opacity="1.00"/>
<circle cx="346.6" cy="442.4" r="1.39" fill="url(#sb2)" fill-opacity="0.76"/>
<circle cx="297.3" cy="448.1" r="2.77" fill="url(#sb2)" fill-opacity="0.86"/>
<circle cx="351.8" cy="446.7" r="2.08" fill="url(#sb2)" fill-opacity="0.86"/>
<circle cx="362.2" cy="443.1" r="2.42" fill="url(#sb2)" fill-opacity="0.76"/>
<circle cx="361.5" cy="450.9" r="6.24" fill="url(#sb2)" fill-opacity="1.00"/>
<circle cx="357.2" cy="455.9" r="2.77" fill="url(#sb2)" fill-opacity="0.97"/>
<circle cx="327.1" cy="450.2" r="4.85" fill="url(#sb2)" fill-opacity="0.97"/>
<circle cx="332.4" cy="453.8" r="2.42" fill="url(#sb2)" fill-opacity="0.86"/>
<circle cx="306.8" cy="450.9" r="2.08" fill="url(#sb2)" fill-opacity="0.76"/>
<circle cx="313.9" cy="453.3" r="1.73" fill="url(#sb2)" fill-opacity="1.00"/>
<ellipse cx="305.4" cy="456.6" rx="5.2" ry="3.8" transform="rotate(20 305.4 456.6)" fill="url(#sb2)" fill-opacity="1.00"/>
<circle cx="315.8" cy="457.3" r="2.42" fill="url(#sb2)" fill-opacity="0.76"/>
<circle cx="338.8" cy="459.0" r="3.12" fill="url(#sb2)" fill-opacity="1.00"/>
<circle cx="351.3" cy="456.6" r="2.08" fill="url(#sb2)" fill-opacity="0.76"/>
<circle cx="355.8" cy="461.6" r="3.46" fill="url(#sb2)" fill-opacity="0.97"/>
<circle cx="349.9" cy="461.3" r="1.39" fill="url(#sb2)" fill-opacity="0.76"/>
<circle cx="331.7" cy="466.5" r="0.87" fill="url(#sb2)" fill-opacity="0.54"/>
<circle cx="328.8" cy="470.1" r="0.87" fill="url(#sb2)" fill-opacity="0.43"/>
<circle cx="312.5" cy="441.7" r="0.87" fill="url(#sb2)" fill-opacity="0.43"/>
</g></g>
<ellipse cx="326.6" cy="436.8" rx="41.6" ry="41.6" fill="none" stroke="#666" stroke-width="0.9" stroke-opacity="1"/>
</g>
<defs><clipPath id="cliph4"><ellipse cx="422.6" cy="436.4" rx="40.4" ry="40.2"/></clipPath>
<radialGradient id="gradh4" cx="0.42" cy="0.55" r="0.62"><stop offset="0" stop-color="#dcdcdc"/><stop offset="0.6" stop-color="#d6d6d6"/><stop offset="1" stop-color="#cccccc"/></radialGradient></defs>
<g filter="url(#bl)">
<ellipse cx="422.3" cy="436.7" rx="42.6" ry="42.2" fill="url(#gradh4)"/>
<ellipse cx="422.4" cy="436.5" rx="40.6" ry="40.4" fill="none" stroke="#8a8a8a" stroke-width="0.9" stroke-opacity="0.8"/>
<g clip-path="url(#cliph4)"><g>
<ellipse cx="401.4" cy="409.0" rx="5.9" ry="4.5" transform="rotate(-20 401.4 409.0)" fill="url(#sb2)" fill-opacity="1.00"/>
<circle cx="399.3" cy="413.3" r="2.42" fill="url(#sb2)" fill-opacity="0.97"/>
<circle cx="414.9" cy="411.2" r="3.12" fill="url(#sb2)" fill-opacity="1.00"/>
<circle cx="407.5" cy="414.4" r="2.77" fill="url(#sb2)" fill-opacity="1.00"/>
<circle cx="419.2" cy="414.0" r="2.42" fill="url(#sb2)" fill-opacity="0.97"/>
<circle cx="409.9" cy="418.3" r="1.39" fill="url(#sb2)" fill-opacity="0.86"/>
<ellipse cx="426.3" cy="404.1" rx="8.7" ry="3.8" transform="rotate(15 426.3 404.1)" fill="url(#sb2)" fill-opacity="1.00"/>
<circle cx="429.1" cy="410.5" r="5.20" fill="url(#sb2)" fill-opacity="1.00"/>
<circle cx="427.7" cy="416.8" r="5.89" fill="url(#sb2)" fill-opacity="1.00"/>
<circle cx="434.8" cy="418.3" r="5.20" fill="url(#sb2)" fill-opacity="1.00"/>
<circle cx="424.8" cy="422.5" r="2.42" fill="url(#sb2)" fill-opacity="0.97"/>
<circle cx="439.8" cy="420.4" r="2.77" fill="url(#sb2)" fill-opacity="0.97"/>
<circle cx="434.8" cy="407.6" r="2.77" fill="url(#sb2)" fill-opacity="0.86"/>
<circle cx="420.6" cy="399.1" r="2.77" fill="url(#sb2)" fill-opacity="0.76"/>
<circle cx="444.7" cy="407.6" r="3.12" fill="url(#sb2)" fill-opacity="0.65"/>
<circle cx="446.1" cy="411.9" r="2.08" fill="url(#sb2)" fill-opacity="0.76"/>
<circle cx="448.3" cy="421.1" r="3.12" fill="url(#sb2)" fill-opacity="0.97"/>
<circle cx="456.1" cy="422.9" r="3.81" fill="url(#sb2)" fill-opacity="1.00"/>
<circle cx="460.3" cy="421.1" r="2.42" fill="url(#sb2)" fill-opacity="0.65"/>
<circle cx="450.4" cy="426.1" r="2.08" fill="url(#sb2)" fill-opacity="0.92"/>
<circle cx="443.6" cy="418.7" r="1.73" fill="url(#sb2)" fill-opacity="0.86"/>
<ellipse cx="399.3" cy="424.4" rx="5.2" ry="3.1" transform="rotate(0 399.3 424.4)" fill="url(#sb2)" fill-opacity="1.00"/>
<circle cx="417.0" cy="422.5" r="4.16" fill="url(#sb2)" fill-opacity="1.00"/>
<circle cx="410.4" cy="428.6" r="3.12" fill="url(#sb2)" fill-opacity="0.97"/>
<circle cx="417.0" cy="430.3" r="2.42" fill="url(#sb2)" fill-opacity="1.00"/>
<circle cx="387.2" cy="425.4" r="3.81" fill="url(#sb2)" fill-opacity="0.97"/>
<circle cx="387.9" cy="419.0" r="2.08" fill="url(#sb2)" fill-opacity="0.76"/>
<ellipse cx="440.5" cy="429.6" rx="7.6" ry="3.8" transform="rotate(-5 440.5 429.6)" fill="url(#sb2)" fill-opacity="1.00"/>
<circle cx="434.8" cy="430.3" r="2.42" fill="url(#sb2)" fill-opacity="0.97"/>
<circle cx="450.4" cy="433.9" r="2.08" fill="url(#sb2)" fill-opacity="0.86"/>
<circle cx="386.5" cy="434.6" r="5.89" fill="url(#sb2)" fill-opacity="1.00"/>
<circle cx="384.4" cy="441.7" r="4.50" fill="url(#sb2)" fill-opacity="1.00"/>
<circle cx="387.9" cy="446.7" r="4.16" fill="url(#sb2)" fill-opacity="0.97"/>
<ellipse cx="395.7" cy="433.9" rx="6.9" ry="4.5" transform="rotate(10 395.7 433.9)" fill="url(#sb2)" fill-opacity="1.00"/>
<circle cx="402.1" cy="438.1" r="6.24" fill="url(#sb2)" fill-opacity="1.00"/>
<circle cx="408.5" cy="434.6" r="3.81" fill="url(#sb2)" fill-opacity="0.97"/>
<circle cx="413.5" cy="437.4" r="3.46" fill="url(#sb2)" fill-opacity="0.97"/>
<circle cx="404.3" cy="444.5" r="4.50" fill="url(#sb2)" fill-opacity="1.00"/>
<circle cx="409.9" cy="441.0" r="2.77" fill="url(#sb2)" fill-opacity="0.97"/>
<circle cx="416.3" cy="441.0" r="1.73" fill="url(#sb2)" fill-opacity="0.86"/>
<circle cx="424.8" cy="440.3" r="5.20" fill="url(#sb2)" fill-opacity="1.00"/>
<circle cx="432.7" cy="439.6" r="4.16" fill="url(#sb2)" fill-opacity="1.00"/>
<circle cx="427.7" cy="443.8" r="2.42" fill="url(#sb2)" fill-opacity="0.97"/>
<circle cx="440.2" cy="439.6" r="3.12" fill="url(#sb2)" fill-opacity="1.00"/>
<circle cx="452.5" cy="441.0" r="5.20" fill="url(#sb2)" fill-opacity="1.00"/>
<circle cx="449.0" cy="446.7" r="5.20" fill="url(#sb2)" fill-opacity="0.97"/>
<circle cx="456.8" cy="445.9" r="2.42" fill="url(#sb2)" fill-opacity="0.86"/>
<circle cx="461.0" cy="442.4" r="1.39" fill="url(#sb2)" fill-opacity="0.65"/>
<circle cx="420.6" cy="445.7" r="1.73" fill="url(#sb2)" fill-opacity="0.97"/>
<circle cx="435.5" cy="448.1" r="4.85" fill="url(#sb2)" fill-opacity="1.00"/>
<circle cx="429.1" cy="450.9" r="4.16" fill="url(#sb2)" fill-opacity="1.00"/>
<circle cx="441.9" cy="450.9" r="4.50" fill="url(#sb2)" fill-opacity="1.00"/>
<circle cx="450.1" cy="453.0" r="1.73" fill="url(#sb2)" fill-opacity="0.92"/>
<circle cx="418.5" cy="450.9" r="2.42" fill="url(#sb2)" fill-opacity="0.97"/>
<circle cx="412.1" cy="450.2" r="5.20" fill="url(#sb2)" fill-opacity="1.00"/>
<circle cx="408.5" cy="454.5" r="4.50" fill="url(#sb2)" fill-opacity="1.00"/>
<circle cx="412.1" cy="458.0" r="2.77" fill="url(#sb2)" fill-opacity="0.97"/>
<circle cx="397.9" cy="450.2" r="5.20" fill="url(#sb2)" fill-opacity="1.00"/>
<circle cx="393.6" cy="455.9" r="4.85" fill="url(#sb2)" fill-opacity="1.00"/>
<circle cx="401.4" cy="456.6" r="3.46" fill="url(#sb2)" fill-opacity="0.97"/>
<circle cx="388.6" cy="453.0" r="2.77" fill="url(#sb2)" fill-opacity="0.97"/>
<circle cx="395.0" cy="462.3" r="4.50" fill="url(#sb2)" fill-opacity="0.97"/>
<ellipse cx="401.4" cy="463.0" rx="5.2" ry="3.1" transform="rotate(-40 401.4 463.0)" fill="url(#sb2)" fill-opacity="1.00"/>
<circle cx="419.9" cy="460.4" r="3.12" fill="url(#sb2)" fill-opacity="1.00"/>
<circle cx="446.1" cy="458.0" r="3.81" fill="url(#sb2)" fill-opacity="0.97"/>
<circle cx="440.5" cy="460.9" r="2.08" fill="url(#sb2)" fill-opacity="0.97"/>
<circle cx="433.4" cy="458.7" r="1.04" fill="url(#sb2)" fill-opacity="0.76"/>
<circle cx="418.5" cy="465.8" r="3.12" fill="url(#sb2)" fill-opacity="0.86"/>
<ellipse cx="411.4" cy="468.7" rx="5.5" ry="3.8" transform="rotate(0 411.4 468.7)" fill="url(#sb2)" fill-opacity="1.00"/>
<ellipse cx="420.6" cy="470.8" rx="4.5" ry="2.4" transform="rotate(-25 420.6 470.8)" fill="url(#sb2)" fill-opacity="0.97"/>
<ellipse cx="430.5" cy="467.2" rx="8.7" ry="4.2" transform="rotate(10 430.5 467.2)" fill="url(#sb2)" fill-opacity="1.00"/>
<circle cx="439.0" cy="470.1" r="4.16" fill="url(#sb2)" fill-opacity="0.97"/>
<ellipse cx="424.8" cy="473.6" rx="5.2" ry="2.1" transform="rotate(0 424.8 473.6)" fill="url(#sb2)" fill-opacity="0.97"/>
<circle cx="443.3" cy="472.9" r="2.42" fill="url(#sb2)" fill-opacity="0.86"/>
<circle cx="406.4" cy="465.1" r="1.39" fill="url(#sb2)" fill-opacity="0.86"/>
<circle cx="456.1" cy="429.6" r="1.73" fill="url(#sb2)" fill-opacity="0.54"/>
<circle cx="461.8" cy="437.4" r="1.04" fill="url(#sb2)" fill-opacity="0.65"/>
</g></g>
<ellipse cx="422.3" cy="436.7" rx="42.2" ry="41.8" fill="none" stroke="#8a8a8a" stroke-width="0.9" stroke-opacity="1"/>
</g>
<defs><clipPath id="clips1"><ellipse cx="142.7" cy="589.2" rx="38.9" ry="38.9"/></clipPath>
<radialGradient id="grads1" cx="0.42" cy="0.55" r="0.62"><stop offset="0" stop-color="#c6c6c6"/><stop offset="0.6" stop-color="#c6c6c6"/><stop offset="1" stop-color="#c6c6c6"/></radialGradient></defs>
<g filter="url(#bl)">
<ellipse cx="141.9" cy="589.6" rx="43.8" ry="43.8" fill="url(#grads1)"/>
<ellipse cx="141.9" cy="589.6" rx="42.199999999999996" ry="42.199999999999996" fill="none" stroke="#e6e6e6" stroke-width="0.9" stroke-opacity="0.9"/>
<ellipse cx="141.9" cy="589.6" rx="41.199999999999996" ry="41.199999999999996" fill="none" stroke="#a2a2a2" stroke-width="0.6" stroke-opacity="0.8"/>
<ellipse cx="142.7" cy="589.2" rx="38.9" ry="38.9" fill="#d7d7d7"/>
<ellipse cx="142.7" cy="589.2" rx="37.5" ry="37.5" fill="none" stroke="#c8c8c8" stroke-width="1.4" stroke-opacity="0.9"/>
<ellipse cx="142.7" cy="589.2" rx="38.9" ry="38.9" fill="none" stroke="#484848" stroke-width="1.1" stroke-opacity="0.95"/>
<g clip-path="url(#clips1)"><g>
<ellipse cx="134.9" cy="580.9" rx="2.9" ry="2.9" transform="rotate(0 134.9 580.9)" fill="#000" fill-opacity="0.07" stroke="#000" stroke-opacity="0.16" stroke-width="0.5"/>
<ellipse cx="138.8" cy="565.5" rx="2.0" ry="2.0" transform="rotate(0 138.8 565.5)" fill="#000" fill-opacity="0.07" stroke="#000" stroke-opacity="0.16" stroke-width="0.5"/>
<ellipse cx="151.9" cy="584.1" rx="3.2" ry="3.2" transform="rotate(0 151.9 584.1)" fill="#000" fill-opacity="0.07" stroke="#000" stroke-opacity="0.16" stroke-width="0.5"/>
<ellipse cx="141.3" cy="617.7" rx="3.5" ry="3.5" transform="rotate(0 141.3 617.7)" fill="#000" fill-opacity="0.07" stroke="#000" stroke-opacity="0.16" stroke-width="0.5"/>
<ellipse cx="137.4" cy="573.2" rx="1.2" ry="1.2" transform="rotate(0 137.4 573.2)" fill="#000" fill-opacity="0.07" stroke="#000" stroke-opacity="0.16" stroke-width="0.5"/>
<circle cx="139.5" cy="568.1" r="2.03" fill="url(#sb2)" fill-opacity="1.00"/>
<ellipse cx="153.3" cy="576.1" rx="2.8" ry="4.1" transform="rotate(0 153.3 576.1)" fill="url(#sb2)" fill-opacity="1.00"/>
<circle cx="152.6" cy="573.2" r="1.63" fill="url(#sb2)" fill-opacity="0.97"/>
<circle cx="149.0" cy="572.8" r="1.22" fill="url(#sb2)" fill-opacity="0.86"/>
<circle cx="142.1" cy="572.5" r="1.02" fill="url(#sb2)" fill-opacity="0.86"/>
<circle cx="142.1" cy="576.1" r="1.22" fill="url(#sb2)" fill-opacity="0.86"/>
<circle cx="142.1" cy="579.0" r="1.02" fill="url(#sb2)" fill-opacity="0.76"/>
<circle cx="133.4" cy="575.4" r="1.22" fill="url(#sb2)" fill-opacity="0.86"/>
<circle cx="134.9" cy="576.5" r="1.02" fill="url(#sb2)" fill-opacity="0.86"/>
<circle cx="158.4" cy="566.7" r="1.42" fill="url(#sb2)" fill-opacity="0.97"/>
<circle cx="162.0" cy="568.1" r="1.22" fill="url(#sb2)" fill-opacity="0.97"/>
<circle cx="158.4" cy="569.6" r="1.02" fill="url(#sb2)" fill-opacity="0.86"/>
<circle cx="156.2" cy="565.2" r="0.81" fill="url(#sb2)" fill-opacity="0.76"/>
<circle cx="170.0" cy="569.6" r="1.42" fill="url(#sb2)" fill-opacity="0.97"/>
<circle cx="160.6" cy="560.1" r="1.02" fill="url(#sb2)" fill-opacity="0.86"/>
<circle cx="160.6" cy="582.3" r="2.03" fill="url(#sb2)" fill-opacity="1.00"/>
<circle cx="146.8" cy="584.1" r="1.22" fill="url(#sb2)" fill-opacity="0.97"/>
<circle cx="155.5" cy="586.3" r="1.22" fill="url(#sb2)" fill-opacity="0.86"/>
<circle cx="167.1" cy="587.7" r="1.63" fill="url(#sb2)" fill-opacity="0.97"/>
<circle cx="165.7" cy="592.1" r="1.02" fill="url(#sb2)" fill-opacity="0.76"/>
<circle cx="165.4" cy="594.5" r="1.22" fill="url(#sb2)" fill-opacity="0.97"/>
<circle cx="159.4" cy="595.7" r="1.22" fill="url(#sb2)" fill-opacity="0.97"/>
<circle cx="157.7" cy="597.9" r="1.42" fill="url(#sb2)" fill-opacity="0.97"/>
<circle cx="159.4" cy="599.3" r="1.22" fill="url(#sb2)" fill-opacity="0.97"/>
<circle cx="156.9" cy="592.8" r="0.81" fill="url(#sb2)" fill-opacity="0.65"/>
<circle cx="174.4" cy="580.9" r="1.02" fill="url(#sb2)" fill-opacity="0.86"/>
<circle cx="179.4" cy="580.5" r="1.83" fill="url(#sb2)" fill-opacity="0.97"/>
<circle cx="180.6" cy="585.2" r="1.83" fill="url(#sb2)" fill-opacity="0.97"/>
<circle cx="179.4" cy="592.1" r="2.44" fill="url(#sb2)" fill-opacity="1.00"/>
<circle cx="182.3" cy="592.8" r="1.22" fill="url(#sb2)" fill-opacity="0.97"/>
<circle cx="176.5" cy="596.4" r="1.02" fill="url(#sb2)" fill-opacity="0.86"/>
<circle cx="179.4" cy="601.2" r="2.03" fill="url(#sb2)" fill-opacity="0.97"/>
<circle cx="178.0" cy="603.7" r="1.02" fill="url(#sb2)" fill-opacity="0.86"/>
<circle cx="177.3" cy="575.4" r="1.02" fill="url(#sb2)" fill-opacity="0.86"/>
<circle cx="170.7" cy="601.8" r="2.44" fill="url(#sb2)" fill-opacity="1.00"/>
<circle cx="167.8" cy="600.8" r="1.02" fill="url(#sb2)" fill-opacity="0.86"/>
<circle cx="163.5" cy="605.8" r="2.44" fill="url(#sb2)" fill-opacity="1.00"/>
<circle cx="165.7" cy="604.7" r="1.22" fill="url(#sb2)" fill-opacity="0.86"/>
<circle cx="165.4" cy="608.0" r="1.02" fill="url(#sb2)" fill-opacity="0.86"/>
<circle cx="175.8" cy="608.0" r="1.02" fill="url(#sb2)" fill-opacity="0.65"/>
<circle cx="171.5" cy="613.8" r="1.22" fill="url(#sb2)" fill-opacity="0.86"/>
<circle cx="168.6" cy="618.2" r="2.03" fill="url(#sb2)" fill-opacity="1.00"/>
<circle cx="163.9" cy="618.6" r="1.63" fill="url(#sb2)" fill-opacity="1.00"/>
<circle cx="158.4" cy="617.5" r="1.42" fill="url(#sb2)" fill-opacity="0.97"/>
<circle cx="158.4" cy="612.4" r="1.22" fill="url(#sb2)" fill-opacity="0.97"/>
<circle cx="159.1" cy="610.2" r="1.02" fill="url(#sb2)" fill-opacity="0.86"/>
<circle cx="156.9" cy="621.1" r="1.42" fill="url(#sb2)" fill-opacity="0.86"/>
<circle cx="159.8" cy="621.5" r="1.02" fill="url(#sb2)" fill-opacity="0.86"/>
<circle cx="152.6" cy="601.5" r="0.81" fill="url(#sb2)" fill-opacity="0.65"/>
<circle cx="141.7" cy="598.9" r="2.44" fill="url(#sb2)" fill-opacity="1.00"/>
<circle cx="144.2" cy="600.0" r="1.02" fill="url(#sb2)" fill-opacity="0.97"/>
<circle cx="142.1" cy="604.1" r="1.02" fill="url(#sb2)" fill-opacity="0.86"/>
<circle cx="145.3" cy="605.8" r="1.22" fill="url(#sb2)" fill-opacity="0.86"/>
<circle cx="149.4" cy="603.7" r="1.02" fill="url(#sb2)" fill-opacity="0.86"/>
<circle cx="134.9" cy="604.8" r="1.02" fill="url(#sb2)" fill-opacity="0.97"/>
<circle cx="134.9" cy="593.1" r="1.02" fill="url(#sb2)" fill-opacity="0.86"/>
<circle cx="126.5" cy="593.5" r="0.81" fill="url(#sb2)" fill-opacity="0.76"/>
<circle cx="136.3" cy="587.7" r="0.81" fill="url(#sb2)" fill-opacity="0.76"/>
<circle cx="116.3" cy="595.7" r="1.02" fill="url(#sb2)" fill-opacity="0.76"/>
<circle cx="125.7" cy="599.3" r="1.02" fill="url(#sb2)" fill-opacity="0.76"/>
<circle cx="121.4" cy="599.8" r="0.61" fill="url(#sb2)" fill-opacity="0.54"/>
<circle cx="139.5" cy="591.3" r="0.61" fill="url(#sb2)" fill-opacity="0.54"/>
<circle cx="119.2" cy="575.4" r="2.03" fill="url(#sb2)" fill-opacity="1.00"/>
<circle cx="123.3" cy="572.2" r="1.22" fill="url(#sb2)" fill-opacity="0.97"/>
<circle cx="125.7" cy="579.4" r="1.63" fill="url(#sb2)" fill-opacity="0.97"/>
<circle cx="127.2" cy="576.8" r="0.81" fill="url(#sb2)" fill-opacity="0.86"/>
<circle cx="116.3" cy="579.4" r="1.02" fill="url(#sb2)" fill-opacity="0.86"/>
<circle cx="118.5" cy="584.1" r="1.02" fill="url(#sb2)" fill-opacity="0.86"/>
<circle cx="112.0" cy="581.2" r="0.81" fill="url(#sb2)" fill-opacity="0.76"/>
<circle cx="110.2" cy="574.6" r="2.44" fill="url(#sb2)" fill-opacity="1.00"/>
<circle cx="111.2" cy="571.7" r="1.22" fill="url(#sb2)" fill-opacity="0.97"/>
<circle cx="113.1" cy="569.6" r="1.22" fill="url(#sb2)" fill-opacity="0.97"/>
<circle cx="110.5" cy="577.6" r="1.22" fill="url(#sb2)" fill-opacity="0.97"/>
<circle cx="108.3" cy="576.5" r="1.22" fill="url(#sb2)" fill-opacity="0.97"/>
<circle cx="115.6" cy="565.9" r="1.02" fill="url(#sb2)" fill-opacity="0.86"/>
<circle cx="118.5" cy="563.8" r="1.02" fill="url(#sb2)" fill-opacity="0.86"/>
<circle cx="106.2" cy="588.4" r="1.63" fill="url(#sb2)" fill-opacity="0.97"/>
<circle cx="106.4" cy="591.3" r="1.22" fill="url(#sb2)" fill-opacity="0.86"/>
<circle cx="106.2" cy="596.4" r="1.83" fill="url(#sb2)" fill-opacity="0.97"/>
<circle cx="106.4" cy="599.3" r="1.42" fill="url(#sb2)" fill-opacity="0.97"/>
<circle cx="109.4" cy="601.2" r="1.42" fill="url(#sb2)" fill-opacity="0.97"/>
<circle cx="105.9" cy="602.9" r="1.22" fill="url(#sb2)" fill-opacity="0.86"/>
<circle cx="109.8" cy="599.3" r="1.02" fill="url(#sb2)" fill-opacity="0.86"/>
<circle cx="115.6" cy="605.6" r="2.03" fill="url(#sb2)" fill-opacity="1.00"/>
<circle cx="118.9" cy="607.0" r="1.63" fill="url(#sb2)" fill-opacity="0.97"/>
<circle cx="119.2" cy="610.2" r="1.42" fill="url(#sb2)" fill-opacity="0.86"/>
<circle cx="122.1" cy="613.8" r="1.42" fill="url(#sb2)" fill-opacity="0.97"/>
<circle cx="126.5" cy="605.8" r="1.22" fill="url(#sb2)" fill-opacity="0.92"/>
<circle cx="128.6" cy="607.0" r="1.63" fill="url(#sb2)" fill-opacity="0.97"/>
<circle cx="130.8" cy="605.6" r="1.22" fill="url(#sb2)" fill-opacity="0.92"/>
<circle cx="127.9" cy="609.5" r="0.81" fill="url(#sb2)" fill-opacity="0.76"/>
<circle cx="113.1" cy="613.1" r="1.63" fill="url(#sb2)" fill-opacity="0.97"/>
<circle cx="116.3" cy="614.6" r="1.22" fill="url(#sb2)" fill-opacity="0.97"/>
<circle cx="116.0" cy="616.7" r="1.22" fill="url(#sb2)" fill-opacity="0.97"/>
<circle cx="119.9" cy="617.5" r="1.63" fill="url(#sb2)" fill-opacity="1.00"/>
<circle cx="119.2" cy="620.4" r="1.42" fill="url(#sb2)" fill-opacity="0.97"/>
<circle cx="122.4" cy="618.9" r="1.02" fill="url(#sb2)" fill-opacity="0.86"/>
<circle cx="125.0" cy="621.8" r="1.63" fill="url(#sb2)" fill-opacity="0.97"/>
<circle cx="127.2" cy="624.7" r="1.42" fill="url(#sb2)" fill-opacity="0.97"/>
<circle cx="124.3" cy="624.0" r="1.02" fill="url(#sb2)" fill-opacity="0.86"/>
<circle cx="125.7" cy="617.5" r="1.02" fill="url(#sb2)" fill-opacity="0.76"/>
<circle cx="134.0" cy="616.0" r="1.42" fill="url(#sb2)" fill-opacity="0.97"/>
<circle cx="135.2" cy="619.6" r="1.02" fill="url(#sb2)" fill-opacity="0.86"/>
<circle cx="140.7" cy="613.1" r="1.22" fill="url(#sb2)" fill-opacity="0.97"/>
<circle cx="143.6" cy="612.4" r="1.63" fill="url(#sb2)" fill-opacity="1.00"/>
<circle cx="147.9" cy="614.1" r="1.83" fill="url(#sb2)" fill-opacity="0.97"/>
<circle cx="138.1" cy="611.7" r="0.81" fill="url(#sb2)" fill-opacity="0.76"/>
<circle cx="147.1" cy="617.5" r="1.02" fill="url(#sb2)" fill-opacity="0.86"/>
<circle cx="143.6" cy="623.0" r="2.23" fill="url(#sb2)" fill-opacity="1.00"/>
<circle cx="147.1" cy="620.4" r="0.81" fill="url(#sb2)" fill-opacity="0.76"/>
<circle cx="140.3" cy="623.3" r="0.81" fill="url(#sb2)" fill-opacity="0.65"/>
</g></g>
<ellipse cx="141.9" cy="589.6" rx="43.4" ry="43.4" fill="none" stroke="#8e8e8e" stroke-width="0.8" stroke-opacity="1"/>
</g>
<defs><clipPath id="clips2"><ellipse cx="236.1" cy="588.8" rx="38.2" ry="38.2"/></clipPath>
<radialGradient id="grads2" cx="0.42" cy="0.55" r="0.62"><stop offset="0" stop-color="#c6c6c6"/><stop offset="0.6" stop-color="#c6c6c6"/><stop offset="1" stop-color="#c6c6c6"/></radialGradient></defs>
<g filter="url(#bl)">
<ellipse cx="235.5" cy="589.6" rx="43.8" ry="43.8" fill="url(#grads2)"/>
<ellipse cx="235.5" cy="589.6" rx="42.199999999999996" ry="42.199999999999996" fill="none" stroke="#e6e6e6" stroke-width="0.9" stroke-opacity="0.9"/>
<ellipse cx="235.5" cy="589.6" rx="41.199999999999996" ry="41.199999999999996" fill="none" stroke="#a2a2a2" stroke-width="0.6" stroke-opacity="0.8"/>
<ellipse cx="236.1" cy="588.8" rx="38.2" ry="38.2" fill="#d7d7d7"/>
<ellipse cx="236.1" cy="588.8" rx="36.800000000000004" ry="36.800000000000004" fill="none" stroke="#c8c8c8" stroke-width="1.4" stroke-opacity="0.9"/>
<ellipse cx="236.1" cy="588.8" rx="38.2" ry="38.2" fill="none" stroke="#484848" stroke-width="1.1" stroke-opacity="0.95"/>
<g clip-path="url(#clips2)"><g>
<ellipse cx="232.1" cy="571.0" rx="4.6" ry="4.6" transform="rotate(0 232.1 571.0)" fill="#000" fill-opacity="0.07" stroke="#000" stroke-opacity="0.16" stroke-width="0.5"/>
<ellipse cx="249.5" cy="573.2" rx="2.9" ry="2.9" transform="rotate(0 249.5 573.2)" fill="#000" fill-opacity="0.07" stroke="#000" stroke-opacity="0.16" stroke-width="0.5"/>
<ellipse cx="245.1" cy="589.9" rx="1.5" ry="1.5" transform="rotate(0 245.1 589.9)" fill="#000" fill-opacity="0.07" stroke="#000" stroke-opacity="0.16" stroke-width="0.5"/>
<circle cx="216.1" cy="564.1" r="1.63" fill="url(#sb2)" fill-opacity="1.00"/>
<circle cx="221.2" cy="564.5" r="0.81" fill="url(#sb2)" fill-opacity="0.86"/>
<circle cx="226.0" cy="566.4" r="1.02" fill="url(#sb2)" fill-opacity="0.86"/>
<circle cx="234.7" cy="563.8" r="1.42" fill="url(#sb2)" fill-opacity="0.97"/>
<circle cx="237.9" cy="569.3" r="1.42" fill="url(#sb2)" fill-opacity="0.97"/>
<circle cx="251.7" cy="567.8" r="1.42" fill="url(#sb2)" fill-opacity="0.97"/>
<circle cx="241.5" cy="556.5" r="0.81" fill="url(#sb2)" fill-opacity="0.86"/>
<circle cx="233.5" cy="556.2" r="0.61" fill="url(#sb2)" fill-opacity="0.54"/>
<circle cx="210.0" cy="574.2" r="1.22" fill="url(#sb2)" fill-opacity="0.97"/>
<circle cx="203.4" cy="579.0" r="2.23" fill="url(#sb2)" fill-opacity="1.00"/>
<circle cx="204.2" cy="581.2" r="1.22" fill="url(#sb2)" fill-opacity="0.97"/>
<circle cx="211.8" cy="583.8" r="1.22" fill="url(#sb2)" fill-opacity="0.97"/>
<circle cx="214.4" cy="586.3" r="0.81" fill="url(#sb2)" fill-opacity="0.76"/>
<circle cx="201.3" cy="587.3" r="1.02" fill="url(#sb2)" fill-opacity="0.86"/>
<circle cx="201.6" cy="592.1" r="1.02" fill="url(#sb2)" fill-opacity="0.86"/>
<circle cx="204.1" cy="592.5" r="2.03" fill="url(#sb2)" fill-opacity="1.00"/>
<circle cx="205.2" cy="599.3" r="1.02" fill="url(#sb2)" fill-opacity="0.86"/>
<circle cx="207.4" cy="598.3" r="0.81" fill="url(#sb2)" fill-opacity="0.76"/>
<circle cx="210.0" cy="604.8" r="1.63" fill="url(#sb2)" fill-opacity="1.00"/>
<circle cx="222.2" cy="605.6" r="1.42" fill="url(#sb2)" fill-opacity="0.97"/>
<circle cx="228.0" cy="608.5" r="1.02" fill="url(#sb2)" fill-opacity="0.97"/>
<circle cx="229.2" cy="592.8" r="1.63" fill="url(#sb2)" fill-opacity="1.00"/>
<circle cx="240.1" cy="589.6" r="1.22" fill="url(#sb2)" fill-opacity="0.97"/>
<circle cx="244.4" cy="584.8" r="1.42" fill="url(#sb2)" fill-opacity="0.97"/>
<circle cx="249.5" cy="591.6" r="1.22" fill="url(#sb2)" fill-opacity="0.97"/>
<circle cx="241.5" cy="596.4" r="1.02" fill="url(#sb2)" fill-opacity="0.86"/>
<circle cx="238.6" cy="603.7" r="1.02" fill="url(#sb2)" fill-opacity="0.86"/>
<circle cx="245.1" cy="607.6" r="1.02" fill="url(#sb2)" fill-opacity="0.86"/>
<circle cx="252.4" cy="603.7" r="0.81" fill="url(#sb2)" fill-opacity="0.76"/>
<circle cx="257.2" cy="599.6" r="1.83" fill="url(#sb2)" fill-opacity="1.00"/>
<circle cx="259.4" cy="602.2" r="2.23" fill="url(#sb2)" fill-opacity="1.00"/>
<circle cx="263.7" cy="579.0" r="1.22" fill="url(#sb2)" fill-opacity="0.97"/>
<circle cx="269.5" cy="577.6" r="1.02" fill="url(#sb2)" fill-opacity="0.86"/>
<circle cx="259.4" cy="583.4" r="0.61" fill="url(#sb2)" fill-opacity="0.54"/>
<circle cx="245.9" cy="614.8" r="1.63" fill="url(#sb2)" fill-opacity="1.00"/>
<circle cx="248.8" cy="613.4" r="1.02" fill="url(#sb2)" fill-opacity="0.97"/>
<circle cx="248.8" cy="616.7" r="1.63" fill="url(#sb2)" fill-opacity="1.00"/>
<circle cx="246.6" cy="618.9" r="1.22" fill="url(#sb2)" fill-opacity="0.97"/>
<circle cx="253.8" cy="616.3" r="1.02" fill="url(#sb2)" fill-opacity="0.86"/>
<circle cx="235.7" cy="618.2" r="0.81" fill="url(#sb2)" fill-opacity="0.86"/>
<circle cx="236.1" cy="621.8" r="1.22" fill="url(#sb2)" fill-opacity="0.97"/>
<circle cx="240.8" cy="622.5" r="2.03" fill="url(#sb2)" fill-opacity="1.00"/>
<circle cx="243.7" cy="621.8" r="1.22" fill="url(#sb2)" fill-opacity="0.97"/>
<circle cx="237.2" cy="625.9" r="1.63" fill="url(#sb2)" fill-opacity="1.00"/>
<circle cx="240.1" cy="626.9" r="1.22" fill="url(#sb2)" fill-opacity="0.97"/>
<circle cx="243.0" cy="625.4" r="1.22" fill="url(#sb2)" fill-opacity="0.97"/>
<circle cx="246.6" cy="625.9" r="1.83" fill="url(#sb2)" fill-opacity="1.00"/>
<circle cx="252.4" cy="624.4" r="1.63" fill="url(#sb2)" fill-opacity="1.00"/>
<circle cx="251.7" cy="622.5" r="0.81" fill="url(#sb2)" fill-opacity="0.86"/>
<circle cx="216.1" cy="615.3" r="0.61" fill="url(#sb2)" fill-opacity="0.43"/>
<circle cx="273.4" cy="576.8" r="0.61" fill="url(#sb2)" fill-opacity="0.43"/>
</g></g>
<ellipse cx="235.5" cy="589.6" rx="43.4" ry="43.4" fill="none" stroke="#8e8e8e" stroke-width="0.8" stroke-opacity="1"/>
</g>
<defs><clipPath id="clips3"><ellipse cx="331.6" cy="589.6" rx="38.0" ry="38.0"/></clipPath>
<radialGradient id="grads3" cx="0.42" cy="0.55" r="0.62"><stop offset="0" stop-color="#c6c6c6"/><stop offset="0.6" stop-color="#c6c6c6"/><stop offset="1" stop-color="#c6c6c6"/></radialGradient></defs>
<g filter="url(#bl)">
<ellipse cx="328.9" cy="589.9" rx="43.8" ry="43.8" fill="url(#grads3)"/>
<ellipse cx="328.9" cy="589.9" rx="42.199999999999996" ry="42.199999999999996" fill="none" stroke="#e6e6e6" stroke-width="0.9" stroke-opacity="0.9"/>
<ellipse cx="328.9" cy="589.9" rx="41.199999999999996" ry="41.199999999999996" fill="none" stroke="#a2a2a2" stroke-width="0.6" stroke-opacity="0.8"/>
<ellipse cx="331.6" cy="589.6" rx="38.0" ry="38.0" fill="#d7d7d7"/>
<ellipse cx="331.6" cy="589.6" rx="36.6" ry="36.6" fill="none" stroke="#c8c8c8" stroke-width="1.4" stroke-opacity="0.9"/>
<ellipse cx="331.6" cy="589.6" rx="38.0" ry="38.0" fill="none" stroke="#484848" stroke-width="1.1" stroke-opacity="0.95"/>
<g clip-path="url(#clips3)"><g>
<ellipse cx="334.5" cy="572.5" rx="2.0" ry="3.5" transform="rotate(0 334.5 572.5)" fill="#000" fill-opacity="0.07" stroke="#000" stroke-opacity="0.16" stroke-width="0.5"/>
<ellipse cx="314.2" cy="569.3" rx="1.5" ry="1.5" transform="rotate(0 314.2 569.3)" fill="#000" fill-opacity="0.07" stroke="#000" stroke-opacity="0.16" stroke-width="0.5"/>
<ellipse cx="306.2" cy="583.4" rx="2.0" ry="2.0" transform="rotate(0 306.2 583.4)" fill="#000" fill-opacity="0.07" stroke="#000" stroke-opacity="0.16" stroke-width="0.5"/>
<ellipse cx="309.8" cy="599.3" rx="2.0" ry="3.8" transform="rotate(-30 309.8 599.3)" fill="#000" fill-opacity="0.07" stroke="#000" stroke-opacity="0.16" stroke-width="0.5"/>
<ellipse cx="318.6" cy="607.3" rx="3.8" ry="2.3" transform="rotate(0 318.6 607.3)" fill="#000" fill-opacity="0.07" stroke="#000" stroke-opacity="0.16" stroke-width="0.5"/>
<ellipse cx="337.4" cy="609.5" rx="2.0" ry="2.0" transform="rotate(0 337.4 609.5)" fill="#000" fill-opacity="0.07" stroke="#000" stroke-opacity="0.16" stroke-width="0.5"/>
<ellipse cx="309.4" cy="559.1" rx="2.4" ry="2.0" transform="rotate(0 309.4 559.1)" fill="url(#sb2)" fill-opacity="1.00"/>
<circle cx="314.2" cy="559.4" r="1.63" fill="url(#sb2)" fill-opacity="1.00"/>
<circle cx="317.1" cy="558.7" r="1.63" fill="url(#sb2)" fill-opacity="0.97"/>
<circle cx="320.0" cy="558.3" r="1.42" fill="url(#sb2)" fill-opacity="0.97"/>
<circle cx="322.9" cy="557.2" r="1.02" fill="url(#sb2)" fill-opacity="0.86"/>
<circle cx="320.0" cy="553.9" r="0.81" fill="url(#sb2)" fill-opacity="0.76"/>
<circle cx="326.5" cy="554.8" r="0.81" fill="url(#sb2)" fill-opacity="0.76"/>
<circle cx="329.4" cy="553.6" r="1.02" fill="url(#sb2)" fill-opacity="0.86"/>
<circle cx="333.1" cy="553.6" r="1.02" fill="url(#sb2)" fill-opacity="0.86"/>
<circle cx="336.0" cy="554.3" r="0.81" fill="url(#sb2)" fill-opacity="0.86"/>
<circle cx="328.7" cy="559.1" r="1.02" fill="url(#sb2)" fill-opacity="0.86"/>
<circle cx="332.3" cy="558.0" r="1.02" fill="url(#sb2)" fill-opacity="0.86"/>
<circle cx="336.4" cy="559.4" r="1.22" fill="url(#sb2)" fill-opacity="0.97"/>
<circle cx="337.9" cy="561.6" r="1.22" fill="url(#sb2)" fill-opacity="0.97"/>
<circle cx="343.2" cy="559.4" r="1.02" fill="url(#sb2)" fill-opacity="0.86"/>
<circle cx="343.7" cy="556.5" r="0.61" fill="url(#sb2)" fill-opacity="0.76"/>
<circle cx="347.6" cy="562.3" r="0.81" fill="url(#sb2)" fill-opacity="0.76"/>
<circle cx="352.7" cy="562.3" r="1.02" fill="url(#sb2)" fill-opacity="0.76"/>
<circle cx="342.2" cy="564.9" r="1.22" fill="url(#sb2)" fill-opacity="0.97"/>
<circle cx="347.6" cy="565.9" r="1.42" fill="url(#sb2)" fill-opacity="0.97"/>
<circle cx="346.8" cy="568.1" r="1.02" fill="url(#sb2)" fill-opacity="0.86"/>
<circle cx="322.5" cy="568.1" r="2.03" fill="url(#sb2)" fill-opacity="1.00"/>
<circle cx="320.0" cy="564.5" r="0.81" fill="url(#sb2)" fill-opacity="0.76"/>
<circle cx="328.0" cy="568.8" r="0.61" fill="url(#sb2)" fill-opacity="0.65"/>
<circle cx="356.3" cy="568.1" r="1.02" fill="url(#sb2)" fill-opacity="0.76"/>
<circle cx="354.8" cy="571.0" r="1.02" fill="url(#sb2)" fill-opacity="0.86"/>
<circle cx="351.5" cy="571.7" r="0.81" fill="url(#sb2)" fill-opacity="0.76"/>
<circle cx="345.4" cy="571.7" r="1.02" fill="url(#sb2)" fill-opacity="0.86"/>
<circle cx="342.5" cy="572.8" r="1.02" fill="url(#sb2)" fill-opacity="0.86"/>
<circle cx="340.3" cy="573.9" r="0.81" fill="url(#sb2)" fill-opacity="0.76"/>
<circle cx="352.7" cy="573.6" r="1.02" fill="url(#sb2)" fill-opacity="0.86"/>
<circle cx="354.1" cy="576.1" r="1.22" fill="url(#sb2)" fill-opacity="0.97"/>
<circle cx="359.9" cy="573.2" r="0.81" fill="url(#sb2)" fill-opacity="0.65"/>
<circle cx="362.1" cy="580.0" r="1.02" fill="url(#sb2)" fill-opacity="0.86"/>
<circle cx="363.5" cy="582.6" r="1.02" fill="url(#sb2)" fill-opacity="0.86"/>
<circle cx="305.5" cy="576.8" r="1.63" fill="url(#sb2)" fill-opacity="1.00"/>
<circle cx="316.1" cy="576.1" r="1.22" fill="url(#sb2)" fill-opacity="0.97"/>
<circle cx="324.4" cy="574.2" r="1.02" fill="url(#sb2)" fill-opacity="0.86"/>
<circle cx="325.4" cy="580.5" r="1.83" fill="url(#sb2)" fill-opacity="1.00"/>
<circle cx="324.4" cy="577.6" r="0.81" fill="url(#sb2)" fill-opacity="0.76"/>
<circle cx="333.8" cy="579.7" r="1.02" fill="url(#sb2)" fill-opacity="0.86"/>
<circle cx="336.0" cy="579.0" r="1.22" fill="url(#sb2)" fill-opacity="0.97"/>
<circle cx="340.3" cy="578.0" r="1.02" fill="url(#sb2)" fill-opacity="0.86"/>
<circle cx="346.8" cy="577.6" r="1.02" fill="url(#sb2)" fill-opacity="0.86"/>
<circle cx="349.0" cy="579.7" r="1.22" fill="url(#sb2)" fill-opacity="0.97"/>
<circle cx="354.8" cy="580.0" r="1.22" fill="url(#sb2)" fill-opacity="0.97"/>
<circle cx="358.7" cy="584.8" r="2.23" fill="url(#sb2)" fill-opacity="1.00"/>
<circle cx="361.4" cy="585.2" r="1.22" fill="url(#sb2)" fill-opacity="0.97"/>
<circle cx="351.9" cy="584.8" r="1.02" fill="url(#sb2)" fill-opacity="0.86"/>
<circle cx="346.1" cy="584.4" r="1.22" fill="url(#sb2)" fill-opacity="0.97"/>
<circle cx="341.0" cy="582.6" r="0.81" fill="url(#sb2)" fill-opacity="0.76"/>
<circle cx="338.9" cy="585.2" r="0.81" fill="url(#sb2)" fill-opacity="0.76"/>
<circle cx="341.8" cy="587.0" r="1.02" fill="url(#sb2)" fill-opacity="0.86"/>
<circle cx="335.5" cy="587.7" r="1.42" fill="url(#sb2)" fill-opacity="0.97"/>
<circle cx="337.4" cy="590.6" r="1.22" fill="url(#sb2)" fill-opacity="0.97"/>
<circle cx="332.0" cy="585.5" r="0.81" fill="url(#sb2)" fill-opacity="0.76"/>
<circle cx="325.1" cy="587.7" r="1.02" fill="url(#sb2)" fill-opacity="0.86"/>
<circle cx="325.4" cy="591.3" r="1.02" fill="url(#sb2)" fill-opacity="0.86"/>
<circle cx="314.6" cy="585.5" r="1.02" fill="url(#sb2)" fill-opacity="0.86"/>
<circle cx="314.2" cy="588.7" r="1.22" fill="url(#sb2)" fill-opacity="0.97"/>
<circle cx="310.3" cy="589.9" r="1.42" fill="url(#sb2)" fill-opacity="0.97"/>
<circle cx="313.5" cy="593.1" r="0.81" fill="url(#sb2)" fill-opacity="0.76"/>
<circle cx="317.8" cy="592.1" r="0.61" fill="url(#sb2)" fill-opacity="0.65"/>
<circle cx="299.7" cy="589.9" r="1.22" fill="url(#sb2)" fill-opacity="0.86"/>
<circle cx="300.1" cy="592.1" r="0.81" fill="url(#sb2)" fill-opacity="0.76"/>
<circle cx="305.1" cy="597.4" r="1.02" fill="url(#sb2)" fill-opacity="0.86"/>
<circle cx="364.0" cy="587.3" r="1.22" fill="url(#sb2)" fill-opacity="0.97"/>
<circle cx="358.5" cy="594.2" r="1.22" fill="url(#sb2)" fill-opacity="0.97"/>
<circle cx="362.5" cy="595.4" r="1.02" fill="url(#sb2)" fill-opacity="0.86"/>
<circle cx="365.4" cy="597.1" r="2.03" fill="url(#sb2)" fill-opacity="1.00"/>
<circle cx="347.1" cy="596.4" r="2.03" fill="url(#sb2)" fill-opacity="1.00"/>
<circle cx="351.2" cy="598.6" r="0.81" fill="url(#sb2)" fill-opacity="0.76"/>
<circle cx="362.5" cy="600.8" r="1.02" fill="url(#sb2)" fill-opacity="0.86"/>
<circle cx="359.9" cy="602.9" r="1.02" fill="url(#sb2)" fill-opacity="0.86"/>
<circle cx="364.3" cy="600.0" r="0.81" fill="url(#sb2)" fill-opacity="0.76"/>
<circle cx="353.8" cy="602.9" r="1.83" fill="url(#sb2)" fill-opacity="1.00"/>
<circle cx="356.7" cy="605.8" r="1.02" fill="url(#sb2)" fill-opacity="0.86"/>
<circle cx="356.3" cy="608.5" r="1.02" fill="url(#sb2)" fill-opacity="0.86"/>
<circle cx="362.1" cy="606.6" r="0.81" fill="url(#sb2)" fill-opacity="0.76"/>
<circle cx="324.4" cy="597.9" r="1.63" fill="url(#sb2)" fill-opacity="1.00"/>
<circle cx="317.8" cy="600.0" r="1.63" fill="url(#sb2)" fill-opacity="1.00"/>
<circle cx="323.6" cy="601.2" r="0.81" fill="url(#sb2)" fill-opacity="0.76"/>
<circle cx="327.3" cy="600.8" r="0.61" fill="url(#sb2)" fill-opacity="0.65"/>
<circle cx="329.4" cy="604.4" r="1.02" fill="url(#sb2)" fill-opacity="0.86"/>
<circle cx="333.1" cy="608.0" r="1.02" fill="url(#sb2)" fill-opacity="0.86"/>
<circle cx="326.5" cy="605.8" r="0.61" fill="url(#sb2)" fill-opacity="0.65"/>
<circle cx="305.5" cy="604.7" r="1.02" fill="url(#sb2)" fill-opacity="0.86"/>
<circle cx="314.2" cy="607.0" r="0.81" fill="url(#sb2)" fill-opacity="0.76"/>
<circle cx="343.9" cy="608.0" r="0.81" fill="url(#sb2)" fill-opacity="0.76"/>
<circle cx="354.4" cy="612.4" r="1.22" fill="url(#sb2)" fill-opacity="0.97"/>
<circle cx="345.4" cy="613.1" r="1.02" fill="url(#sb2)" fill-opacity="0.86"/>
<circle cx="343.2" cy="614.6" r="0.61" fill="url(#sb2)" fill-opacity="0.65"/>
<circle cx="332.3" cy="613.1" r="0.81" fill="url(#sb2)" fill-opacity="0.76"/>
<circle cx="326.5" cy="612.8" r="1.02" fill="url(#sb2)" fill-opacity="0.86"/>
<circle cx="317.8" cy="614.3" r="1.02" fill="url(#sb2)" fill-opacity="0.86"/>
<circle cx="311.7" cy="612.8" r="1.22" fill="url(#sb2)" fill-opacity="0.97"/>
<circle cx="333.1" cy="615.3" r="0.61" fill="url(#sb2)" fill-opacity="0.65"/>
<circle cx="308.0" cy="617.7" r="1.22" fill="url(#sb2)" fill-opacity="0.97"/>
<circle cx="317.8" cy="622.1" r="1.02" fill="url(#sb2)" fill-opacity="0.86"/>
<circle cx="317.5" cy="624.4" r="0.81" fill="url(#sb2)" fill-opacity="0.76"/>
<circle cx="338.1" cy="623.3" r="1.42" fill="url(#sb2)" fill-opacity="0.97"/>
<circle cx="337.9" cy="625.9" r="1.02" fill="url(#sb2)" fill-opacity="0.86"/>
<circle cx="343.2" cy="621.1" r="1.02" fill="url(#sb2)" fill-opacity="0.86"/>
<circle cx="343.2" cy="623.3" r="1.42" fill="url(#sb2)" fill-opacity="0.97"/>
<circle cx="344.7" cy="625.9" r="1.02" fill="url(#sb2)" fill-opacity="0.86"/>
<circle cx="352.4" cy="619.6" r="1.42" fill="url(#sb2)" fill-opacity="0.97"/>
<circle cx="329.4" cy="625.0" r="0.81" fill="url(#sb2)" fill-opacity="0.65"/>
<circle cx="362.5" cy="589.9" r="0.61" fill="url(#sb2)" fill-opacity="0.65"/>
<circle cx="320.0" cy="608.8" r="0.61" fill="url(#sb2)" fill-opacity="0.54"/>
</g></g>
<ellipse cx="328.9" cy="589.9" rx="43.4" ry="43.4" fill="none" stroke="#8e8e8e" stroke-width="0.8" stroke-opacity="1"/>
</g>
<defs><clipPath id="clips4"><ellipse cx="427.5" cy="589.2" rx="38.3" ry="38.3"/></clipPath>
<radialGradient id="grads4" cx="0.42" cy="0.55" r="0.62"><stop offset="0" stop-color="#c6c6c6"/><stop offset="0.6" stop-color="#c6c6c6"/><stop offset="1" stop-color="#c6c6c6"/></radialGradient></defs>
<g filter="url(#bl)">
<ellipse cx="424.9" cy="589.7" rx="43.5" ry="43.5" fill="url(#grads4)"/>
<ellipse cx="424.9" cy="589.7" rx="41.9" ry="41.9" fill="none" stroke="#e6e6e6" stroke-width="0.9" stroke-opacity="0.9"/>
<ellipse cx="424.9" cy="589.7" rx="40.9" ry="40.9" fill="none" stroke="#a2a2a2" stroke-width="0.6" stroke-opacity="0.8"/>
<ellipse cx="427.5" cy="589.2" rx="38.3" ry="38.3" fill="#d7d7d7"/>
<ellipse cx="427.5" cy="589.2" rx="36.9" ry="36.9" fill="none" stroke="#c8c8c8" stroke-width="1.4" stroke-opacity="0.9"/>
<ellipse cx="427.5" cy="589.2" rx="38.3" ry="38.3" fill="none" stroke="#484848" stroke-width="1.1" stroke-opacity="0.95"/>
<g clip-path="url(#clips4)"><g>
<ellipse cx="415.3" cy="604.4" rx="2.3" ry="2.3" transform="rotate(0 415.3 604.4)" fill="#000" fill-opacity="0.07" stroke="#000" stroke-opacity="0.16" stroke-width="0.5"/>
<circle cx="424.7" cy="555.8" r="1.22" fill="url(#sb2)" fill-opacity="0.97"/>
<circle cx="424.0" cy="558.0" r="0.81" fill="url(#sb2)" fill-opacity="0.86"/>
<circle cx="413.8" cy="559.1" r="1.02" fill="url(#sb2)" fill-opacity="0.86"/>
<circle cx="410.2" cy="556.5" r="0.81" fill="url(#sb2)" fill-opacity="0.76"/>
<circle cx="417.5" cy="558.0" r="0.61" fill="url(#sb2)" fill-opacity="0.76"/>
<circle cx="435.6" cy="557.2" r="1.02" fill="url(#sb2)" fill-opacity="0.86"/>
<circle cx="445.0" cy="556.5" r="1.02" fill="url(#sb2)" fill-opacity="0.86"/>
<circle cx="446.0" cy="558.3" r="0.81" fill="url(#sb2)" fill-opacity="0.76"/>
<circle cx="450.8" cy="560.1" r="1.42" fill="url(#sb2)" fill-opacity="0.97"/>
<circle cx="408.7" cy="563.8" r="1.42" fill="url(#sb2)" fill-opacity="0.97"/>
<circle cx="418.9" cy="563.8" r="0.81" fill="url(#sb2)" fill-opacity="0.76"/>
<circle cx="426.2" cy="564.1" r="2.03" fill="url(#sb2)" fill-opacity="1.00"/>
<circle cx="428.3" cy="561.6" r="1.02" fill="url(#sb2)" fill-opacity="0.86"/>
<circle cx="424.0" cy="565.9" r="1.02" fill="url(#sb2)" fill-opacity="0.86"/>
<circle cx="420.4" cy="568.1" r="2.44" fill="url(#sb2)" fill-opacity="1.00"/>
<circle cx="418.2" cy="566.7" r="1.02" fill="url(#sb2)" fill-opacity="0.86"/>
<circle cx="442.8" cy="563.8" r="1.22" fill="url(#sb2)" fill-opacity="0.97"/>
<circle cx="447.2" cy="564.1" r="1.22" fill="url(#sb2)" fill-opacity="0.97"/>
<circle cx="451.6" cy="565.2" r="1.42" fill="url(#sb2)" fill-opacity="0.97"/>
<circle cx="455.2" cy="567.0" r="1.22" fill="url(#sb2)" fill-opacity="0.97"/>
<circle cx="452.3" cy="568.8" r="1.63" fill="url(#sb2)" fill-opacity="0.97"/>
<circle cx="448.7" cy="568.8" r="1.02" fill="url(#sb2)" fill-opacity="0.86"/>
<circle cx="455.9" cy="569.6" r="1.02" fill="url(#sb2)" fill-opacity="0.86"/>
<circle cx="458.1" cy="571.7" r="1.22" fill="url(#sb2)" fill-opacity="0.97"/>
<circle cx="444.0" cy="569.3" r="2.03" fill="url(#sb2)" fill-opacity="1.00"/>
<circle cx="441.4" cy="571.0" r="1.02" fill="url(#sb2)" fill-opacity="0.86"/>
<circle cx="437.8" cy="571.7" r="2.03" fill="url(#sb2)" fill-opacity="1.00"/>
<circle cx="435.6" cy="570.3" r="1.02" fill="url(#sb2)" fill-opacity="0.86"/>
<circle cx="434.9" cy="574.6" r="1.02" fill="url(#sb2)" fill-opacity="0.86"/>
<circle cx="432.0" cy="575.4" r="0.81" fill="url(#sb2)" fill-opacity="0.76"/>
<circle cx="425.4" cy="573.2" r="1.63" fill="url(#sb2)" fill-opacity="0.97"/>
<circle cx="426.9" cy="575.4" r="1.02" fill="url(#sb2)" fill-opacity="0.86"/>
<circle cx="422.5" cy="574.6" r="0.61" fill="url(#sb2)" fill-opacity="0.65"/>
<circle cx="409.5" cy="571.7" r="1.22" fill="url(#sb2)" fill-opacity="0.97"/>
<circle cx="407.3" cy="570.3" r="0.81" fill="url(#sb2)" fill-opacity="0.76"/>
<circle cx="398.6" cy="567.0" r="1.02" fill="url(#sb2)" fill-opacity="0.76"/>
<circle cx="397.6" cy="573.2" r="1.02" fill="url(#sb2)" fill-opacity="0.86"/>
<circle cx="393.2" cy="576.1" r="1.02" fill="url(#sb2)" fill-opacity="0.86"/>
<circle cx="395.0" cy="579.7" r="0.81" fill="url(#sb2)" fill-opacity="0.76"/>
<circle cx="400.0" cy="576.8" r="1.42" fill="url(#sb2)" fill-opacity="0.97"/>
<circle cx="402.2" cy="578.3" r="1.22" fill="url(#sb2)" fill-opacity="0.97"/>
<circle cx="405.8" cy="578.0" r="2.84" fill="url(#sb2)" fill-opacity="1.00"/>
<circle cx="402.9" cy="576.5" r="1.02" fill="url(#sb2)" fill-opacity="0.86"/>
<circle cx="414.6" cy="580.5" r="2.03" fill="url(#sb2)" fill-opacity="1.00"/>
<circle cx="418.2" cy="581.2" r="1.02" fill="url(#sb2)" fill-opacity="0.86"/>
<circle cx="422.5" cy="579.4" r="1.02" fill="url(#sb2)" fill-opacity="0.86"/>
<circle cx="426.2" cy="580.0" r="1.22" fill="url(#sb2)" fill-opacity="0.97"/>
<circle cx="428.3" cy="580.9" r="1.22" fill="url(#sb2)" fill-opacity="0.97"/>
<circle cx="430.5" cy="579.0" r="1.02" fill="url(#sb2)" fill-opacity="0.86"/>
<circle cx="434.1" cy="580.0" r="0.81" fill="url(#sb2)" fill-opacity="0.76"/>
<circle cx="439.2" cy="580.5" r="1.63" fill="url(#sb2)" fill-opacity="1.00"/>
<circle cx="441.4" cy="581.9" r="1.02" fill="url(#sb2)" fill-opacity="0.86"/>
<circle cx="443.6" cy="580.0" r="0.81" fill="url(#sb2)" fill-opacity="0.76"/>
<circle cx="448.7" cy="580.5" r="2.44" fill="url(#sb2)" fill-opacity="1.00"/>
<circle cx="447.2" cy="583.4" r="1.63" fill="url(#sb2)" fill-opacity="0.97"/>
<circle cx="450.1" cy="577.6" r="1.22" fill="url(#sb2)" fill-opacity="0.97"/>
<circle cx="450.8" cy="573.2" r="1.63" fill="url(#sb2)" fill-opacity="0.97"/>
<circle cx="455.2" cy="576.1" r="1.22" fill="url(#sb2)" fill-opacity="0.97"/>
<circle cx="458.5" cy="579.0" r="1.63" fill="url(#sb2)" fill-opacity="0.97"/>
<circle cx="460.3" cy="576.8" r="1.02" fill="url(#sb2)" fill-opacity="0.86"/>
<circle cx="459.5" cy="581.9" r="1.02" fill="url(#sb2)" fill-opacity="0.86"/>
<circle cx="446.5" cy="576.8" r="0.81" fill="url(#sb2)" fill-opacity="0.76"/>
<circle cx="394.7" cy="586.3" r="1.63" fill="url(#sb2)" fill-opacity="1.00"/>
<circle cx="397.1" cy="591.3" r="1.22" fill="url(#sb2)" fill-opacity="0.97"/>
<circle cx="390.9" cy="589.2" r="0.81" fill="url(#sb2)" fill-opacity="0.76"/>
<circle cx="400.8" cy="584.1" r="1.02" fill="url(#sb2)" fill-opacity="0.86"/>
<circle cx="406.6" cy="586.3" r="1.42" fill="url(#sb2)" fill-opacity="0.97"/>
<circle cx="407.3" cy="588.4" r="1.63" fill="url(#sb2)" fill-opacity="1.00"/>
<circle cx="410.2" cy="589.2" r="2.03" fill="url(#sb2)" fill-opacity="1.00"/>
<circle cx="413.1" cy="588.1" r="1.22" fill="url(#sb2)" fill-opacity="0.97"/>
<circle cx="417.0" cy="585.5" r="1.02" fill="url(#sb2)" fill-opacity="0.86"/>
<circle cx="417.9" cy="589.9" r="1.42" fill="url(#sb2)" fill-opacity="0.97"/>
<circle cx="420.4" cy="588.7" r="1.02" fill="url(#sb2)" fill-opacity="0.86"/>
<circle cx="421.8" cy="592.1" r="1.22" fill="url(#sb2)" fill-opacity="0.97"/>
<circle cx="424.0" cy="590.6" r="0.81" fill="url(#sb2)" fill-opacity="0.76"/>
<circle cx="420.4" cy="584.8" r="0.81" fill="url(#sb2)" fill-opacity="0.76"/>
<circle cx="429.1" cy="586.3" r="3.25" fill="url(#sb2)" fill-opacity="1.00"/>
<circle cx="432.7" cy="587.7" r="4.06" fill="url(#sb2)" fill-opacity="1.00"/>
<circle cx="436.3" cy="588.4" r="2.03" fill="url(#sb2)" fill-opacity="1.00"/>
<circle cx="431.2" cy="590.6" r="1.63" fill="url(#sb2)" fill-opacity="1.00"/>
<circle cx="434.9" cy="591.3" r="1.63" fill="url(#sb2)" fill-opacity="0.97"/>
<circle cx="427.6" cy="584.1" r="1.63" fill="url(#sb2)" fill-opacity="0.97"/>
<circle cx="438.5" cy="590.6" r="1.22" fill="url(#sb2)" fill-opacity="0.97"/>
<circle cx="440.7" cy="588.4" r="1.02" fill="url(#sb2)" fill-opacity="0.86"/>
<circle cx="426.2" cy="588.4" r="1.22" fill="url(#sb2)" fill-opacity="0.97"/>
<circle cx="437.8" cy="594.2" r="1.22" fill="url(#sb2)" fill-opacity="0.97"/>
<circle cx="439.9" cy="592.8" r="1.02" fill="url(#sb2)" fill-opacity="0.86"/>
<circle cx="442.8" cy="597.1" r="1.63" fill="url(#sb2)" fill-opacity="1.00"/>
<circle cx="445.0" cy="595.4" r="1.02" fill="url(#sb2)" fill-opacity="0.86"/>
<circle cx="434.1" cy="596.4" r="1.02" fill="url(#sb2)" fill-opacity="0.86"/>
<circle cx="436.3" cy="598.6" r="1.02" fill="url(#sb2)" fill-opacity="0.86"/>
<circle cx="426.9" cy="597.9" r="1.42" fill="url(#sb2)" fill-opacity="0.97"/>
<circle cx="424.7" cy="596.4" r="1.02" fill="url(#sb2)" fill-opacity="0.86"/>
<circle cx="429.1" cy="600.0" r="1.22" fill="url(#sb2)" fill-opacity="0.97"/>
<circle cx="431.2" cy="599.3" r="0.81" fill="url(#sb2)" fill-opacity="0.76"/>
<circle cx="420.4" cy="595.7" r="1.02" fill="url(#sb2)" fill-opacity="0.86"/>
<circle cx="418.9" cy="599.3" r="1.22" fill="url(#sb2)" fill-opacity="0.97"/>
<circle cx="416.0" cy="597.1" r="0.81" fill="url(#sb2)" fill-opacity="0.76"/>
<circle cx="413.1" cy="599.3" r="1.02" fill="url(#sb2)" fill-opacity="0.86"/>
<circle cx="410.9" cy="601.5" r="1.22" fill="url(#sb2)" fill-opacity="0.97"/>
<circle cx="408.0" cy="602.9" r="1.02" fill="url(#sb2)" fill-opacity="0.86"/>
<circle cx="404.8" cy="596.9" r="1.22" fill="url(#sb2)" fill-opacity="0.97"/>
<circle cx="406.6" cy="597.9" r="0.81" fill="url(#sb2)" fill-opacity="0.86"/>
<circle cx="402.2" cy="605.1" r="1.02" fill="url(#sb2)" fill-opacity="0.86"/>
<circle cx="407.3" cy="605.1" r="1.02" fill="url(#sb2)" fill-opacity="0.86"/>
<circle cx="418.9" cy="602.2" r="0.81" fill="url(#sb2)" fill-opacity="0.76"/>
<circle cx="421.1" cy="605.8" r="0.61" fill="url(#sb2)" fill-opacity="0.65"/>
<circle cx="451.6" cy="589.2" r="1.42" fill="url(#sb2)" fill-opacity="0.97"/>
<circle cx="454.5" cy="589.9" r="2.03" fill="url(#sb2)" fill-opacity="1.00"/>
<circle cx="453.7" cy="592.1" r="1.02" fill="url(#sb2)" fill-opacity="0.86"/>
<circle cx="448.4" cy="592.1" r="1.02" fill="url(#sb2)" fill-opacity="0.86"/>
<circle cx="459.5" cy="591.3" r="2.03" fill="url(#sb2)" fill-opacity="1.00"/>
<circle cx="458.8" cy="593.5" r="1.22" fill="url(#sb2)" fill-opacity="0.97"/>
<circle cx="462.4" cy="593.5" r="0.81" fill="url(#sb2)" fill-opacity="0.76"/>
<circle cx="454.2" cy="597.1" r="2.03" fill="url(#sb2)" fill-opacity="1.00"/>
<circle cx="455.9" cy="598.9" r="1.22" fill="url(#sb2)" fill-opacity="0.97"/>
<circle cx="450.1" cy="599.8" r="1.02" fill="url(#sb2)" fill-opacity="0.86"/>
<circle cx="447.2" cy="600.8" r="1.22" fill="url(#sb2)" fill-opacity="0.97"/>
<circle cx="442.8" cy="601.5" r="1.02" fill="url(#sb2)" fill-opacity="0.86"/>
<circle cx="445.0" cy="602.9" r="0.81" fill="url(#sb2)" fill-opacity="0.76"/>
<circle cx="458.8" cy="601.5" r="1.02" fill="url(#sb2)" fill-opacity="0.86"/>
<circle cx="438.5" cy="601.5" r="0.81" fill="url(#sb2)" fill-opacity="0.76"/>
<circle cx="434.9" cy="602.9" r="1.02" fill="url(#sb2)" fill-opacity="0.86"/>
<circle cx="432.7" cy="605.1" r="1.02" fill="url(#sb2)" fill-opacity="0.86"/>
<circle cx="429.1" cy="602.9" r="0.81" fill="url(#sb2)" fill-opacity="0.76"/>
<circle cx="455.2" cy="606.6" r="2.03" fill="url(#sb2)" fill-opacity="1.00"/>
<circle cx="452.7" cy="609.0" r="2.03" fill="url(#sb2)" fill-opacity="1.00"/>
<circle cx="449.8" cy="609.5" r="1.22" fill="url(#sb2)" fill-opacity="0.97"/>
<circle cx="458.5" cy="605.1" r="1.02" fill="url(#sb2)" fill-opacity="0.86"/>
<circle cx="456.6" cy="610.2" r="1.02" fill="url(#sb2)" fill-opacity="0.86"/>
<circle cx="444.0" cy="607.3" r="1.22" fill="url(#sb2)" fill-opacity="0.97"/>
<circle cx="442.8" cy="609.5" r="1.02" fill="url(#sb2)" fill-opacity="0.86"/>
<circle cx="446.0" cy="612.4" r="1.02" fill="url(#sb2)" fill-opacity="0.86"/>
<circle cx="451.3" cy="613.1" r="1.22" fill="url(#sb2)" fill-opacity="0.97"/>
<circle cx="447.2" cy="615.3" r="1.02" fill="url(#sb2)" fill-opacity="0.86"/>
<circle cx="441.4" cy="612.8" r="0.81" fill="url(#sb2)" fill-opacity="0.76"/>
<circle cx="439.9" cy="616.0" r="0.81" fill="url(#sb2)" fill-opacity="0.76"/>
<circle cx="429.1" cy="613.8" r="1.02" fill="url(#sb2)" fill-opacity="0.86"/>
<circle cx="431.2" cy="608.8" r="1.02" fill="url(#sb2)" fill-opacity="0.86"/>
<circle cx="417.0" cy="612.8" r="1.63" fill="url(#sb2)" fill-opacity="1.00"/>
<circle cx="416.0" cy="614.6" r="1.02" fill="url(#sb2)" fill-opacity="0.86"/>
<circle cx="411.6" cy="612.4" r="0.81" fill="url(#sb2)" fill-opacity="0.76"/>
<circle cx="412.4" cy="616.7" r="0.81" fill="url(#sb2)" fill-opacity="0.76"/>
<circle cx="400.8" cy="610.2" r="1.22" fill="url(#sb2)" fill-opacity="0.97"/>
<circle cx="402.9" cy="612.4" r="1.42" fill="url(#sb2)" fill-opacity="0.97"/>
<circle cx="399.3" cy="613.8" r="1.42" fill="url(#sb2)" fill-opacity="0.97"/>
<circle cx="397.1" cy="612.4" r="1.02" fill="url(#sb2)" fill-opacity="0.86"/>
<circle cx="401.9" cy="616.0" r="1.22" fill="url(#sb2)" fill-opacity="0.97"/>
<circle cx="404.4" cy="615.3" r="0.81" fill="url(#sb2)" fill-opacity="0.76"/>
<circle cx="400.5" cy="617.5" r="0.81" fill="url(#sb2)" fill-opacity="0.76"/>
<circle cx="404.4" cy="608.0" r="0.81" fill="url(#sb2)" fill-opacity="0.76"/>
<circle cx="413.1" cy="620.4" r="1.63" fill="url(#sb2)" fill-opacity="1.00"/>
<circle cx="415.3" cy="621.8" r="1.63" fill="url(#sb2)" fill-opacity="1.00"/>
<circle cx="417.5" cy="623.3" r="1.42" fill="url(#sb2)" fill-opacity="0.97"/>
<circle cx="414.6" cy="624.7" r="1.22" fill="url(#sb2)" fill-opacity="0.97"/>
<circle cx="411.6" cy="623.3" r="1.02" fill="url(#sb2)" fill-opacity="0.86"/>
<circle cx="418.2" cy="625.4" r="1.02" fill="url(#sb2)" fill-opacity="0.86"/>
<circle cx="418.9" cy="621.1" r="0.81" fill="url(#sb2)" fill-opacity="0.76"/>
<circle cx="422.5" cy="619.6" r="1.02" fill="url(#sb2)" fill-opacity="0.86"/>
<circle cx="410.2" cy="626.2" r="0.81" fill="url(#sb2)" fill-opacity="0.76"/>
<circle cx="426.9" cy="625.4" r="2.44" fill="url(#sb2)" fill-opacity="1.00"/>
<circle cx="429.8" cy="625.9" r="2.03" fill="url(#sb2)" fill-opacity="1.00"/>
<circle cx="432.0" cy="624.7" r="1.22" fill="url(#sb2)" fill-opacity="0.97"/>
<circle cx="434.9" cy="624.0" r="1.63" fill="url(#sb2)" fill-opacity="1.00"/>
<circle cx="437.0" cy="624.4" r="1.63" fill="url(#sb2)" fill-opacity="1.00"/>
<circle cx="437.0" cy="621.1" r="1.22" fill="url(#sb2)" fill-opacity="0.97"/>
<circle cx="429.1" cy="622.5" r="0.81" fill="url(#sb2)" fill-opacity="0.76"/>
<circle cx="438.5" cy="623.3" r="1.02" fill="url(#sb2)" fill-opacity="0.86"/>
<circle cx="464.6" cy="585.5" r="0.81" fill="url(#sb2)" fill-opacity="0.54"/>
</g></g>
<ellipse cx="424.9" cy="589.7" rx="43.1" ry="43.1" fill="none" stroke="#8e8e8e" stroke-width="0.8" stroke-opacity="1"/>
</g>
<path d="M543.60,295.34 V292.40 M537.90,292.40 h11.4" stroke="#111" stroke-width="1.2" fill="none"/>
<clipPath id="cb00"><rect x="533.20" y="295.94" width="20.80" height="24.86"/></clipPath><g clip-path="url(#cb00)"><rect x="533.20" y="295.94" width="20.80" height="24.86" fill="url(#pNC)"/></g>
<rect x="533.20" y="295.94" width="20.80" height="24.86" fill="none" stroke="#111" stroke-width="1.25"/>
<path d="M577.75,309.05 V307.09 M572.05,307.09 h11.4" stroke="#111" stroke-width="1.2" fill="none"/>
<clipPath id="cb01"><rect x="567.40" y="309.65" width="20.70" height="11.15"/></clipPath><g clip-path="url(#cb01)"><rect x="567.40" y="309.65" width="20.70" height="11.15" fill="#fff"/><path d="M552.40,320.80 l12.15,-12.15 M552.40,320.80 l-12.15,-12.15 M554.90,320.80 l12.15,-12.15 M554.90,320.80 l-12.15,-12.15 M557.40,320.80 l12.15,-12.15 M557.40,320.80 l-12.15,-12.15 M559.90,320.80 l12.15,-12.15 M559.90,320.80 l-12.15,-12.15 M562.40,320.80 l12.15,-12.15 M562.40,320.80 l-12.15,-12.15 M564.90,320.80 l12.15,-12.15 M564.90,320.80 l-12.15,-12.15 M567.40,320.80 l12.15,-12.15 M567.40,320.80 l-12.15,-12.15 M569.90,320.80 l12.15,-12.15 M569.90,320.80 l-12.15,-12.15 M572.40,320.80 l12.15,-12.15 M572.40,320.80 l-12.15,-12.15 M574.90,320.80 l12.15,-12.15 M574.90,320.80 l-12.15,-12.15 M577.40,320.80 l12.15,-12.15 M577.40,320.80 l-12.15,-12.15 M579.90,320.80 l12.15,-12.15 M579.90,320.80 l-12.15,-12.15 M582.40,320.80 l12.15,-12.15 M582.40,320.80 l-12.15,-12.15 M584.90,320.80 l12.15,-12.15 M584.90,320.80 l-12.15,-12.15 M587.40,320.80 l12.15,-12.15 M587.40,320.80 l-12.15,-12.15 M589.90,320.80 l12.15,-12.15 M589.90,320.80 l-12.15,-12.15 M592.40,320.80 l12.15,-12.15 M592.40,320.80 l-12.15,-12.15 M594.90,320.80 l12.15,-12.15 M594.90,320.80 l-12.15,-12.15 M597.40,320.80 l12.15,-12.15 M597.40,320.80 l-12.15,-12.15 M599.90,320.80 l12.15,-12.15 M599.90,320.80 l-12.15,-12.15" stroke="#111" stroke-width="0.95" fill="none"/></g>
<rect x="567.40" y="309.65" width="20.70" height="11.15" fill="none" stroke="#111" stroke-width="1.25"/>
<path d="M611.90,293.06 V291.10 M606.20,291.10 h11.4" stroke="#111" stroke-width="1.2" fill="none"/>
<clipPath id="cb02"><rect x="601.50" y="293.66" width="20.80" height="27.14"/></clipPath><g clip-path="url(#cb02)"><rect x="601.50" y="293.66" width="20.80" height="27.14" fill="#fff"/><path d="M601.50,319.25 h20.80 M601.50,316.18 h20.80 M601.50,313.11 h20.80 M601.50,310.04 h20.80 M601.50,306.97 h20.80 M601.50,303.90 h20.80 M601.50,300.83 h20.80 M601.50,297.76 h20.80" stroke="#c4c4c4" stroke-width="0.6" fill="none"/><path d="M601.50,317.70 h20.80 M601.50,314.63 h20.80 M601.50,311.56 h20.80 M601.50,308.49 h20.80 M601.50,305.42 h20.80 M601.50,302.35 h20.80 M601.50,299.28 h20.80 M601.50,296.21 h20.80" stroke="#333" stroke-width="0.8" fill="none"/></g>
<rect x="601.50" y="293.66" width="20.80" height="27.14" fill="none" stroke="#111" stroke-width="1.25"/>
<path d="M645.80,274.12 V268.25 M640.10,268.25 h11.4" stroke="#111" stroke-width="1.2" fill="none"/>
<clipPath id="cb03"><rect x="635.40" y="274.72" width="20.80" height="46.08"/></clipPath><g clip-path="url(#cb03)"><rect x="635.40" y="274.72" width="20.80" height="46.08" fill="#fff"/><path d="M637.40,274.72 v46.08 M641.36,274.72 v46.08 M645.32,274.72 v46.08 M649.28,274.72 v46.08 M653.24,274.72 v46.08" stroke="#a8a8a8" stroke-width="0.7" fill="none"/><path d="M639.38,274.72 v46.08 M643.34,274.72 v46.08 M647.30,274.72 v46.08 M651.26,274.72 v46.08 M655.22,274.72 v46.08" stroke="#333" stroke-width="0.8" fill="none"/></g>
<rect x="635.40" y="274.72" width="20.80" height="46.08" fill="none" stroke="#111" stroke-width="1.25"/>
<path d="M526.1,238.7 V320.8 H663.2" fill="none" stroke="#1a1a1a" stroke-width="1.3"/>
<line x1="522.5" x2="526.1" y1="320.80" y2="320.80" stroke="#1a1a1a" stroke-width="1.2"/>
<text x="523.0" y="324.60" text-anchor="end" font-size="10.2" textLength="6.2" lengthAdjust="spacingAndGlyphs">0</text>
<line x1="522.5" x2="526.1" y1="304.48" y2="304.48" stroke="#1a1a1a" stroke-width="1.2"/>
<text x="523.0" y="308.28" text-anchor="end" font-size="10.2" textLength="12.4" lengthAdjust="spacingAndGlyphs">50</text>
<line x1="522.5" x2="526.1" y1="288.16" y2="288.16" stroke="#1a1a1a" stroke-width="1.2"/>
<text x="523.0" y="291.96" text-anchor="end" font-size="10.2" textLength="18.6" lengthAdjust="spacingAndGlyphs">100</text>
<line x1="522.5" x2="526.1" y1="271.84" y2="271.84" stroke="#1a1a1a" stroke-width="1.2"/>
<text x="523.0" y="275.64" text-anchor="end" font-size="10.2" textLength="18.6" lengthAdjust="spacingAndGlyphs">150</text>
<line x1="522.5" x2="526.1" y1="255.52" y2="255.52" stroke="#1a1a1a" stroke-width="1.2"/>
<text x="523.0" y="259.32" text-anchor="end" font-size="10.2" textLength="18.6" lengthAdjust="spacingAndGlyphs">200</text>
<line x1="522.5" x2="526.1" y1="239.20" y2="239.20" stroke="#1a1a1a" stroke-width="1.2"/>
<text x="523.0" y="243.00" text-anchor="end" font-size="10.2" textLength="18.6" lengthAdjust="spacingAndGlyphs">250</text>
<text x="595.2" y="224" text-anchor="middle" font-size="10.3" textLength="26" lengthAdjust="spacingAndGlyphs">A549</text>
<text transform="translate(499.0,277.6) rotate(-90)" text-anchor="middle" font-size="10" textLength="69.5" lengthAdjust="spacingAndGlyphs">Colony Number</text>
<line x1="544.3" x2="577.8" y1="286.5" y2="286.5" stroke="#333" stroke-width="1"/>
<text x="560.9" y="287.0" text-anchor="middle" font-size="10.8" fill="#111" stroke="#111" stroke-width="0.15">*</text>
<line x1="612.6" x2="646.5" y1="262" y2="262" stroke="#333" stroke-width="1"/>
<text x="629.5" y="262.7" text-anchor="middle" font-size="10.8" fill="#111" stroke="#111" stroke-width="0.15">*</text>
<rect x="539.5" y="233.9" width="9.3" height="3.2" fill="#777"/>
<rect x="539.5" y="233.9" width="9.3" height="3.2" fill="none" stroke="#111" stroke-width="1.4"/>
<text x="554.2" y="238.0" font-size="6.6" textLength="10.5" lengthAdjust="spacingAndGlyphs" fill="#222" stroke="#222" stroke-width="0.18">NC</text>
<rect x="539.5" y="244.8" width="9.3" height="3.2" fill="#fff"/><path d="M540.2,246.9 l1.3,-1.3 l1.3,1.3 l1.3,-1.3 l1.3,1.3 l1.3,-1.3 l1.3,1.3" stroke="#111" stroke-width="0.9" fill="none"/>
<rect x="539.5" y="244.8" width="9.3" height="3.2" fill="none" stroke="#111" stroke-width="1.4"/>
<text x="554.2" y="248.9" font-size="6.6" textLength="31.5" lengthAdjust="spacingAndGlyphs" fill="#222" stroke="#222" stroke-width="0.18">siKLHL17</text>
<rect x="606.7" y="233.9" width="9.3" height="3.2" fill="#fff"/>
<rect x="606.7" y="233.9" width="9.3" height="3.2" fill="none" stroke="#111" stroke-width="1.4"/>
<text x="621.6" y="238.0" font-size="6.6" textLength="22" lengthAdjust="spacingAndGlyphs" fill="#222" stroke="#222" stroke-width="0.18">Empty</text>
<rect x="606.7" y="244.8" width="9.3" height="3.2" fill="#fff"/><path d="M609.4000000000001,244.8 v3.2 M611.35,244.8 v3.2 M613.3000000000001,244.8 v3.2" stroke="#222" stroke-width="0.8" fill="none"/>
<rect x="606.7" y="244.8" width="9.3" height="3.2" fill="none" stroke="#111" stroke-width="1.4"/>
<text x="621.6" y="248.9" font-size="6.6" textLength="26.3" lengthAdjust="spacingAndGlyphs" fill="#222" stroke="#222" stroke-width="0.18">KLHL17</text>
<path d="M542.95,445.48 V443.60 M537.25,443.60 h11.4" stroke="#111" stroke-width="1.2" fill="none"/>
<clipPath id="cb10"><rect x="532.30" y="446.08" width="21.30" height="29.22"/></clipPath><g clip-path="url(#cb10)"><rect x="532.30" y="446.08" width="21.30" height="29.22" fill="url(#pNC)"/></g>
<rect x="532.30" y="446.08" width="21.30" height="29.22" fill="none" stroke="#111" stroke-width="1.25"/>
<path d="M577.05,462.14 V461.14 M571.35,461.14 h11.4" stroke="#111" stroke-width="1.2" fill="none"/>
<clipPath id="cb11"><rect x="566.50" y="462.74" width="21.10" height="12.56"/></clipPath><g clip-path="url(#cb11)"><rect x="566.50" y="462.74" width="21.10" height="12.56" fill="#fff"/><path d="M549.00,475.30 l13.56,-13.56 M549.00,475.30 l-13.56,-13.56 M551.50,475.30 l13.56,-13.56 M551.50,475.30 l-13.56,-13.56 M554.00,475.30 l13.56,-13.56 M554.00,475.30 l-13.56,-13.56 M556.50,475.30 l13.56,-13.56 M556.50,475.30 l-13.56,-13.56 M559.00,475.30 l13.56,-13.56 M559.00,475.30 l-13.56,-13.56 M561.50,475.30 l13.56,-13.56 M561.50,475.30 l-13.56,-13.56 M564.00,475.30 l13.56,-13.56 M564.00,475.30 l-13.56,-13.56 M566.50,475.30 l13.56,-13.56 M566.50,475.30 l-13.56,-13.56 M569.00,475.30 l13.56,-13.56 M569.00,475.30 l-13.56,-13.56 M571.50,475.30 l13.56,-13.56 M571.50,475.30 l-13.56,-13.56 M574.00,475.30 l13.56,-13.56 M574.00,475.30 l-13.56,-13.56 M576.50,475.30 l13.56,-13.56 M576.50,475.30 l-13.56,-13.56 M579.00,475.30 l13.56,-13.56 M579.00,475.30 l-13.56,-13.56 M581.50,475.30 l13.56,-13.56 M581.50,475.30 l-13.56,-13.56 M584.00,475.30 l13.56,-13.56 M584.00,475.30 l-13.56,-13.56 M586.50,475.30 l13.56,-13.56 M586.50,475.30 l-13.56,-13.56 M589.00,475.30 l13.56,-13.56 M589.00,475.30 l-13.56,-13.56 M591.50,475.30 l13.56,-13.56 M591.50,475.30 l-13.56,-13.56 M594.00,475.30 l13.56,-13.56 M594.00,475.30 l-13.56,-13.56 M596.50,475.30 l13.56,-13.56 M596.50,475.30 l-13.56,-13.56 M599.00,475.30 l13.56,-13.56 M599.00,475.30 l-13.56,-13.56 M601.50,475.30 l13.56,-13.56 M601.50,475.30 l-13.56,-13.56" stroke="#111" stroke-width="0.95" fill="none"/></g>
<rect x="566.50" y="462.74" width="21.10" height="12.56" fill="none" stroke="#111" stroke-width="1.25"/>
<path d="M611.30,445.48 V441.09 M605.60,441.09 h11.4" stroke="#111" stroke-width="1.2" fill="none"/>
<clipPath id="cb12"><rect x="600.90" y="446.08" width="20.80" height="29.22"/></clipPath><g clip-path="url(#cb12)"><rect x="600.90" y="446.08" width="20.80" height="29.22" fill="#fff"/><path d="M600.90,473.75 h20.80 M600.90,470.68 h20.80 M600.90,467.61 h20.80 M600.90,464.54 h20.80 M600.90,461.47 h20.80 M600.90,458.40 h20.80 M600.90,455.33 h20.80 M600.90,452.26 h20.80 M600.90,449.19 h20.80" stroke="#c4c4c4" stroke-width="0.6" fill="none"/><path d="M600.90,472.20 h20.80 M600.90,469.13 h20.80 M600.90,466.06 h20.80 M600.90,462.99 h20.80 M600.90,459.92 h20.80 M600.90,456.85 h20.80 M600.90,453.78 h20.80 M600.90,450.71 h20.80 M600.90,447.64 h20.80" stroke="#333" stroke-width="0.8" fill="none"/></g>
<rect x="600.90" y="446.08" width="20.80" height="29.22" fill="none" stroke="#111" stroke-width="1.25"/>
<path d="M645.15,421.42 V417.97 M639.45,417.97 h11.4" stroke="#111" stroke-width="1.2" fill="none"/>
<clipPath id="cb13"><rect x="634.50" y="422.02" width="21.30" height="53.28"/></clipPath><g clip-path="url(#cb13)"><rect x="634.50" y="422.02" width="21.30" height="53.28" fill="#fff"/><path d="M636.50,422.02 v53.28 M640.46,422.02 v53.28 M644.42,422.02 v53.28 M648.38,422.02 v53.28 M652.34,422.02 v53.28" stroke="#a8a8a8" stroke-width="0.7" fill="none"/><path d="M638.48,422.02 v53.28 M642.44,422.02 v53.28 M646.40,422.02 v53.28 M650.36,422.02 v53.28 M654.32,422.02 v53.28" stroke="#333" stroke-width="0.8" fill="none"/></g>
<rect x="634.50" y="422.02" width="21.30" height="53.28" fill="none" stroke="#111" stroke-width="1.25"/>
<path d="M525.9,393.1 V475.3 H663.2" fill="none" stroke="#1a1a1a" stroke-width="1.3"/>
<line x1="522.3" x2="525.9" y1="475.30" y2="475.30" stroke="#1a1a1a" stroke-width="1.2"/>
<text x="523.0" y="479.10" text-anchor="end" font-size="10.2" textLength="6.2" lengthAdjust="spacingAndGlyphs">0</text>
<line x1="522.3" x2="525.9" y1="443.97" y2="443.97" stroke="#1a1a1a" stroke-width="1.2"/>
<text x="523.0" y="447.77" text-anchor="end" font-size="10.2" textLength="12.4" lengthAdjust="spacingAndGlyphs">50</text>
<line x1="522.3" x2="525.9" y1="412.65" y2="412.65" stroke="#1a1a1a" stroke-width="1.2"/>
<text x="523.0" y="416.45" text-anchor="end" font-size="10.2" textLength="18.6" lengthAdjust="spacingAndGlyphs">100</text>
<text x="594.5" y="378.1" text-anchor="middle" font-size="10.3" textLength="33.3" lengthAdjust="spacingAndGlyphs">H1299</text>
<text transform="translate(497.9,432.3) rotate(-90)" text-anchor="middle" font-size="10" textLength="69.5" lengthAdjust="spacingAndGlyphs">Colony Number</text>
<line x1="543.4" x2="577.8" y1="438" y2="438" stroke="#333" stroke-width="1"/>
<text x="560.3" y="439.9" text-anchor="middle" font-size="10.8" fill="#111" stroke="#111" stroke-width="0.15">**</text>
<line x1="611.1" x2="645.6" y1="412.6" y2="412.6" stroke="#333" stroke-width="1"/>
<text x="628.1" y="413.6" text-anchor="middle" font-size="10.8" fill="#111" stroke="#111" stroke-width="0.15">*</text>
<rect x="542.4" y="385.3" width="9.3" height="3.2" fill="#777"/>
<rect x="542.4" y="385.3" width="9.3" height="3.2" fill="none" stroke="#111" stroke-width="1.4"/>
<text x="557.4" y="389.40000000000003" font-size="6.6" textLength="10.5" lengthAdjust="spacingAndGlyphs" fill="#222" stroke="#222" stroke-width="0.18">NC</text>
<rect x="542.4" y="396.4" width="9.3" height="3.2" fill="#fff"/><path d="M543.1,398.5 l1.3,-1.3 l1.3,1.3 l1.3,-1.3 l1.3,1.3 l1.3,-1.3 l1.3,1.3" stroke="#111" stroke-width="0.9" fill="none"/>
<rect x="542.4" y="396.4" width="9.3" height="3.2" fill="none" stroke="#111" stroke-width="1.4"/>
<text x="557.4" y="400.5" font-size="6.6" textLength="31.2" lengthAdjust="spacingAndGlyphs" fill="#222" stroke="#222" stroke-width="0.18">siKLHL17</text>
<rect x="607.3" y="385.3" width="9.3" height="3.2" fill="#fff"/>
<rect x="607.3" y="385.3" width="9.3" height="3.2" fill="none" stroke="#111" stroke-width="1.4"/>
<text x="622.2" y="389.40000000000003" font-size="6.6" textLength="22" lengthAdjust="spacingAndGlyphs" fill="#222" stroke="#222" stroke-width="0.18">Empty</text>
<rect x="607.3" y="396.4" width="9.3" height="3.2" fill="#fff"/><path d="M610.0,396.4 v3.2 M611.9499999999999,396.4 v3.2 M613.9,396.4 v3.2" stroke="#222" stroke-width="0.8" fill="none"/>
<rect x="607.3" y="396.4" width="9.3" height="3.2" fill="none" stroke="#111" stroke-width="1.4"/>
<text x="622.2" y="400.5" font-size="6.6" textLength="26.3" lengthAdjust="spacingAndGlyphs" fill="#222" stroke="#222" stroke-width="0.18">KLHL17</text>
<path d="M545.00,590.15 V588.11 M539.30,588.11 h11.4" stroke="#111" stroke-width="1.2" fill="none"/>
<clipPath id="cb20"><rect x="534.60" y="590.75" width="20.80" height="36.45"/></clipPath><g clip-path="url(#cb20)"><rect x="534.60" y="590.75" width="20.80" height="36.45" fill="url(#pNC)"/></g>
<rect x="534.60" y="590.75" width="20.80" height="36.45" fill="none" stroke="#111" stroke-width="1.25"/>
<path d="M579.20,611.96 V610.90 M573.50,610.90 h11.4" stroke="#111" stroke-width="1.2" fill="none"/>
<clipPath id="cb21"><rect x="568.80" y="612.56" width="20.80" height="14.64"/></clipPath><g clip-path="url(#cb21)"><rect x="568.80" y="612.56" width="20.80" height="14.64" fill="#fff"/><path d="M551.30,627.20 l15.64,-15.64 M551.30,627.20 l-15.64,-15.64 M553.80,627.20 l15.64,-15.64 M553.80,627.20 l-15.64,-15.64 M556.30,627.20 l15.64,-15.64 M556.30,627.20 l-15.64,-15.64 M558.80,627.20 l15.64,-15.64 M558.80,627.20 l-15.64,-15.64 M561.30,627.20 l15.64,-15.64 M561.30,627.20 l-15.64,-15.64 M563.80,627.20 l15.64,-15.64 M563.80,627.20 l-15.64,-15.64 M566.30,627.20 l15.64,-15.64 M566.30,627.20 l-15.64,-15.64 M568.80,627.20 l15.64,-15.64 M568.80,627.20 l-15.64,-15.64 M571.30,627.20 l15.64,-15.64 M571.30,627.20 l-15.64,-15.64 M573.80,627.20 l15.64,-15.64 M573.80,627.20 l-15.64,-15.64 M576.30,627.20 l15.64,-15.64 M576.30,627.20 l-15.64,-15.64 M578.80,627.20 l15.64,-15.64 M578.80,627.20 l-15.64,-15.64 M581.30,627.20 l15.64,-15.64 M581.30,627.20 l-15.64,-15.64 M583.80,627.20 l15.64,-15.64 M583.80,627.20 l-15.64,-15.64 M586.30,627.20 l15.64,-15.64 M586.30,627.20 l-15.64,-15.64 M588.80,627.20 l15.64,-15.64 M588.80,627.20 l-15.64,-15.64 M591.30,627.20 l15.64,-15.64 M591.30,627.20 l-15.64,-15.64 M593.80,627.20 l15.64,-15.64 M593.80,627.20 l-15.64,-15.64 M596.30,627.20 l15.64,-15.64 M596.30,627.20 l-15.64,-15.64 M598.80,627.20 l15.64,-15.64 M598.80,627.20 l-15.64,-15.64 M601.30,627.20 l15.64,-15.64 M601.30,627.20 l-15.64,-15.64 M603.80,627.20 l15.64,-15.64 M603.80,627.20 l-15.64,-15.64 M606.30,627.20 l15.64,-15.64 M606.30,627.20 l-15.64,-15.64" stroke="#111" stroke-width="0.95" fill="none"/></g>
<rect x="568.80" y="612.56" width="20.80" height="14.64" fill="none" stroke="#111" stroke-width="1.25"/>
<path d="M613.40,589.86 V588.02 M607.70,588.02 h11.4" stroke="#111" stroke-width="1.2" fill="none"/>
<clipPath id="cb22"><rect x="603.00" y="590.46" width="20.80" height="36.74"/></clipPath><g clip-path="url(#cb22)"><rect x="603.00" y="590.46" width="20.80" height="36.74" fill="#fff"/><path d="M603.00,625.65 h20.80 M603.00,622.58 h20.80 M603.00,619.51 h20.80 M603.00,616.44 h20.80 M603.00,613.37 h20.80 M603.00,610.30 h20.80 M603.00,607.23 h20.80 M603.00,604.16 h20.80 M603.00,601.09 h20.80 M603.00,598.02 h20.80 M603.00,594.95 h20.80" stroke="#c4c4c4" stroke-width="0.6" fill="none"/><path d="M603.00,624.10 h20.80 M603.00,621.03 h20.80 M603.00,617.96 h20.80 M603.00,614.89 h20.80 M603.00,611.82 h20.80 M603.00,608.75 h20.80 M603.00,605.68 h20.80 M603.00,602.61 h20.80 M603.00,599.54 h20.80 M603.00,596.47 h20.80 M603.00,593.40 h20.80" stroke="#333" stroke-width="0.8" fill="none"/></g>
<rect x="603.00" y="590.46" width="20.80" height="36.74" fill="none" stroke="#111" stroke-width="1.25"/>
<path d="M647.45,579.00 V577.16 M641.75,577.16 h11.4" stroke="#111" stroke-width="1.2" fill="none"/>
<clipPath id="cb23"><rect x="636.80" y="579.60" width="21.30" height="47.60"/></clipPath><g clip-path="url(#cb23)"><rect x="636.80" y="579.60" width="21.30" height="47.60" fill="#fff"/><path d="M638.80,579.60 v47.60 M642.76,579.60 v47.60 M646.72,579.60 v47.60 M650.68,579.60 v47.60 M654.64,579.60 v47.60" stroke="#a8a8a8" stroke-width="0.7" fill="none"/><path d="M640.78,579.60 v47.60 M644.74,579.60 v47.60 M648.70,579.60 v47.60 M652.66,579.60 v47.60 M656.62,579.60 v47.60" stroke="#333" stroke-width="0.8" fill="none"/></g>
<rect x="636.80" y="579.60" width="21.30" height="47.60" fill="none" stroke="#111" stroke-width="1.25"/>
<path d="M527.5,545.0 V627.2 H665.4" fill="none" stroke="#1a1a1a" stroke-width="1.3"/>
<line x1="523.9" x2="527.5" y1="627.20" y2="627.20" stroke="#1a1a1a" stroke-width="1.2"/>
<text x="524.6" y="631.00" text-anchor="end" font-size="10.2" textLength="6.2" lengthAdjust="spacingAndGlyphs">0</text>
<line x1="523.9" x2="527.5" y1="606.78" y2="606.78" stroke="#1a1a1a" stroke-width="1.2"/>
<text x="524.6" y="610.58" text-anchor="end" font-size="10.2" textLength="12.4" lengthAdjust="spacingAndGlyphs">50</text>
<line x1="523.9" x2="527.5" y1="586.35" y2="586.35" stroke="#1a1a1a" stroke-width="1.2"/>
<text x="524.6" y="590.15" text-anchor="end" font-size="10.2" textLength="18.6" lengthAdjust="spacingAndGlyphs">100</text>
<line x1="523.9" x2="527.5" y1="565.92" y2="565.92" stroke="#1a1a1a" stroke-width="1.2"/>
<text x="524.6" y="569.72" text-anchor="end" font-size="10.2" textLength="18.6" lengthAdjust="spacingAndGlyphs">150</text>
<line x1="523.9" x2="527.5" y1="545.50" y2="545.50" stroke="#1a1a1a" stroke-width="1.2"/>
<text x="524.6" y="549.30" text-anchor="end" font-size="10.2" textLength="18.6" lengthAdjust="spacingAndGlyphs">200</text>
<text x="596.5" y="530.9" text-anchor="middle" font-size="10.3" textLength="14.6" lengthAdjust="spacingAndGlyphs">SK</text>
<text transform="translate(499.9,584.6) rotate(-90)" text-anchor="middle" font-size="10" textLength="69.5" lengthAdjust="spacingAndGlyphs">Colony Number</text>
<line x1="544.0" x2="579" y1="581.1" y2="581.1" stroke="#333" stroke-width="1"/>
<text x="561.5" y="583.0" text-anchor="middle" font-size="10.8" fill="#111" stroke="#111" stroke-width="0.15">**</text>
<line x1="610.5" x2="645" y1="571.8" y2="571.8" stroke="#333" stroke-width="1"/>
<text x="627.5" y="572.8" text-anchor="middle" font-size="10.8" fill="#111" stroke="#111" stroke-width="0.15">*</text>
<rect x="548.6" y="538.6" width="9.3" height="3.2" fill="#777"/>
<rect x="548.6" y="538.6" width="9.3" height="3.2" fill="none" stroke="#111" stroke-width="1.4"/>
<text x="563" y="542.7" font-size="6.6" textLength="10.5" lengthAdjust="spacingAndGlyphs" fill="#222" stroke="#222" stroke-width="0.18">NC</text>
<rect x="548.6" y="549.9" width="9.3" height="3.2" fill="#fff"/><path d="M549.3000000000001,552.0 l1.3,-1.3 l1.3,1.3 l1.3,-1.3 l1.3,1.3 l1.3,-1.3 l1.3,1.3" stroke="#111" stroke-width="0.9" fill="none"/>
<rect x="548.6" y="549.9" width="9.3" height="3.2" fill="none" stroke="#111" stroke-width="1.4"/>
<text x="563" y="554.0" font-size="6.6" textLength="31.5" lengthAdjust="spacingAndGlyphs" fill="#222" stroke="#222" stroke-width="0.18">siKLHL17</text>
<rect x="611.7" y="538.6" width="9.3" height="3.2" fill="#fff"/>
<rect x="611.7" y="538.6" width="9.3" height="3.2" fill="none" stroke="#111" stroke-width="1.4"/>
<text x="626" y="542.7" font-size="6.6" textLength="21.6" lengthAdjust="spacingAndGlyphs" fill="#222" stroke="#222" stroke-width="0.18">Empty</text>
<rect x="611.7" y="549.9" width="9.3" height="3.2" fill="#fff"/><path d="M614.4000000000001,549.9 v3.2 M616.35,549.9 v3.2 M618.3000000000001,549.9 v3.2" stroke="#222" stroke-width="0.8" fill="none"/>
<rect x="611.7" y="549.9" width="9.3" height="3.2" fill="none" stroke="#111" stroke-width="1.4"/>
<text x="626" y="554.0" font-size="6.6" textLength="26" lengthAdjust="spacingAndGlyphs" fill="#222" stroke="#222" stroke-width="0.18">KLHL17</text>
</g>
</svg>
</body></html>
